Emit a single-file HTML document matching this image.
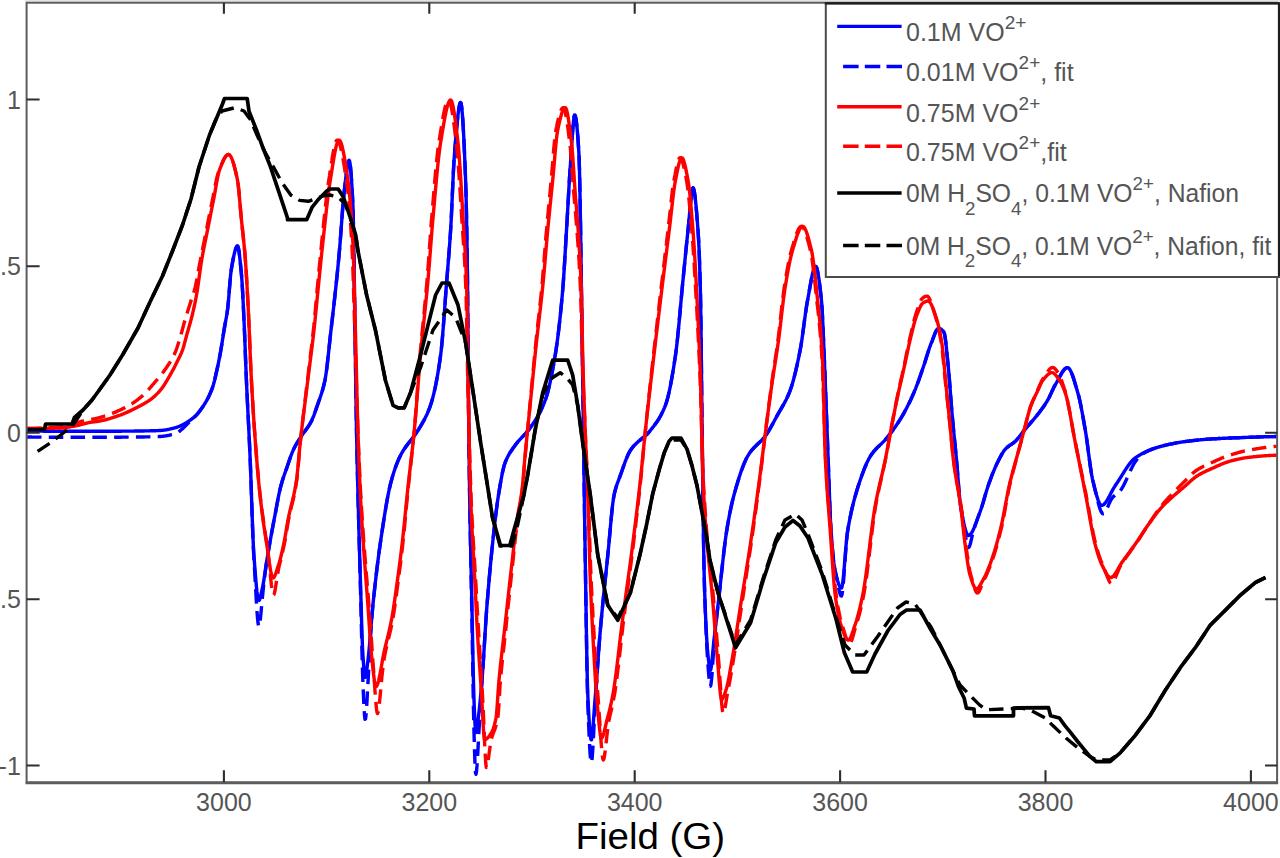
<!DOCTYPE html>
<html><head><meta charset="utf-8"><style>
html,body{margin:0;padding:0;background:#fff;width:1280px;height:858px;overflow:hidden}
svg{display:block}
</style></head><body>
<svg width="1280" height="858" viewBox="0 0 1280 858">
<rect x="0" y="0" width="1280" height="858" fill="#fff"/>
<defs><clipPath id="c"><rect x="27" y="3" width="1250" height="779"/></clipPath></defs>
<g clip-path="url(#c)" fill="none" stroke-width="3.4" stroke-linejoin="round">
<polyline stroke="#0000ff" points="27.0,431.0 27.5,431.0 28.0,431.0 28.5,431.0 29.0,431.0 29.5,431.0 30.0,431.0 30.5,431.0 31.0,431.0 31.5,431.0 32.0,431.1 32.5,431.1 33.0,431.1 33.5,431.1 34.0,431.1 34.5,431.1 35.0,431.1 35.5,431.1 36.0,431.1 36.5,431.1 37.0,431.1 37.5,431.1 38.0,431.1 38.5,431.1 39.0,431.1 39.5,431.1 40.0,431.1 40.5,431.1 41.0,431.1 41.5,431.1 42.0,431.1 42.5,431.1 43.0,431.1 43.5,431.2 44.0,431.2 44.5,431.2 45.0,431.2 45.5,431.2 46.0,431.2 46.5,431.2 47.0,431.2 47.5,431.2 48.0,431.2 48.5,431.2 49.0,431.2 49.5,431.2 50.0,431.2 50.5,431.2 51.0,431.2 51.5,431.2 52.0,431.2 52.5,431.2 53.0,431.2 53.5,431.2 54.0,431.2 54.5,431.2 55.0,431.2 55.5,431.2 56.0,431.2 56.5,431.2 57.0,431.2 57.5,431.2 58.0,431.2 58.5,431.2 59.0,431.2 59.5,431.3 60.0,431.3 60.5,431.3 61.0,431.3 61.5,431.3 62.0,431.3 62.5,431.3 63.0,431.3 63.5,431.3 64.0,431.3 64.5,431.3 65.0,431.3 65.5,431.3 66.0,431.3 66.5,431.3 67.0,431.3 67.5,431.3 68.0,431.3 68.5,431.3 69.0,431.3 69.5,431.3 70.0,431.3 70.5,431.3 71.0,431.3 71.5,431.3 72.0,431.3 72.5,431.3 73.0,431.3 73.5,431.3 74.0,431.3 74.5,431.3 75.0,431.3 75.5,431.3 76.0,431.3 76.5,431.3 77.0,431.3 77.5,431.3 78.0,431.3 78.5,431.3 79.0,431.3 79.5,431.3 80.0,431.3 80.5,431.3 81.0,431.3 81.5,431.3 82.0,431.3 82.5,431.3 83.0,431.3 83.5,431.3 84.0,431.3 84.5,431.3 85.0,431.3 85.5,431.3 86.0,431.3 86.5,431.3 87.0,431.3 87.5,431.3 88.0,431.3 88.5,431.3 89.0,431.3 89.5,431.3 90.0,431.3 90.5,431.3 91.0,431.3 91.5,431.3 92.0,431.3 92.5,431.3 93.0,431.3 93.5,431.3 94.0,431.3 94.5,431.3 95.0,431.3 95.5,431.3 96.0,431.3 96.5,431.3 97.0,431.3 97.5,431.3 98.0,431.3 98.5,431.3 99.0,431.3 99.5,431.3 100.0,431.3 100.5,431.3 101.0,431.3 101.5,431.3 102.0,431.3 102.5,431.3 103.0,431.3 103.5,431.3 104.0,431.2 104.5,431.2 105.0,431.2 105.5,431.2 106.0,431.2 106.5,431.2 107.0,431.2 107.5,431.2 108.0,431.2 108.5,431.2 109.0,431.2 109.5,431.2 110.0,431.2 110.5,431.2 111.0,431.2 111.5,431.2 112.0,431.2 112.5,431.2 113.0,431.2 113.5,431.2 114.0,431.2 114.5,431.2 115.0,431.2 115.5,431.2 116.0,431.2 116.5,431.2 117.0,431.2 117.5,431.2 118.0,431.2 118.5,431.2 119.0,431.2 119.5,431.2 120.0,431.2 120.5,431.2 121.0,431.2 121.5,431.2 122.0,431.1 122.5,431.1 123.0,431.1 123.5,431.1 124.0,431.1 124.5,431.1 125.0,431.1 125.5,431.1 126.0,431.1 126.5,431.1 127.0,431.1 127.5,431.1 128.0,431.1 128.5,431.1 129.0,431.1 129.5,431.1 130.0,431.1 130.5,431.1 131.0,431.1 131.5,431.1 132.0,431.1 132.5,431.1 133.0,431.1 133.5,431.1 134.0,431.1 134.5,431.0 135.0,431.0 135.5,431.0 136.0,431.0 136.5,431.0 137.0,431.0 137.5,431.0 138.0,431.0 138.5,431.0 139.0,431.0 139.5,431.0 140.0,431.0 140.5,431.0 141.0,431.0 141.5,431.0 142.0,431.0 142.5,431.0 143.0,431.0 143.5,431.0 144.0,431.0 144.5,430.9 145.0,430.9 145.5,430.9 146.0,430.9 146.5,430.9 147.0,430.9 147.5,430.9 148.0,430.9 148.5,430.9 149.0,430.9 149.5,430.9 150.0,430.8 150.5,430.8 151.0,430.8 151.5,430.8 152.0,430.8 152.5,430.8 153.0,430.8 153.5,430.7 154.0,430.7 154.5,430.7 155.0,430.7 155.5,430.7 156.0,430.7 156.5,430.6 157.0,430.6 157.5,430.6 158.0,430.6 158.5,430.6 159.0,430.5 159.5,430.5 160.0,430.5 160.5,430.5 161.0,430.4 161.5,430.4 162.0,430.4 162.5,430.3 163.0,430.3 163.5,430.2 164.0,430.1 164.5,430.1 165.0,430.0 165.5,429.9 166.0,429.8 166.5,429.7 167.0,429.7 167.5,429.6 168.0,429.5 168.5,429.4 169.0,429.3 169.5,429.2 170.0,429.0 170.5,428.9 171.0,428.8 171.5,428.7 172.0,428.6 172.5,428.4 173.0,428.3 173.5,428.2 174.0,428.1 174.5,427.9 175.0,427.8 175.5,427.7 176.0,427.5 176.5,427.4 177.0,427.2 177.5,427.0 178.0,426.8 178.5,426.7 179.0,426.5 179.5,426.3 180.0,426.0 180.5,425.8 181.0,425.6 181.5,425.4 182.0,425.1 182.5,424.9 183.0,424.6 183.5,424.4 184.0,424.1 184.5,423.8 185.0,423.5 185.5,423.2 186.0,422.9 186.5,422.6 187.0,422.3 187.5,422.0 188.0,421.7 188.5,421.3 189.0,421.0 189.5,420.6 190.0,420.3 190.5,419.9 191.0,419.6 191.5,419.2 192.0,418.8 192.5,418.5 193.0,418.1 193.5,417.7 194.0,417.3 194.5,416.9 195.0,416.4 195.5,416.0 196.0,415.5 196.5,414.9 197.0,414.4 197.5,413.8 198.0,413.2 198.5,412.6 199.0,412.0 199.5,411.3 200.0,410.7 200.5,410.0 201.0,409.3 201.5,408.6 202.0,407.9 202.5,407.1 203.0,406.4 203.5,405.6 204.0,404.9 204.5,404.1 205.0,403.3 205.5,402.5 206.0,401.6 206.5,400.8 207.0,399.9 207.5,398.9 208.0,398.0 208.5,397.0 209.0,395.9 209.5,394.9 210.0,393.8 210.5,392.6 211.0,391.4 211.5,390.2 212.0,388.9 212.5,387.5 213.0,386.0 213.5,384.4 214.0,382.5 214.5,380.6 215.0,378.5 215.5,376.4 216.0,374.1 216.5,371.9 217.0,369.6 217.5,367.4 218.0,365.1 218.5,362.6 219.0,360.1 219.5,357.5 220.0,354.9 220.5,352.2 221.0,349.3 221.5,346.3 222.0,343.2 222.5,340.0 223.0,336.8 223.5,333.6 224.0,330.4 224.5,327.4 225.0,324.6 225.5,321.9 226.0,319.3 226.5,316.5 227.0,313.5 227.5,310.0 228.0,305.6 228.5,300.3 229.0,294.2 229.5,287.9 230.0,281.8 230.5,276.2 231.0,271.6 231.5,268.2 232.0,265.4 232.5,262.6 233.0,259.9 233.5,257.4 234.0,255.0 234.5,252.8 235.0,250.9 235.5,249.2 236.0,247.9 236.5,246.9 237.0,246.2 237.5,246.0 238.0,246.7 238.5,248.5 239.0,251.4 239.5,255.2 240.0,259.6 240.5,264.5 241.0,269.7 241.5,275.0 242.0,281.4 242.5,289.7 243.0,299.2 243.5,309.5 244.0,320.0 244.5,331.4 245.0,344.1 245.5,357.4 246.0,370.4 246.5,382.3 247.0,393.2 247.5,403.5 248.0,413.5 248.5,423.4 249.0,433.5 249.5,443.9 250.0,455.0 250.5,467.5 251.0,481.4 251.5,496.2 252.0,511.0 252.5,525.1 253.0,537.9 253.5,548.5 254.0,556.4 254.5,563.2 255.0,569.8 255.5,576.1 256.0,582.0 256.5,587.3 257.0,591.9 257.5,595.7 258.0,598.4 258.5,600.1 259.0,600.5 259.5,599.9 260.0,598.5 260.5,596.7 261.0,594.5 261.5,592.2 262.0,590.0 262.5,587.7 263.0,585.1 263.5,582.2 264.0,579.2 264.5,575.9 265.0,572.6 265.5,569.2 266.0,565.8 266.5,562.5 267.0,559.3 267.5,556.2 268.0,553.3 268.5,550.4 269.0,547.5 269.5,544.7 270.0,541.9 270.5,539.1 271.0,536.4 271.5,533.6 272.0,530.9 272.5,528.2 273.0,525.6 273.5,522.9 274.0,520.2 274.5,517.6 275.0,515.0 275.5,512.4 276.0,509.7 276.5,507.0 277.0,504.3 277.5,501.6 278.0,499.0 278.5,496.4 279.0,494.0 279.5,491.6 280.0,489.4 280.5,487.4 281.0,485.5 281.5,483.7 282.0,482.0 282.5,480.3 283.0,478.8 283.5,477.2 284.0,475.8 284.5,474.3 285.0,472.9 285.5,471.5 286.0,470.1 286.5,468.6 287.0,467.2 287.5,465.8 288.0,464.3 288.5,462.8 289.0,461.3 289.5,459.9 290.0,458.4 290.5,457.0 291.0,455.6 291.5,454.3 292.0,453.0 292.5,451.7 293.0,450.6 293.5,449.4 294.0,448.4 294.5,447.4 295.0,446.4 295.5,445.5 296.0,444.7 296.5,443.8 297.0,443.0 297.5,442.2 298.0,441.4 298.5,440.6 299.0,439.8 299.5,439.1 300.0,438.3 300.5,437.5 301.0,436.8 301.5,436.0 302.0,435.2 302.5,434.5 303.0,433.8 303.5,433.1 304.0,432.4 304.5,431.7 305.0,431.0 305.5,430.3 306.0,429.7 306.5,429.0 307.0,428.3 307.5,427.6 308.0,426.9 308.5,426.1 309.0,425.3 309.5,424.5 310.0,423.7 310.5,422.8 311.0,421.9 311.5,420.9 312.0,419.9 312.5,418.7 313.0,417.5 313.5,416.3 314.0,415.0 314.5,413.6 315.0,412.2 315.5,410.8 316.0,409.4 316.5,407.9 317.0,406.5 317.5,405.0 318.0,403.6 318.5,402.1 319.0,400.7 319.5,399.4 320.0,398.0 320.5,396.5 321.0,395.0 321.5,393.5 322.0,391.9 322.5,390.2 323.0,388.4 323.5,386.5 324.0,384.5 324.5,382.3 325.0,380.0 325.5,377.3 326.0,374.1 326.5,370.5 327.0,366.6 327.5,362.3 328.0,357.8 328.5,353.2 329.0,348.5 329.5,343.7 330.0,339.0 330.5,334.4 331.0,330.0 331.5,325.7 332.0,321.4 332.5,317.1 333.0,312.7 333.5,308.4 334.0,304.0 334.5,299.5 335.0,295.0 335.5,290.4 336.0,285.7 336.5,281.0 337.0,276.1 337.5,271.2 338.0,266.1 338.5,260.9 339.0,255.5 339.5,250.0 340.0,244.1 340.5,237.7 341.0,230.9 341.5,224.0 342.0,217.2 342.5,210.5 343.0,204.3 343.5,198.6 344.0,193.7 344.5,189.3 345.0,184.8 345.5,180.3 346.0,176.0 346.5,171.9 347.0,168.2 347.5,165.1 348.0,162.6 348.5,161.0 349.0,160.2 349.5,160.8 350.0,163.1 350.5,167.1 351.0,172.6 351.5,179.5 352.0,187.6 352.5,196.9 353.0,207.4 353.5,228.5 354.0,259.9 354.5,295.7 355.0,330.0 355.5,364.1 356.0,399.4 356.5,430.0 357.0,454.2 357.5,475.3 358.0,495.0 358.5,514.2 359.0,532.4 359.5,550.0 360.0,566.9 360.5,583.3 361.0,600.5 361.5,618.0 362.0,634.2 362.5,647.5 363.0,656.5 363.5,663.6 364.0,670.0 364.5,674.8 365.0,677.4 365.5,677.3 366.0,675.4 366.5,672.3 367.0,668.4 367.5,664.1 368.0,660.0 368.5,655.7 369.0,650.7 369.5,645.1 370.0,639.1 370.5,633.0 371.0,626.7 371.5,620.6 372.0,614.6 372.5,609.1 373.0,604.0 373.5,599.3 374.0,594.6 374.5,590.0 375.0,585.5 375.5,581.1 376.0,576.7 376.5,572.5 377.0,568.3 377.5,564.3 378.0,560.3 378.5,556.5 379.0,552.7 379.5,549.0 380.0,545.5 380.5,542.0 381.0,538.6 381.5,535.2 382.0,531.8 382.5,528.5 383.0,525.2 383.5,521.9 384.0,518.7 384.5,515.6 385.0,512.5 385.5,509.4 386.0,506.5 386.5,503.6 387.0,500.8 387.5,498.0 388.0,495.4 388.5,492.9 389.0,490.5 389.5,488.2 390.0,486.0 390.5,483.9 391.0,482.0 391.5,480.2 392.0,478.4 392.5,476.6 393.0,475.0 393.5,473.3 394.0,471.7 394.5,470.2 395.0,468.7 395.5,467.3 396.0,465.9 396.5,464.6 397.0,463.3 397.5,462.0 398.0,460.8 398.5,459.6 399.0,458.5 399.5,457.4 400.0,456.4 400.5,455.4 401.0,454.4 401.5,453.5 402.0,452.6 402.5,451.8 403.0,450.9 403.5,450.1 404.0,449.4 404.5,448.6 405.0,447.9 405.5,447.2 406.0,446.5 406.5,445.8 407.0,445.2 407.5,444.5 408.0,443.9 408.5,443.2 409.0,442.6 409.5,442.0 410.0,441.4 410.5,440.8 411.0,440.2 411.5,439.5 412.0,438.9 412.5,438.3 413.0,437.7 413.5,437.0 414.0,436.4 414.5,435.7 415.0,435.0 415.5,434.3 416.0,433.6 416.5,432.8 417.0,432.0 417.5,431.2 418.0,430.4 418.5,429.6 419.0,428.7 419.5,427.9 420.0,427.1 420.5,426.3 421.0,425.4 421.5,424.6 422.0,423.7 422.5,422.9 423.0,422.0 423.5,421.1 424.0,420.2 424.5,419.3 425.0,418.3 425.5,417.3 426.0,416.3 426.5,415.3 427.0,414.2 427.5,413.1 428.0,411.9 428.5,410.7 429.0,409.4 429.5,408.1 430.0,406.7 430.5,405.3 431.0,403.8 431.5,402.2 432.0,400.5 432.5,398.8 433.0,396.9 433.5,394.9 434.0,392.9 434.5,390.7 435.0,388.4 435.5,386.0 436.0,383.5 436.5,380.9 437.0,378.2 437.5,375.4 438.0,372.5 438.5,369.4 439.0,366.2 439.5,362.9 440.0,359.5 440.5,355.9 441.0,352.1 441.5,347.5 442.0,342.4 442.5,336.8 443.0,330.7 443.5,324.4 444.0,317.7 444.5,310.9 445.0,304.1 445.5,297.2 446.0,290.4 446.5,283.8 447.0,277.5 447.5,271.4 448.0,265.3 448.5,259.2 449.0,252.9 449.5,246.3 450.0,239.4 450.5,232.0 451.0,223.5 451.5,213.5 452.0,202.5 452.5,191.2 453.0,180.0 453.5,169.7 454.0,160.9 454.5,154.0 455.0,147.8 455.5,141.7 456.0,135.7 456.5,129.9 457.0,124.5 457.5,119.4 458.0,114.8 458.5,110.8 459.0,107.5 459.5,105.0 460.0,103.3 460.5,102.6 461.0,103.2 461.5,105.8 462.0,110.1 462.5,116.0 463.0,123.4 463.5,132.2 464.0,142.1 464.5,153.1 465.0,165.0 465.5,177.6 466.0,193.0 466.5,215.6 467.0,244.8 467.5,280.0 468.0,336.8 468.5,400.0 469.0,448.4 469.5,486.6 470.0,516.2 470.5,541.5 471.0,564.5 471.5,586.6 472.0,609.8 472.5,635.2 473.0,660.7 473.5,683.3 474.0,700.0 474.5,712.8 475.0,724.1 475.5,731.3 476.0,732.5 476.5,731.0 477.0,728.3 477.5,724.7 478.0,720.6 478.5,716.2 479.0,712.0 479.5,707.7 480.0,702.9 480.5,697.6 481.0,692.0 481.5,686.1 482.0,680.0 482.5,673.5 483.0,666.4 483.5,658.7 484.0,650.8 484.5,642.7 485.0,634.6 485.5,626.6 486.0,618.9 486.5,611.7 487.0,605.0 487.5,598.8 488.0,592.7 488.5,586.8 489.0,581.0 489.5,575.3 490.0,569.8 490.5,564.5 491.0,559.3 491.5,554.2 492.0,549.2 492.5,544.3 493.0,539.6 493.5,535.0 494.0,530.5 494.5,526.0 495.0,521.6 495.5,517.3 496.0,513.1 496.5,509.1 497.0,505.3 497.5,501.6 498.0,498.2 498.5,495.0 499.0,491.9 499.5,488.9 500.0,485.9 500.5,483.0 501.0,480.2 501.5,477.5 502.0,474.9 502.5,472.4 503.0,470.2 503.5,468.1 504.0,466.1 504.5,464.5 505.0,463.0 505.5,461.7 506.0,460.5 506.5,459.3 507.0,458.2 507.5,457.2 508.0,456.2 508.5,455.3 509.0,454.4 509.5,453.5 510.0,452.7 510.5,451.9 511.0,451.2 511.5,450.4 512.0,449.7 512.5,449.0 513.0,448.3 513.5,447.6 514.0,446.9 514.5,446.2 515.0,445.5 515.5,444.8 516.0,444.2 516.5,443.5 517.0,442.9 517.5,442.3 518.0,441.7 518.5,441.1 519.0,440.5 519.5,440.0 520.0,439.4 520.5,438.9 521.0,438.3 521.5,437.8 522.0,437.3 522.5,436.8 523.0,436.2 523.5,435.7 524.0,435.2 524.5,434.7 525.0,434.1 525.5,433.6 526.0,433.0 526.5,432.5 527.0,431.9 527.5,431.3 528.0,430.7 528.5,430.1 529.0,429.4 529.5,428.7 530.0,428.0 530.5,427.3 531.0,426.6 531.5,425.9 532.0,425.2 532.5,424.5 533.0,423.7 533.5,423.0 534.0,422.3 534.5,421.5 535.0,420.8 535.5,420.0 536.0,419.2 536.5,418.4 537.0,417.6 537.5,416.7 538.0,415.9 538.5,415.0 539.0,414.1 539.5,413.1 540.0,412.2 540.5,411.2 541.0,410.2 541.5,409.1 542.0,408.1 542.5,406.9 543.0,405.8 543.5,404.6 544.0,403.4 544.5,402.1 545.0,400.8 545.5,399.5 546.0,398.0 546.5,396.5 547.0,394.8 547.5,393.0 548.0,391.2 548.5,389.2 549.0,387.2 549.5,385.1 550.0,382.9 550.5,380.5 551.0,378.2 551.5,375.7 552.0,373.2 552.5,370.5 553.0,367.8 553.5,365.1 554.0,362.3 554.5,359.4 555.0,356.4 555.5,353.4 556.0,350.2 556.5,346.8 557.0,343.3 557.5,339.5 558.0,335.7 558.5,331.6 559.0,327.3 559.5,322.9 560.0,318.3 560.5,313.5 561.0,308.5 561.5,303.3 562.0,297.9 562.5,292.3 563.0,286.4 563.5,279.6 564.0,272.1 564.5,264.1 565.0,255.7 565.5,247.2 566.0,238.7 566.5,230.4 567.0,222.0 567.5,213.2 568.0,204.2 568.5,195.3 569.0,186.5 569.5,178.2 570.0,170.6 570.5,163.4 571.0,155.8 571.5,147.9 572.0,140.2 572.5,132.9 573.0,126.4 573.5,121.1 574.0,117.2 574.5,115.3 575.0,115.3 575.5,116.7 576.0,119.1 576.5,122.7 577.0,127.3 577.5,133.0 578.0,139.5 578.5,146.9 579.0,155.2 579.5,170.7 580.0,194.9 580.5,222.9 581.0,258.4 581.5,295.0 582.0,329.9 582.5,364.9 583.0,400.0 583.5,436.0 584.0,472.8 584.5,508.8 585.0,542.6 585.5,574.1 586.0,606.6 586.5,638.1 587.0,665.7 587.5,686.7 588.0,699.2 588.5,709.3 589.0,718.3 589.5,726.2 590.0,732.5 590.5,737.0 591.0,739.6 591.5,739.8 592.0,737.5 592.5,733.2 593.0,727.4 593.5,720.6 594.0,713.5 594.5,706.4 595.0,700.0 595.5,693.9 596.0,687.5 596.5,680.8 597.0,674.0 597.5,667.1 598.0,660.1 598.5,653.3 599.0,646.6 599.5,640.1 600.0,633.9 600.5,628.1 601.0,622.5 601.5,617.1 602.0,611.8 602.5,606.7 603.0,601.6 603.5,596.6 604.0,591.7 604.5,586.9 605.0,582.1 605.5,577.3 606.0,572.5 606.5,567.7 607.0,563.0 607.5,558.1 608.0,553.2 608.5,548.1 609.0,542.7 609.5,537.1 610.0,531.6 610.5,526.0 611.0,520.6 611.5,515.4 612.0,510.5 612.5,505.9 613.0,501.9 613.5,498.3 614.0,495.5 614.5,493.2 615.0,491.1 615.5,489.2 616.0,487.4 616.5,485.8 617.0,484.3 617.5,482.9 618.0,481.6 618.5,480.3 619.0,479.0 619.5,477.7 620.0,476.3 620.5,474.9 621.0,473.5 621.5,472.1 622.0,470.7 622.5,469.2 623.0,467.8 623.5,466.4 624.0,465.0 624.5,463.6 625.0,462.2 625.5,460.9 626.0,459.6 626.5,458.3 627.0,457.1 627.5,456.0 628.0,454.8 628.5,453.8 629.0,452.8 629.5,451.9 630.0,451.0 630.5,450.3 631.0,449.5 631.5,448.8 632.0,448.2 632.5,447.5 633.0,446.9 633.5,446.3 634.0,445.7 634.5,445.2 635.0,444.7 635.5,444.2 636.0,443.7 636.5,443.2 637.0,442.7 637.5,442.3 638.0,441.8 638.5,441.4 639.0,441.0 639.5,440.6 640.0,440.2 640.5,439.7 641.0,439.3 641.5,438.9 642.0,438.5 642.5,438.1 643.0,437.7 643.5,437.3 644.0,436.9 644.5,436.5 645.0,436.0 645.5,435.6 646.0,435.1 646.5,434.7 647.0,434.2 647.5,433.7 648.0,433.2 648.5,432.6 649.0,432.1 649.5,431.5 650.0,430.9 650.5,430.3 651.0,429.6 651.5,429.0 652.0,428.4 652.5,427.7 653.0,427.1 653.5,426.5 654.0,425.8 654.5,425.2 655.0,424.5 655.5,423.8 656.0,423.1 656.5,422.4 657.0,421.7 657.5,420.9 658.0,420.2 658.5,419.4 659.0,418.6 659.5,417.7 660.0,416.9 660.5,416.0 661.0,415.0 661.5,414.1 662.0,413.1 662.5,412.1 663.0,411.0 663.5,409.9 664.0,408.7 664.5,407.6 665.0,406.3 665.5,405.0 666.0,403.6 666.5,402.1 667.0,400.4 667.5,398.6 668.0,396.7 668.5,394.6 669.0,392.5 669.5,390.2 670.0,387.8 670.5,385.3 671.0,382.6 671.5,379.9 672.0,377.1 672.5,374.2 673.0,371.2 673.5,368.2 674.0,365.0 674.5,361.8 675.0,358.5 675.5,355.2 676.0,351.6 676.5,347.6 677.0,343.3 677.5,338.6 678.0,333.7 678.5,328.6 679.0,323.3 679.5,317.9 680.0,312.4 680.5,306.8 681.0,301.3 681.5,295.8 682.0,290.4 682.5,285.1 683.0,280.0 683.5,275.0 684.0,269.9 684.5,264.8 685.0,259.8 685.5,254.7 686.0,249.7 686.5,244.7 687.0,239.8 687.5,235.1 688.0,230.4 688.5,225.5 689.0,220.1 689.5,214.5 690.0,208.8 690.5,203.4 691.0,198.4 691.5,194.1 692.0,190.8 692.5,188.6 693.0,187.8 693.5,188.4 694.0,190.1 694.5,192.7 695.0,196.3 695.5,200.6 696.0,205.6 696.5,211.2 697.0,217.3 697.5,223.7 698.0,230.4 698.5,238.2 699.0,248.1 699.5,260.7 700.0,276.2 700.5,295.0 701.0,328.1 701.5,375.2 702.0,420.0 702.5,460.0 703.0,500.8 703.5,538.2 704.0,567.9 704.5,586.6 705.0,601.4 705.5,614.4 706.0,625.7 706.5,635.4 707.0,643.5 707.5,650.2 708.0,655.4 708.5,659.9 709.0,664.1 709.5,667.4 710.0,669.6 710.5,670.2 711.0,668.7 711.5,665.5 712.0,661.0 712.5,655.7 713.0,650.1 713.5,644.7 714.0,640.0 714.5,635.7 715.0,631.4 715.5,627.1 716.0,622.7 716.5,618.3 717.0,614.0 717.5,609.6 718.0,605.3 718.5,600.9 719.0,596.5 719.5,591.9 720.0,587.3 720.5,582.6 721.0,578.0 721.5,573.3 722.0,568.7 722.5,564.1 723.0,559.6 723.5,555.2 724.0,550.9 724.5,546.7 725.0,542.7 725.5,538.9 726.0,535.3 726.5,532.0 727.0,528.9 727.5,525.9 728.0,523.0 728.5,520.2 729.0,517.5 729.5,514.8 730.0,512.3 730.5,509.8 731.0,507.5 731.5,505.2 732.0,503.0 732.5,500.9 733.0,498.8 733.5,496.9 734.0,495.0 734.5,493.2 735.0,491.4 735.5,489.6 736.0,487.8 736.5,486.1 737.0,484.4 737.5,482.7 738.0,481.1 738.5,479.4 739.0,477.8 739.5,476.3 740.0,474.7 740.5,473.2 741.0,471.8 741.5,470.3 742.0,469.0 742.5,467.6 743.0,466.3 743.5,465.0 744.0,463.8 744.5,462.6 745.0,461.5 745.5,460.4 746.0,459.3 746.5,458.3 747.0,457.3 747.5,456.4 748.0,455.6 748.5,454.8 749.0,454.0 749.5,453.2 750.0,452.5 750.5,451.8 751.0,451.2 751.5,450.5 752.0,449.9 752.5,449.4 753.0,448.8 753.5,448.2 754.0,447.7 754.5,447.2 755.0,446.7 755.5,446.2 756.0,445.7 756.5,445.2 757.0,444.7 757.5,444.3 758.0,443.8 758.5,443.3 759.0,442.9 759.5,442.4 760.0,441.9 760.5,441.4 761.0,440.9 761.5,440.4 762.0,439.9 762.5,439.3 763.0,438.8 763.5,438.2 764.0,437.6 764.5,437.0 765.0,436.3 765.5,435.7 766.0,435.0 766.5,434.3 767.0,433.5 767.5,432.7 768.0,432.0 768.5,431.2 769.0,430.3 769.5,429.5 770.0,428.7 770.5,427.8 771.0,426.9 771.5,426.0 772.0,425.1 772.5,424.2 773.0,423.3 773.5,422.4 774.0,421.5 774.5,420.5 775.0,419.6 775.5,418.7 776.0,417.8 776.5,416.8 777.0,415.9 777.5,415.0 778.0,414.1 778.5,413.2 779.0,412.3 779.5,411.5 780.0,410.6 780.5,409.8 781.0,408.9 781.5,408.1 782.0,407.2 782.5,406.3 783.0,405.5 783.5,404.6 784.0,403.7 784.5,402.8 785.0,401.8 785.5,400.9 786.0,399.9 786.5,398.9 787.0,397.8 787.5,396.8 788.0,395.7 788.5,394.5 789.0,393.3 789.5,392.1 790.0,390.8 790.5,389.4 791.0,388.0 791.5,386.5 792.0,384.9 792.5,383.2 793.0,381.5 793.5,379.7 794.0,377.8 794.5,375.9 795.0,373.9 795.5,371.8 796.0,369.7 796.5,367.5 797.0,365.3 797.5,363.0 798.0,360.7 798.5,358.3 799.0,355.9 799.5,353.4 800.0,350.9 800.5,348.3 801.0,345.4 801.5,342.2 802.0,338.9 802.5,335.3 803.0,331.7 803.5,328.0 804.0,324.3 804.5,320.6 805.0,316.9 805.5,313.3 806.0,309.9 806.5,306.6 807.0,303.5 807.5,300.7 808.0,298.1 808.5,295.3 809.0,292.5 809.5,289.6 810.0,286.8 810.5,284.0 811.0,281.2 811.5,278.6 812.0,276.1 812.5,273.9 813.0,271.8 813.5,270.1 814.0,268.6 814.5,267.5 815.0,266.7 815.5,266.4 816.0,266.6 816.5,267.4 817.0,268.9 817.5,270.9 818.0,273.3 818.5,276.3 819.0,279.6 819.5,283.3 820.0,287.4 820.5,291.7 821.0,296.2 821.5,301.0 822.0,307.7 822.5,316.7 823.0,327.4 823.5,339.1 824.0,351.2 824.5,363.0 825.0,375.1 825.5,388.2 826.0,401.6 826.5,415.0 827.0,428.3 827.5,441.8 828.0,455.0 828.5,468.5 829.0,482.7 829.5,496.7 830.0,509.8 830.5,521.2 831.0,530.0 831.5,537.1 832.0,543.6 832.5,549.6 833.0,555.0 833.5,559.8 834.0,563.9 834.5,567.3 835.0,570.0 835.5,572.3 836.0,574.4 836.5,576.5 837.0,578.5 837.5,580.4 838.0,582.0 838.5,583.6 839.0,584.9 839.5,586.0 840.0,586.9 840.5,587.5 841.0,587.9 841.5,588.0 842.0,586.8 842.5,584.3 843.0,580.5 843.5,575.8 844.0,570.3 844.5,564.4 845.0,558.2 845.5,552.0 846.0,546.0 846.5,540.5 847.0,535.6 847.5,531.7 848.0,528.7 848.5,525.9 849.0,523.2 849.5,520.5 850.0,518.0 850.5,515.6 851.0,513.2 851.5,510.9 852.0,508.7 852.5,506.6 853.0,504.5 853.5,502.5 854.0,500.6 854.5,498.7 855.0,496.9 855.5,495.1 856.0,493.4 856.5,491.7 857.0,490.0 857.5,488.4 858.0,486.8 858.5,485.3 859.0,483.8 859.5,482.3 860.0,480.8 860.5,479.3 861.0,477.9 861.5,476.4 862.0,475.0 862.5,473.7 863.0,472.3 863.5,471.0 864.0,469.7 864.5,468.4 865.0,467.2 865.5,466.0 866.0,464.8 866.5,463.6 867.0,462.5 867.5,461.5 868.0,460.5 868.5,459.5 869.0,458.5 869.5,457.6 870.0,456.8 870.5,456.0 871.0,455.2 871.5,454.5 872.0,453.8 872.5,453.1 873.0,452.5 873.5,451.8 874.0,451.2 874.5,450.6 875.0,450.1 875.5,449.5 876.0,449.0 876.5,448.5 877.0,447.9 877.5,447.4 878.0,446.9 878.5,446.5 879.0,446.0 879.5,445.5 880.0,445.0 880.5,444.6 881.0,444.1 881.5,443.6 882.0,443.1 882.5,442.6 883.0,442.1 883.5,441.6 884.0,441.1 884.5,440.6 885.0,440.1 885.5,439.5 886.0,439.0 886.5,438.4 887.0,437.8 887.5,437.1 888.0,436.5 888.5,435.9 889.0,435.3 889.5,434.6 890.0,434.0 890.5,433.3 891.0,432.7 891.5,432.0 892.0,431.3 892.5,430.7 893.0,430.0 893.5,429.3 894.0,428.6 894.5,427.9 895.0,427.2 895.5,426.5 896.0,425.8 896.5,425.0 897.0,424.3 897.5,423.5 898.0,422.8 898.5,422.0 899.0,421.2 899.5,420.5 900.0,419.7 900.5,418.9 901.0,418.1 901.5,417.2 902.0,416.4 902.5,415.6 903.0,414.7 903.5,413.8 904.0,412.9 904.5,412.0 905.0,411.1 905.5,410.2 906.0,409.2 906.5,408.3 907.0,407.3 907.5,406.3 908.0,405.3 908.5,404.3 909.0,403.3 909.5,402.3 910.0,401.2 910.5,400.2 911.0,399.1 911.5,398.0 912.0,396.9 912.5,395.8 913.0,394.7 913.5,393.5 914.0,392.4 914.5,391.2 915.0,390.0 915.5,388.8 916.0,387.5 916.5,386.2 917.0,384.9 917.5,383.6 918.0,382.2 918.5,380.9 919.0,379.5 919.5,378.0 920.0,376.6 920.5,375.2 921.0,373.8 921.5,372.3 922.0,370.9 922.5,369.4 923.0,368.0 923.5,366.5 924.0,365.0 924.5,363.5 925.0,361.9 925.5,360.3 926.0,358.7 926.5,357.1 927.0,355.5 927.5,353.9 928.0,352.3 928.5,350.8 929.0,349.2 929.5,347.8 930.0,346.4 930.5,345.0 931.0,343.7 931.5,342.5 932.0,341.3 932.5,340.0 933.0,338.6 933.5,337.3 934.0,336.0 934.5,334.7 935.0,333.4 935.5,332.3 936.0,331.3 936.5,330.3 937.0,329.6 937.5,328.9 938.0,328.5 938.5,328.3 939.0,328.3 939.5,328.4 940.0,328.6 940.5,328.8 941.0,329.1 941.5,329.5 942.0,330.0 942.5,330.5 943.0,331.1 943.5,331.8 944.0,332.5 944.5,333.9 945.0,336.5 945.5,340.0 946.0,344.2 946.5,349.0 947.0,354.0 947.5,359.1 948.0,364.0 948.5,369.1 949.0,374.8 949.5,380.9 950.0,387.3 950.5,393.9 951.0,400.5 951.5,406.8 952.0,412.9 952.5,418.6 953.0,424.0 953.5,429.3 954.0,434.4 954.5,439.4 955.0,444.5 955.5,449.5 956.0,454.7 956.5,460.0 957.0,465.7 957.5,472.0 958.0,478.4 958.5,484.9 959.0,491.0 959.5,496.6 960.0,501.4 960.5,505.0 961.0,508.0 961.5,510.9 962.0,513.8 962.5,516.5 963.0,519.2 963.5,521.7 964.0,524.1 964.5,526.3 965.0,528.3 965.5,530.1 966.0,531.7 966.5,533.0 967.0,534.1 967.5,534.8 968.0,535.3 968.5,535.5 969.0,535.4 969.5,535.2 970.0,534.8 970.5,534.3 971.0,533.7 971.5,533.0 972.0,532.2 972.5,531.2 973.0,530.2 973.5,529.1 974.0,528.0 974.5,526.8 975.0,525.5 975.5,524.2 976.0,522.9 976.5,521.5 977.0,520.1 977.5,518.7 978.0,517.3 978.5,516.0 979.0,514.6 979.5,513.3 980.0,512.0 980.5,510.7 981.0,509.3 981.5,507.8 982.0,506.2 982.5,504.6 983.0,502.9 983.5,501.2 984.0,499.5 984.5,497.8 985.0,496.0 985.5,494.3 986.0,492.6 986.5,490.9 987.0,489.2 987.5,487.7 988.0,486.2 988.5,484.7 989.0,483.3 989.5,481.9 990.0,480.6 990.5,479.2 991.0,477.9 991.5,476.5 992.0,475.2 992.5,474.0 993.0,472.7 993.5,471.5 994.0,470.3 994.5,469.1 995.0,467.9 995.5,466.8 996.0,465.7 996.5,464.6 997.0,463.6 997.5,462.6 998.0,461.5 998.5,460.5 999.0,459.5 999.5,458.5 1000.0,457.5 1000.5,456.6 1001.0,455.7 1001.5,454.8 1002.0,453.9 1002.5,453.1 1003.0,452.3 1003.5,451.5 1004.0,450.8 1004.5,450.1 1005.0,449.5 1005.5,449.0 1006.0,448.5 1006.5,448.0 1007.0,447.5 1007.5,447.1 1008.0,446.7 1008.5,446.3 1009.0,445.9 1009.5,445.6 1010.0,445.2 1010.5,444.9 1011.0,444.6 1011.5,444.2 1012.0,443.9 1012.5,443.5 1013.0,443.2 1013.5,442.8 1014.0,442.4 1014.5,442.0 1015.0,441.6 1015.5,441.1 1016.0,440.6 1016.5,440.1 1017.0,439.5 1017.5,438.9 1018.0,438.3 1018.5,437.7 1019.0,437.1 1019.5,436.4 1020.0,435.8 1020.5,435.1 1021.0,434.4 1021.5,433.7 1022.0,433.1 1022.5,432.4 1023.0,431.8 1023.5,431.1 1024.0,430.5 1024.5,429.9 1025.0,429.3 1025.5,428.7 1026.0,428.2 1026.5,427.6 1027.0,427.0 1027.5,426.4 1028.0,425.9 1028.5,425.3 1029.0,424.7 1029.5,424.2 1030.0,423.6 1030.5,423.0 1031.0,422.5 1031.5,421.9 1032.0,421.3 1032.5,420.8 1033.0,420.2 1033.5,419.6 1034.0,419.0 1034.5,418.4 1035.0,417.8 1035.5,417.2 1036.0,416.6 1036.5,416.0 1037.0,415.3 1037.5,414.7 1038.0,414.0 1038.5,413.4 1039.0,412.8 1039.5,412.1 1040.0,411.5 1040.5,410.8 1041.0,410.1 1041.5,409.5 1042.0,408.8 1042.5,408.1 1043.0,407.4 1043.5,406.7 1044.0,406.0 1044.5,405.2 1045.0,404.5 1045.5,403.7 1046.0,402.9 1046.5,402.1 1047.0,401.3 1047.5,400.5 1048.0,399.6 1048.5,398.7 1049.0,397.7 1049.5,396.7 1050.0,395.6 1050.5,394.5 1051.0,393.5 1051.5,392.4 1052.0,391.3 1052.5,390.2 1053.0,389.2 1053.5,388.1 1054.0,387.1 1054.5,386.2 1055.0,385.2 1055.5,384.4 1056.0,383.5 1056.5,382.7 1057.0,381.8 1057.5,380.8 1058.0,379.9 1058.5,379.0 1059.0,378.0 1059.5,377.1 1060.0,376.2 1060.5,375.3 1061.0,374.4 1061.5,373.5 1062.0,372.7 1062.5,371.9 1063.0,371.2 1063.5,370.5 1064.0,369.9 1064.5,369.3 1065.0,368.8 1065.5,368.4 1066.0,368.1 1066.5,367.8 1067.0,367.7 1067.5,367.6 1068.0,367.7 1068.5,368.0 1069.0,368.4 1069.5,369.0 1070.0,369.8 1070.5,370.7 1071.0,371.7 1071.5,372.8 1072.0,374.1 1072.5,375.4 1073.0,376.9 1073.5,378.4 1074.0,379.9 1074.5,381.5 1075.0,383.2 1075.5,384.9 1076.0,386.6 1076.5,388.3 1077.0,390.0 1077.5,391.7 1078.0,393.4 1078.5,395.2 1079.0,397.2 1079.5,399.3 1080.0,401.5 1080.5,403.9 1081.0,406.4 1081.5,409.0 1082.0,411.6 1082.5,414.3 1083.0,417.1 1083.5,419.9 1084.0,422.7 1084.5,425.6 1085.0,428.5 1085.5,431.4 1086.0,434.5 1086.5,437.8 1087.0,441.4 1087.5,445.1 1088.0,448.9 1088.5,452.7 1089.0,456.5 1089.5,460.3 1090.0,463.9 1090.5,467.5 1091.0,470.8 1091.5,473.9 1092.0,476.7 1092.5,479.1 1093.0,481.2 1093.5,483.2 1094.0,485.3 1094.5,487.3 1095.0,489.3 1095.5,491.2 1096.0,493.1 1096.5,495.0 1097.0,496.7 1097.5,498.3 1098.0,499.8 1098.5,501.1 1099.0,502.3 1099.5,503.3 1100.0,504.2 1100.5,504.8 1101.0,505.2 1101.5,505.4 1102.0,505.4 1102.5,505.2 1103.0,505.0 1103.5,504.7 1104.0,504.3 1104.5,503.8 1105.0,503.2 1105.5,502.6 1106.0,502.0 1106.5,501.2 1107.0,500.4 1107.5,499.6 1108.0,498.7 1108.5,497.8 1109.0,496.9 1109.5,496.0 1110.0,495.0 1110.5,494.1 1111.0,493.1 1111.5,492.1 1112.0,491.2 1112.5,490.2 1113.0,489.3 1113.5,488.4 1114.0,487.6 1114.5,486.8 1115.0,486.0 1115.5,485.3 1116.0,484.5 1116.5,483.8 1117.0,483.1 1117.5,482.3 1118.0,481.5 1118.5,480.8 1119.0,480.0 1119.5,479.2 1120.0,478.4 1120.5,477.6 1121.0,476.8 1121.5,476.0 1122.0,475.2 1122.5,474.4 1123.0,473.6 1123.5,472.8 1124.0,472.0 1124.5,471.2 1125.0,470.4 1125.5,469.6 1126.0,468.9 1126.5,468.1 1127.0,467.4 1127.5,466.6 1128.0,465.9 1128.5,465.2 1129.0,464.5 1129.5,463.9 1130.0,463.2 1130.5,462.6 1131.0,462.0 1131.5,461.4 1132.0,460.9 1132.5,460.3 1133.0,459.8 1133.5,459.3 1134.0,458.9 1134.5,458.5 1135.0,458.1 1135.5,457.7 1136.0,457.4 1136.5,457.1 1137.0,456.7 1137.5,456.4 1138.0,456.1 1138.5,455.8 1139.0,455.5 1139.5,455.2 1140.0,454.9 1140.5,454.6 1141.0,454.3 1141.5,454.0 1142.0,453.7 1142.5,453.5 1143.0,453.2 1143.5,452.9 1144.0,452.7 1144.5,452.4 1145.0,452.2 1145.5,452.0 1146.0,451.7 1146.5,451.5 1147.0,451.3 1147.5,451.0 1148.0,450.8 1148.5,450.6 1149.0,450.4 1149.5,450.2 1150.0,450.0 1150.5,449.8 1151.0,449.6 1151.5,449.4 1152.0,449.2 1152.5,449.0 1153.0,448.9 1153.5,448.7 1154.0,448.5 1154.5,448.3 1155.0,448.2 1155.5,448.0 1156.0,447.8 1156.5,447.7 1157.0,447.5 1157.5,447.4 1158.0,447.2 1158.5,447.1 1159.0,446.9 1159.5,446.8 1160.0,446.6 1160.5,446.5 1161.0,446.4 1161.5,446.2 1162.0,446.1 1162.5,446.0 1163.0,445.8 1163.5,445.7 1164.0,445.6 1164.5,445.4 1165.0,445.3 1165.5,445.2 1166.0,445.1 1166.5,445.0 1167.0,444.8 1167.5,444.7 1168.0,444.6 1168.5,444.5 1169.0,444.4 1169.5,444.3 1170.0,444.2 1170.5,444.1 1171.0,444.0 1171.5,443.9 1172.0,443.8 1172.5,443.6 1173.0,443.6 1173.5,443.5 1174.0,443.4 1174.5,443.3 1175.0,443.2 1175.5,443.1 1176.0,443.0 1176.5,442.9 1177.0,442.8 1177.5,442.7 1178.0,442.6 1178.5,442.5 1179.0,442.5 1179.5,442.4 1180.0,442.3 1180.5,442.2 1181.0,442.1 1181.5,442.1 1182.0,442.0 1182.5,441.9 1183.0,441.8 1183.5,441.8 1184.0,441.7 1184.5,441.6 1185.0,441.6 1185.5,441.5 1186.0,441.4 1186.5,441.4 1187.0,441.3 1187.5,441.2 1188.0,441.2 1188.5,441.1 1189.0,441.1 1189.5,441.0 1190.0,440.9 1190.5,440.9 1191.0,440.8 1191.5,440.7 1192.0,440.7 1192.5,440.6 1193.0,440.6 1193.5,440.5 1194.0,440.5 1194.5,440.4 1195.0,440.4 1195.5,440.3 1196.0,440.2 1196.5,440.2 1197.0,440.1 1197.5,440.1 1198.0,440.0 1198.5,440.0 1199.0,439.9 1199.5,439.9 1200.0,439.8 1200.5,439.8 1201.0,439.8 1201.5,439.7 1202.0,439.7 1202.5,439.6 1203.0,439.6 1203.5,439.5 1204.0,439.5 1204.5,439.4 1205.0,439.4 1205.5,439.4 1206.0,439.3 1206.5,439.3 1207.0,439.3 1207.5,439.2 1208.0,439.2 1208.5,439.1 1209.0,439.1 1209.5,439.1 1210.0,439.0 1210.5,439.0 1211.0,439.0 1211.5,438.9 1212.0,438.9 1212.5,438.9 1213.0,438.9 1213.5,438.8 1214.0,438.8 1214.5,438.8 1215.0,438.7 1215.5,438.7 1216.0,438.7 1216.5,438.7 1217.0,438.6 1217.5,438.6 1218.0,438.6 1218.5,438.5 1219.0,438.5 1219.5,438.5 1220.0,438.5 1220.5,438.4 1221.0,438.4 1221.5,438.4 1222.0,438.4 1222.5,438.3 1223.0,438.3 1223.5,438.3 1224.0,438.3 1224.5,438.3 1225.0,438.2 1225.5,438.2 1226.0,438.2 1226.5,438.2 1227.0,438.1 1227.5,438.1 1228.0,438.1 1228.5,438.1 1229.0,438.1 1229.5,438.0 1230.0,438.0 1230.5,438.0 1231.0,438.0 1231.5,438.0 1232.0,437.9 1232.5,437.9 1233.0,437.9 1233.5,437.9 1234.0,437.9 1234.5,437.8 1235.0,437.8 1235.5,437.8 1236.0,437.8 1236.5,437.8 1237.0,437.7 1237.5,437.7 1238.0,437.7 1238.5,437.7 1239.0,437.7 1239.5,437.7 1240.0,437.6 1240.5,437.6 1241.0,437.6 1241.5,437.6 1242.0,437.6 1242.5,437.5 1243.0,437.5 1243.5,437.5 1244.0,437.5 1244.5,437.5 1245.0,437.5 1245.5,437.4 1246.0,437.4 1246.5,437.4 1247.0,437.4 1247.5,437.4 1248.0,437.3 1248.5,437.3 1249.0,437.3 1249.5,437.3 1250.0,437.3 1250.5,437.3 1251.0,437.2 1251.5,437.2 1252.0,437.2 1252.5,437.2 1253.0,437.2 1253.5,437.2 1254.0,437.1 1254.5,437.1 1255.0,437.1 1255.5,437.1 1256.0,437.1 1256.5,437.1 1257.0,437.0 1257.5,437.0 1258.0,437.0 1258.5,437.0 1259.0,437.0 1259.5,437.0 1260.0,436.9 1260.5,436.9 1261.0,436.9 1261.5,436.9 1262.0,436.9 1262.5,436.9 1263.0,436.9 1263.5,436.8 1264.0,436.8 1264.5,436.8 1265.0,436.8 1265.5,436.8 1266.0,436.8 1266.5,436.8 1267.0,436.7 1267.5,436.7 1268.0,436.7 1268.5,436.7 1269.0,436.7 1269.5,436.7 1270.0,436.7 1270.5,436.7 1271.0,436.6 1271.5,436.6 1272.0,436.6 1272.5,436.6 1273.0,436.6 1273.5,436.6 1274.0,436.6 1274.5,436.6 1275.0,436.5 1275.5,436.5 1276.0,436.5 1276.5,436.5 1277.0,436.5"/>
<polyline stroke="#0000ff" stroke-dasharray="14.5 7.3" points="27.0,437.0 27.5,437.0 28.0,437.0 28.5,437.0 29.0,437.0 29.5,437.0 30.0,437.0 30.5,437.0 31.0,437.0 31.5,437.0 32.0,437.1 32.5,437.1 33.0,437.1 33.5,437.1 34.0,437.1 34.5,437.1 35.0,437.1 35.5,437.1 36.0,437.1 36.5,437.1 37.0,437.1 37.5,437.1 38.0,437.1 38.5,437.1 39.0,437.1 39.5,437.1 40.0,437.1 40.5,437.1 41.0,437.1 41.5,437.1 42.0,437.1 42.5,437.1 43.0,437.1 43.5,437.2 44.0,437.2 44.5,437.2 45.0,437.2 45.5,437.2 46.0,437.2 46.5,437.2 47.0,437.2 47.5,437.2 48.0,437.2 48.5,437.2 49.0,437.2 49.5,437.2 50.0,437.2 50.5,437.2 51.0,437.2 51.5,437.2 52.0,437.2 52.5,437.2 53.0,437.2 53.5,437.2 54.0,437.2 54.5,437.2 55.0,437.2 55.5,437.2 56.0,437.2 56.5,437.2 57.0,437.2 57.5,437.2 58.0,437.2 58.5,437.2 59.0,437.2 59.5,437.3 60.0,437.3 60.5,437.3 61.0,437.3 61.5,437.3 62.0,437.3 62.5,437.3 63.0,437.3 63.5,437.3 64.0,437.3 64.5,437.3 65.0,437.3 65.5,437.3 66.0,437.3 66.5,437.3 67.0,437.3 67.5,437.3 68.0,437.3 68.5,437.3 69.0,437.3 69.5,437.3 70.0,437.3 70.5,437.3 71.0,437.3 71.5,437.3 72.0,437.3 72.5,437.3 73.0,437.3 73.5,437.3 74.0,437.3 74.5,437.3 75.0,437.3 75.5,437.3 76.0,437.3 76.5,437.3 77.0,437.3 77.5,437.3 78.0,437.3 78.5,437.3 79.0,437.3 79.5,437.3 80.0,437.3 80.5,437.3 81.0,437.3 81.5,437.3 82.0,437.3 82.5,437.3 83.0,437.3 83.5,437.3 84.0,437.3 84.5,437.3 85.0,437.3 85.5,437.3 86.0,437.3 86.5,437.3 87.0,437.3 87.5,437.3 88.0,437.3 88.5,437.3 89.0,437.3 89.5,437.3 90.0,437.3 90.5,437.3 91.0,437.3 91.5,437.3 92.0,437.3 92.5,437.3 93.0,437.3 93.5,437.3 94.0,437.3 94.5,437.3 95.0,437.3 95.5,437.3 96.0,437.3 96.5,437.3 97.0,437.3 97.5,437.3 98.0,437.3 98.5,437.3 99.0,437.3 99.5,437.3 100.0,437.3 100.5,437.3 101.0,437.3 101.5,437.3 102.0,437.3 102.5,437.3 103.0,437.3 103.5,437.3 104.0,437.2 104.5,437.2 105.0,437.2 105.5,437.2 106.0,437.2 106.5,437.2 107.0,437.2 107.5,437.2 108.0,437.2 108.5,437.2 109.0,437.2 109.5,437.2 110.0,437.2 110.5,437.2 111.0,437.2 111.5,437.2 112.0,437.2 112.5,437.2 113.0,437.2 113.5,437.2 114.0,437.2 114.5,437.2 115.0,437.2 115.5,437.2 116.0,437.2 116.5,437.2 117.0,437.2 117.5,437.2 118.0,437.2 118.5,437.2 119.0,437.2 119.5,437.2 120.0,437.2 120.5,437.2 121.0,437.2 121.5,437.2 122.0,437.1 122.5,437.1 123.0,437.1 123.5,437.1 124.0,437.1 124.5,437.1 125.0,437.1 125.5,437.1 126.0,437.1 126.5,437.1 127.0,437.1 127.5,437.1 128.0,437.1 128.5,437.1 129.0,437.1 129.5,437.1 130.0,437.1 130.5,437.1 131.0,437.1 131.5,437.1 132.0,437.1 132.5,437.1 133.0,437.1 133.5,437.1 134.0,437.1 134.5,437.0 135.0,437.0 135.5,437.0 136.0,437.0 136.5,437.0 137.0,437.0 137.5,437.0 138.0,437.0 138.5,437.0 139.0,437.0 139.5,437.0 140.0,437.0 140.5,437.0 141.0,437.0 141.5,437.0 142.0,437.0 142.5,437.0 143.0,437.0 143.5,437.0 144.0,437.0 144.5,436.9 145.0,436.9 145.5,436.9 146.0,436.9 146.5,436.9 147.0,436.9 147.5,436.9 148.0,436.9 148.5,436.9 149.0,436.9 149.5,436.9 150.0,436.8 150.5,436.8 151.0,436.8 151.5,436.8 152.0,436.8 152.5,436.8 153.0,436.8 153.5,436.7 154.0,436.7 154.5,436.7 155.0,436.7 155.5,436.7 156.0,436.7 156.5,436.6 157.0,436.6 157.5,436.6 158.0,436.6 158.5,436.6 159.0,436.5 159.5,436.5 160.0,436.5 160.5,436.5 161.0,436.4 161.5,436.4 162.0,436.4 162.5,436.3 163.0,436.3 163.5,436.2 164.0,436.1 164.5,436.1 165.0,436.0 165.5,435.9 166.0,435.8 166.5,435.7 167.0,435.7 167.5,435.6 168.0,435.5 168.5,435.4 169.0,435.3 169.5,435.2 170.0,435.0 170.5,434.9 171.0,434.8 171.5,434.7 172.0,434.6 172.5,434.4 173.0,434.3 173.5,434.2 174.0,434.1 174.5,433.9 175.0,433.8 175.5,433.7 176.0,433.5 176.5,433.4 177.0,433.2 177.5,432.8 178.0,432.4 178.5,432.1 179.0,431.7 179.5,431.3 180.0,430.8 180.5,430.4 181.0,430.0 181.5,429.6 182.0,429.1 182.5,428.7 183.0,428.2 183.5,427.8 184.0,427.3 184.5,426.8 185.0,426.3 185.5,425.8 186.0,425.3 186.5,424.8 187.0,424.3 187.5,423.8 188.0,423.3 188.5,422.7 189.0,422.2 189.5,421.6 190.0,421.1 190.5,420.5 191.0,420.0 191.5,419.4 192.0,418.8 192.5,418.5 193.0,418.1 193.5,417.7 194.0,417.3 194.5,416.9 195.0,416.4 195.5,416.0 196.0,415.5 196.5,414.9 197.0,414.4 197.5,413.8 198.0,413.2 198.5,412.6 199.0,412.0 199.5,411.3 200.0,410.7 200.5,410.0 201.0,409.3 201.5,408.6 202.0,407.9 202.5,407.1 203.0,406.4 203.5,405.6 204.0,404.9 204.5,404.1 205.0,403.3 205.5,402.5 206.0,401.6 206.5,400.8 207.0,399.9 207.5,398.9 208.0,398.0 208.5,397.0 209.0,395.9 209.5,394.9 210.0,393.8 210.5,392.6 211.0,391.4 211.5,390.2 212.0,388.9 212.5,387.5 213.0,386.0 213.5,384.4 214.0,382.5 214.5,380.6 215.0,378.5 215.5,376.4 216.0,374.1 216.5,371.9 217.0,369.6 217.5,367.4 218.0,365.1 218.5,362.6 219.0,360.1 219.5,357.5 220.0,354.9 220.5,352.2 221.0,349.3 221.5,346.3 222.0,343.2 222.5,340.0 223.0,336.8 223.5,333.6 224.0,330.4 224.5,327.4 225.0,324.6 225.5,321.9 226.0,319.3 226.5,316.5 227.0,313.5 227.5,310.0 228.0,305.6 228.5,300.3 229.0,294.2 229.5,287.9 230.0,281.8 230.5,276.2 231.0,271.6 231.5,268.2 232.0,265.4 232.5,262.6 233.0,259.9 233.5,257.4 234.0,255.0 234.5,252.8 235.0,250.9 235.5,249.2 236.0,247.9 236.5,246.9 237.0,246.2 237.5,246.0 238.0,246.7 238.5,248.5 239.0,251.4 239.5,255.2 240.0,259.6 240.5,264.5 241.0,269.7 241.5,275.0 242.0,281.4 242.5,289.7 243.0,299.2 243.5,309.5 244.0,320.0 244.5,331.4 245.0,344.1 245.5,357.4 246.0,370.4 246.5,382.3 247.0,393.2 247.5,403.5 248.0,413.5 248.5,423.4 249.0,433.5 249.5,443.9 250.0,455.0 250.5,467.5 251.0,481.6 251.5,496.5 252.0,511.5 252.5,526.0 253.0,539.4 253.5,550.9 254.0,560.0 254.5,568.5 255.0,577.3 255.5,586.3 256.0,595.1 256.5,603.6 257.0,611.3 257.5,617.8 258.0,622.8 258.5,625.7 259.0,626.5 259.5,625.1 260.0,622.1 260.5,617.8 261.0,612.7 261.5,607.2 262.0,601.9 262.5,596.7 263.0,591.7 263.5,586.9 264.0,582.3 264.5,577.9 265.0,573.9 265.5,570.0 266.0,566.3 266.5,562.7 267.0,559.4 267.5,556.2 268.0,553.3 268.5,550.4 269.0,547.5 269.5,544.7 270.0,541.9 270.5,539.1 271.0,536.4 271.5,533.6 272.0,530.9 272.5,528.2 273.0,525.6 273.5,522.9 274.0,520.2 274.5,517.6 275.0,515.0 275.5,512.4 276.0,509.7 276.5,507.0 277.0,504.3 277.5,501.6 278.0,499.0 278.5,496.4 279.0,494.0 279.5,491.6 280.0,489.4 280.5,487.4 281.0,485.5 281.5,483.7 282.0,482.0 282.5,480.3 283.0,478.8 283.5,477.2 284.0,475.8 284.5,474.3 285.0,472.9 285.5,471.5 286.0,470.1 286.5,468.6 287.0,467.2 287.5,465.8 288.0,464.3 288.5,462.8 289.0,461.3 289.5,459.9 290.0,458.4 290.5,457.0 291.0,455.6 291.5,454.3 292.0,453.0 292.5,451.7 293.0,450.6 293.5,449.4 294.0,448.4 294.5,447.4 295.0,446.4 295.5,445.5 296.0,444.7 296.5,443.8 297.0,443.0 297.5,442.2 298.0,441.4 298.5,440.6 299.0,439.8 299.5,439.1 300.0,438.3 300.5,437.5 301.0,436.8 301.5,436.0 302.0,435.2 302.5,434.5 303.0,433.8 303.5,433.1 304.0,432.4 304.5,431.7 305.0,431.0 305.5,430.3 306.0,429.7 306.5,429.0 307.0,428.3 307.5,427.6 308.0,426.9 308.5,426.1 309.0,425.3 309.5,424.5 310.0,423.7 310.5,422.8 311.0,421.9 311.5,420.9 312.0,419.9 312.5,418.7 313.0,417.5 313.5,416.3 314.0,415.0 314.5,413.6 315.0,412.2 315.5,410.8 316.0,409.4 316.5,407.9 317.0,406.5 317.5,405.0 318.0,403.6 318.5,402.1 319.0,400.7 319.5,399.4 320.0,398.0 320.5,396.5 321.0,395.0 321.5,393.5 322.0,391.9 322.5,390.2 323.0,388.4 323.5,386.5 324.0,384.5 324.5,382.3 325.0,380.0 325.5,377.3 326.0,374.1 326.5,370.5 327.0,366.6 327.5,362.3 328.0,357.8 328.5,353.2 329.0,348.5 329.5,343.7 330.0,339.0 330.5,334.4 331.0,330.0 331.5,325.7 332.0,321.4 332.5,317.1 333.0,312.7 333.5,308.4 334.0,304.0 334.5,299.5 335.0,295.0 335.5,290.4 336.0,285.7 336.5,281.0 337.0,276.1 337.5,271.2 338.0,266.1 338.5,260.9 339.0,255.5 339.5,250.0 340.0,244.1 340.5,237.7 341.0,230.9 341.5,224.0 342.0,217.2 342.5,210.5 343.0,204.3 343.5,198.6 344.0,193.7 344.5,189.3 345.0,184.8 345.5,180.3 346.0,176.0 346.5,171.9 347.0,168.2 347.5,165.1 348.0,162.6 348.5,161.0 349.0,160.2 349.5,160.8 350.0,163.1 350.5,167.1 351.0,172.6 351.5,179.5 352.0,187.6 352.5,196.9 353.0,207.4 353.5,228.5 354.0,259.9 354.5,295.7 355.0,330.0 355.5,364.1 356.0,399.5 356.5,430.1 357.0,454.3 357.5,475.6 358.0,495.6 358.5,515.2 359.0,534.3 359.5,552.9 360.0,571.5 360.5,590.2 361.0,610.5 361.5,631.7 362.0,652.4 362.5,670.6 363.0,684.8 363.5,696.8 364.0,707.3 364.5,715.1 365.0,719.2 365.5,719.0 366.0,715.3 366.5,708.9 367.0,700.6 367.5,691.4 368.0,682.1 368.5,672.9 369.0,663.6 369.5,654.4 370.0,645.6 370.5,637.2 371.0,629.4 371.5,622.2 372.0,615.6 372.5,609.6 373.0,604.3 373.5,599.4 374.0,594.7 374.5,590.0 375.0,585.5 375.5,581.1 376.0,576.7 376.5,572.5 377.0,568.3 377.5,564.3 378.0,560.3 378.5,556.5 379.0,552.7 379.5,549.0 380.0,545.5 380.5,542.0 381.0,538.6 381.5,535.2 382.0,531.8 382.5,528.5 383.0,525.2 383.5,521.9 384.0,518.7 384.5,515.6 385.0,512.5 385.5,509.4 386.0,506.5 386.5,503.6 387.0,500.8 387.5,498.0 388.0,495.4 388.5,492.9 389.0,490.5 389.5,488.2 390.0,486.0 390.5,483.9 391.0,482.0 391.5,480.2 392.0,478.4 392.5,476.6 393.0,475.0 393.5,473.3 394.0,471.7 394.5,470.2 395.0,468.7 395.5,467.3 396.0,465.9 396.5,464.6 397.0,463.3 397.5,462.0 398.0,460.8 398.5,459.6 399.0,458.5 399.5,457.4 400.0,456.4 400.5,455.4 401.0,454.4 401.5,453.5 402.0,452.6 402.5,451.8 403.0,450.9 403.5,450.1 404.0,449.4 404.5,448.6 405.0,447.9 405.5,447.2 406.0,446.5 406.5,445.8 407.0,445.2 407.5,444.5 408.0,443.9 408.5,443.2 409.0,442.6 409.5,442.0 410.0,441.4 410.5,440.8 411.0,440.2 411.5,439.5 412.0,438.9 412.5,438.3 413.0,437.7 413.5,437.0 414.0,436.4 414.5,435.7 415.0,435.0 415.5,434.3 416.0,433.6 416.5,432.8 417.0,432.0 417.5,431.2 418.0,430.4 418.5,429.6 419.0,428.7 419.5,427.9 420.0,427.1 420.5,426.3 421.0,425.4 421.5,424.6 422.0,423.7 422.5,422.9 423.0,422.0 423.5,421.1 424.0,420.2 424.5,419.3 425.0,418.3 425.5,417.3 426.0,416.3 426.5,415.3 427.0,414.2 427.5,413.1 428.0,411.9 428.5,410.7 429.0,409.4 429.5,408.1 430.0,406.7 430.5,405.3 431.0,403.8 431.5,402.2 432.0,400.5 432.5,398.8 433.0,396.9 433.5,394.9 434.0,392.9 434.5,390.7 435.0,388.4 435.5,386.0 436.0,383.5 436.5,380.9 437.0,378.2 437.5,375.4 438.0,372.5 438.5,369.4 439.0,366.2 439.5,362.9 440.0,359.5 440.5,355.9 441.0,352.1 441.5,347.5 442.0,342.4 442.5,336.8 443.0,330.7 443.5,324.4 444.0,317.7 444.5,310.9 445.0,304.1 445.5,297.2 446.0,290.4 446.5,283.8 447.0,277.5 447.5,271.4 448.0,265.3 448.5,259.2 449.0,252.9 449.5,246.3 450.0,239.4 450.5,232.0 451.0,223.5 451.5,213.5 452.0,202.5 452.5,191.2 453.0,180.0 453.5,169.7 454.0,160.9 454.5,154.0 455.0,147.8 455.5,141.7 456.0,135.7 456.5,129.9 457.0,124.5 457.5,119.4 458.0,114.8 458.5,110.8 459.0,107.5 459.5,105.0 460.0,103.3 460.5,102.6 461.0,103.2 461.5,105.8 462.0,110.1 462.5,116.0 463.0,123.4 463.5,132.2 464.0,142.1 464.5,153.1 465.0,165.0 465.5,177.6 466.0,193.1 466.5,215.6 467.0,244.8 467.5,280.2 468.0,337.1 468.5,400.5 469.0,449.4 469.5,488.2 470.0,518.8 470.5,545.8 471.0,570.9 471.5,595.9 472.0,622.7 472.5,652.5 473.0,682.8 473.5,710.6 474.0,732.2 474.5,749.4 475.0,763.9 475.5,772.9 476.0,774.3 476.5,771.4 477.0,765.7 477.5,757.9 478.0,748.9 478.5,739.4 479.0,730.2 479.5,721.4 480.0,712.8 480.5,704.5 481.0,696.6 481.5,689.0 482.0,681.8 482.5,674.6 483.0,667.0 483.5,659.1 484.0,651.0 484.5,642.8 485.0,634.6 485.5,626.6 486.0,618.9 486.5,611.7 487.0,605.0 487.5,598.8 488.0,592.7 488.5,586.8 489.0,581.0 489.5,575.3 490.0,569.8 490.5,564.5 491.0,559.3 491.5,554.2 492.0,549.2 492.5,544.3 493.0,539.6 493.5,535.0 494.0,530.5 494.5,526.0 495.0,521.6 495.5,517.3 496.0,513.1 496.5,509.1 497.0,505.3 497.5,501.6 498.0,498.2 498.5,495.0 499.0,491.9 499.5,488.9 500.0,485.9 500.5,483.0 501.0,480.2 501.5,477.5 502.0,474.9 502.5,472.4 503.0,470.2 503.5,468.1 504.0,466.1 504.5,464.5 505.0,463.0 505.5,461.7 506.0,460.5 506.5,459.3 507.0,458.2 507.5,457.2 508.0,456.2 508.5,455.3 509.0,454.4 509.5,453.5 510.0,452.7 510.5,451.9 511.0,451.2 511.5,450.4 512.0,449.7 512.5,449.0 513.0,448.3 513.5,447.6 514.0,446.9 514.5,446.2 515.0,445.5 515.5,444.8 516.0,444.2 516.5,443.5 517.0,442.9 517.5,442.3 518.0,441.7 518.5,441.1 519.0,440.5 519.5,440.0 520.0,439.4 520.5,438.9 521.0,438.3 521.5,437.8 522.0,437.3 522.5,436.8 523.0,436.2 523.5,435.7 524.0,435.2 524.5,434.7 525.0,434.1 525.5,433.6 526.0,433.0 526.5,432.5 527.0,431.9 527.5,431.3 528.0,430.7 528.5,430.1 529.0,429.4 529.5,428.7 530.0,428.0 530.5,427.3 531.0,426.6 531.5,425.9 532.0,425.2 532.5,424.5 533.0,423.7 533.5,423.0 534.0,422.3 534.5,421.5 535.0,420.8 535.5,420.0 536.0,419.2 536.5,418.4 537.0,417.6 537.5,416.7 538.0,415.9 538.5,415.0 539.0,414.1 539.5,413.1 540.0,412.2 540.5,411.2 541.0,410.2 541.5,409.1 542.0,408.1 542.5,406.9 543.0,405.8 543.5,404.6 544.0,403.4 544.5,402.1 545.0,400.8 545.5,399.5 546.0,398.0 546.5,396.5 547.0,394.8 547.5,393.0 548.0,391.2 548.5,389.2 549.0,387.2 549.5,385.1 550.0,382.9 550.5,380.5 551.0,378.2 551.5,375.7 552.0,373.2 552.5,370.5 553.0,367.8 553.5,365.1 554.0,362.3 554.5,359.4 555.0,356.4 555.5,353.4 556.0,350.2 556.5,346.8 557.0,343.3 557.5,339.5 558.0,335.7 558.5,331.6 559.0,327.3 559.5,322.9 560.0,318.3 560.5,313.5 561.0,308.5 561.5,303.3 562.0,297.9 562.5,292.3 563.0,286.4 563.5,279.6 564.0,272.1 564.5,264.1 565.0,255.7 565.5,247.2 566.0,238.7 566.5,230.4 567.0,222.0 567.5,213.2 568.0,204.2 568.5,195.3 569.0,186.5 569.5,178.2 570.0,170.6 570.5,163.4 571.0,155.8 571.5,147.9 572.0,140.2 572.5,132.9 573.0,126.4 573.5,121.1 574.0,117.2 574.5,115.3 575.0,115.3 575.5,116.7 576.0,119.1 576.5,122.7 577.0,127.3 577.5,133.0 578.0,139.5 578.5,146.9 579.0,155.2 579.5,170.7 580.0,194.9 580.5,222.9 581.0,258.4 581.5,295.0 582.0,329.9 582.5,364.9 583.0,400.1 583.5,436.2 584.0,473.1 584.5,509.3 585.0,543.5 585.5,575.6 586.0,608.9 586.5,641.6 587.0,670.8 587.5,693.8 588.0,708.7 588.5,721.4 589.0,733.3 589.5,743.8 590.0,752.5 590.5,758.9 591.0,762.4 591.5,762.7 592.0,759.6 592.5,753.7 593.0,745.6 593.5,736.1 594.0,726.1 594.5,716.4 595.0,707.5 595.5,699.4 596.0,691.3 596.5,683.4 597.0,675.6 597.5,668.1 598.0,660.7 598.5,653.6 599.0,646.7 599.5,640.2 600.0,634.0 600.5,628.1 601.0,622.6 601.5,617.1 602.0,611.8 602.5,606.7 603.0,601.6 603.5,596.6 604.0,591.7 604.5,586.9 605.0,582.1 605.5,577.3 606.0,572.5 606.5,567.7 607.0,563.0 607.5,558.1 608.0,553.2 608.5,548.1 609.0,542.7 609.5,537.1 610.0,531.6 610.5,526.0 611.0,520.6 611.5,515.4 612.0,510.5 612.5,505.9 613.0,501.9 613.5,498.3 614.0,495.5 614.5,493.2 615.0,491.1 615.5,489.2 616.0,487.4 616.5,485.8 617.0,484.3 617.5,482.9 618.0,481.6 618.5,480.3 619.0,479.0 619.5,477.7 620.0,476.3 620.5,474.9 621.0,473.5 621.5,472.1 622.0,470.7 622.5,469.2 623.0,467.8 623.5,466.4 624.0,465.0 624.5,463.6 625.0,462.2 625.5,460.9 626.0,459.6 626.5,458.3 627.0,457.1 627.5,456.0 628.0,454.8 628.5,453.8 629.0,452.8 629.5,451.9 630.0,451.0 630.5,450.3 631.0,449.5 631.5,448.8 632.0,448.2 632.5,447.5 633.0,446.9 633.5,446.3 634.0,445.7 634.5,445.2 635.0,444.7 635.5,444.2 636.0,443.7 636.5,443.2 637.0,442.7 637.5,442.3 638.0,441.8 638.5,441.4 639.0,441.0 639.5,440.6 640.0,440.2 640.5,439.7 641.0,439.3 641.5,438.9 642.0,438.5 642.5,438.1 643.0,437.7 643.5,437.3 644.0,436.9 644.5,436.5 645.0,436.0 645.5,435.6 646.0,435.1 646.5,434.7 647.0,434.2 647.5,433.7 648.0,433.2 648.5,432.6 649.0,432.1 649.5,431.5 650.0,430.9 650.5,430.3 651.0,429.6 651.5,429.0 652.0,428.4 652.5,427.7 653.0,427.1 653.5,426.5 654.0,425.8 654.5,425.2 655.0,424.5 655.5,423.8 656.0,423.1 656.5,422.4 657.0,421.7 657.5,420.9 658.0,420.2 658.5,419.4 659.0,418.6 659.5,417.7 660.0,416.9 660.5,416.0 661.0,415.0 661.5,414.1 662.0,413.1 662.5,412.1 663.0,411.0 663.5,409.9 664.0,408.7 664.5,407.6 665.0,406.3 665.5,405.0 666.0,403.6 666.5,402.1 667.0,400.4 667.5,398.6 668.0,396.7 668.5,394.6 669.0,392.5 669.5,390.2 670.0,387.8 670.5,385.3 671.0,382.6 671.5,379.9 672.0,377.1 672.5,374.2 673.0,371.2 673.5,368.2 674.0,365.0 674.5,361.8 675.0,358.5 675.5,355.2 676.0,351.6 676.5,347.6 677.0,343.3 677.5,338.6 678.0,333.7 678.5,328.6 679.0,323.3 679.5,317.9 680.0,312.4 680.5,306.8 681.0,301.3 681.5,295.8 682.0,290.4 682.5,285.1 683.0,280.0 683.5,275.0 684.0,269.9 684.5,264.8 685.0,259.8 685.5,254.7 686.0,249.7 686.5,244.7 687.0,239.8 687.5,235.1 688.0,230.4 688.5,225.5 689.0,220.1 689.5,214.5 690.0,208.8 690.5,203.4 691.0,198.4 691.5,194.1 692.0,190.8 692.5,188.6 693.0,187.8 693.5,188.4 694.0,190.1 694.5,192.7 695.0,196.3 695.5,200.6 696.0,205.6 696.5,211.2 697.0,217.3 697.5,223.7 698.0,230.4 698.5,238.2 699.0,248.1 699.5,260.7 700.0,276.2 700.5,295.0 701.0,328.1 701.5,375.2 702.0,420.1 702.5,460.1 703.0,501.0 703.5,538.5 704.0,568.4 704.5,587.6 705.0,602.9 705.5,616.7 706.0,629.0 706.5,640.0 707.0,649.7 707.5,658.2 708.0,665.4 708.5,671.8 709.0,677.7 709.5,682.4 710.0,685.4 710.5,686.1 711.0,684.2 711.5,679.9 712.0,674.0 712.5,666.9 713.0,659.4 713.5,652.0 714.0,645.6 714.5,639.8 715.0,634.2 715.5,629.0 716.0,623.9 716.5,619.1 717.0,614.4 717.5,609.9 718.0,605.4 718.5,601.0 719.0,596.5 719.5,591.9 720.0,587.3 720.5,582.6 721.0,578.0 721.5,573.3 722.0,568.7 722.5,564.1 723.0,559.6 723.5,555.2 724.0,550.9 724.5,546.7 725.0,542.7 725.5,538.9 726.0,535.3 726.5,532.0 727.0,528.9 727.5,525.9 728.0,523.0 728.5,520.2 729.0,517.5 729.5,514.8 730.0,512.3 730.5,509.8 731.0,507.5 731.5,505.2 732.0,503.0 732.5,500.9 733.0,498.8 733.5,496.9 734.0,495.0 734.5,493.2 735.0,491.4 735.5,489.6 736.0,487.8 736.5,486.1 737.0,484.4 737.5,482.7 738.0,481.1 738.5,479.4 739.0,477.8 739.5,476.3 740.0,474.7 740.5,473.2 741.0,471.8 741.5,470.3 742.0,469.0 742.5,467.6 743.0,466.3 743.5,465.0 744.0,463.8 744.5,462.6 745.0,461.5 745.5,460.4 746.0,459.3 746.5,458.3 747.0,457.3 747.5,456.4 748.0,455.6 748.5,454.8 749.0,454.0 749.5,453.2 750.0,452.5 750.5,451.8 751.0,451.2 751.5,450.5 752.0,449.9 752.5,449.4 753.0,448.8 753.5,448.2 754.0,447.7 754.5,447.2 755.0,446.7 755.5,446.2 756.0,445.7 756.5,445.2 757.0,444.7 757.5,444.3 758.0,443.8 758.5,443.3 759.0,442.9 759.5,442.4 760.0,441.9 760.5,441.4 761.0,440.9 761.5,440.4 762.0,439.9 762.5,439.3 763.0,438.8 763.5,438.2 764.0,437.6 764.5,437.0 765.0,436.3 765.5,435.7 766.0,435.0 766.5,434.3 767.0,433.5 767.5,432.7 768.0,432.0 768.5,431.2 769.0,430.3 769.5,429.5 770.0,428.7 770.5,427.8 771.0,426.9 771.5,426.0 772.0,425.1 772.5,424.2 773.0,423.3 773.5,422.4 774.0,421.5 774.5,420.5 775.0,419.6 775.5,418.7 776.0,417.8 776.5,416.8 777.0,415.9 777.5,415.0 778.0,414.1 778.5,413.2 779.0,412.3 779.5,411.5 780.0,410.6 780.5,409.8 781.0,408.9 781.5,408.1 782.0,407.2 782.5,406.3 783.0,405.5 783.5,404.6 784.0,403.7 784.5,402.8 785.0,401.8 785.5,400.9 786.0,399.9 786.5,398.9 787.0,397.8 787.5,396.8 788.0,395.7 788.5,394.5 789.0,393.3 789.5,392.1 790.0,390.8 790.5,389.4 791.0,388.0 791.5,386.5 792.0,384.9 792.5,383.2 793.0,381.5 793.5,379.7 794.0,377.8 794.5,375.9 795.0,373.9 795.5,371.8 796.0,369.7 796.5,367.5 797.0,365.3 797.5,363.0 798.0,360.7 798.5,358.3 799.0,355.9 799.5,353.4 800.0,350.9 800.5,348.3 801.0,345.4 801.5,342.2 802.0,338.9 802.5,335.3 803.0,331.7 803.5,328.0 804.0,324.3 804.5,320.6 805.0,316.9 805.5,313.3 806.0,309.9 806.5,306.6 807.0,303.5 807.5,300.7 808.0,298.1 808.5,295.3 809.0,292.5 809.5,289.6 810.0,286.8 810.5,284.0 811.0,281.2 811.5,278.6 812.0,276.1 812.5,273.9 813.0,271.8 813.5,270.1 814.0,268.6 814.5,267.5 815.0,266.7 815.5,266.4 816.0,266.6 816.5,267.4 817.0,268.9 817.5,270.9 818.0,273.3 818.5,276.3 819.0,279.6 819.5,283.3 820.0,287.4 820.5,291.7 821.0,296.2 821.5,301.0 822.0,307.7 822.5,316.7 823.0,327.4 823.5,339.1 824.0,351.2 824.5,363.0 825.0,375.1 825.5,388.2 826.0,401.6 826.5,415.0 827.0,428.3 827.5,441.8 828.0,455.0 828.5,468.5 829.0,482.7 829.5,496.7 830.0,509.8 830.5,521.2 831.0,530.0 831.5,537.1 832.0,543.6 832.5,549.6 833.0,555.0 833.5,559.8 834.0,564.0 834.5,567.5 835.0,570.3 835.5,572.7 836.0,575.2 836.5,577.7 837.0,580.2 837.5,582.7 838.0,585.2 838.5,587.6 839.0,589.9 839.5,592.0 840.0,593.7 840.5,595.0 841.0,595.8 841.5,596.0 842.0,594.6 842.5,591.5 843.0,587.0 843.5,581.4 844.0,574.9 844.5,568.1 845.0,561.0 845.5,554.0 846.0,547.4 846.5,541.4 847.0,536.2 847.5,532.0 848.0,528.9 848.5,526.0 849.0,523.2 849.5,520.6 850.0,518.0 850.5,515.6 851.0,513.2 851.5,510.9 852.0,508.7 852.5,506.6 853.0,504.5 853.5,502.5 854.0,500.6 854.5,498.7 855.0,496.9 855.5,495.1 856.0,493.4 856.5,491.7 857.0,490.0 857.5,488.4 858.0,486.8 858.5,485.3 859.0,483.8 859.5,482.3 860.0,480.8 860.5,479.3 861.0,477.9 861.5,476.4 862.0,475.0 862.5,473.7 863.0,472.3 863.5,471.0 864.0,469.7 864.5,468.4 865.0,467.2 865.5,466.0 866.0,464.8 866.5,463.6 867.0,462.5 867.5,461.5 868.0,460.5 868.5,459.5 869.0,458.5 869.5,457.6 870.0,456.8 870.5,456.0 871.0,455.2 871.5,454.5 872.0,453.8 872.5,453.1 873.0,452.5 873.5,451.8 874.0,451.2 874.5,450.6 875.0,450.1 875.5,449.5 876.0,449.0 876.5,448.5 877.0,447.9 877.5,447.4 878.0,446.9 878.5,446.5 879.0,446.0 879.5,445.5 880.0,445.0 880.5,444.6 881.0,444.1 881.5,443.6 882.0,443.1 882.5,442.6 883.0,442.1 883.5,441.6 884.0,441.1 884.5,440.6 885.0,440.1 885.5,439.5 886.0,439.0 886.5,438.4 887.0,437.8 887.5,437.1 888.0,436.5 888.5,435.9 889.0,435.3 889.5,434.6 890.0,434.0 890.5,433.3 891.0,432.7 891.5,432.0 892.0,431.3 892.5,430.7 893.0,430.0 893.5,429.3 894.0,428.6 894.5,427.9 895.0,427.2 895.5,426.5 896.0,425.8 896.5,425.0 897.0,424.3 897.5,423.5 898.0,422.8 898.5,422.0 899.0,421.2 899.5,420.5 900.0,419.7 900.5,418.9 901.0,418.1 901.5,417.2 902.0,416.4 902.5,415.6 903.0,414.7 903.5,413.8 904.0,412.9 904.5,412.0 905.0,411.1 905.5,410.2 906.0,409.2 906.5,408.3 907.0,407.3 907.5,406.3 908.0,405.3 908.5,404.3 909.0,403.3 909.5,402.3 910.0,401.2 910.5,400.2 911.0,399.1 911.5,398.0 912.0,396.9 912.5,395.8 913.0,394.7 913.5,393.5 914.0,392.4 914.5,391.2 915.0,390.0 915.5,388.8 916.0,387.5 916.5,386.2 917.0,384.9 917.5,383.6 918.0,382.2 918.5,380.9 919.0,379.5 919.5,378.0 920.0,376.6 920.5,375.2 921.0,373.8 921.5,372.3 922.0,370.9 922.5,369.4 923.0,368.0 923.5,366.5 924.0,365.0 924.5,363.5 925.0,361.9 925.5,360.3 926.0,358.7 926.5,357.1 927.0,355.5 927.5,353.9 928.0,352.3 928.5,350.8 929.0,349.2 929.5,347.8 930.0,346.4 930.5,345.0 931.0,343.7 931.5,342.5 932.0,341.3 932.5,340.0 933.0,338.6 933.5,337.3 934.0,336.0 934.5,334.7 935.0,333.4 935.5,332.3 936.0,331.3 936.5,330.3 937.0,329.6 937.5,328.9 938.0,328.5 938.5,328.3 939.0,328.3 939.5,328.4 940.0,328.6 940.5,328.8 941.0,329.1 941.5,329.5 942.0,330.0 942.5,330.5 943.0,331.1 943.5,331.8 944.0,332.5 944.5,333.9 945.0,336.5 945.5,340.0 946.0,344.2 946.5,349.0 947.0,354.0 947.5,359.1 948.0,364.0 948.5,369.1 949.0,374.8 949.5,380.9 950.0,387.3 950.5,393.9 951.0,400.5 951.5,406.8 952.0,412.9 952.5,418.6 953.0,424.0 953.5,429.3 954.0,434.4 954.5,439.4 955.0,444.5 955.5,449.5 956.0,454.7 956.5,460.0 957.0,465.7 957.5,472.0 958.0,478.5 958.5,484.9 959.0,491.0 959.5,496.6 960.0,501.4 960.5,505.1 961.0,508.1 961.5,511.1 962.0,514.2 962.5,517.2 963.0,520.2 963.5,523.3 964.0,526.4 964.5,529.5 965.0,532.7 965.5,535.8 966.0,538.9 966.5,541.7 967.0,544.0 967.5,545.9 968.0,547.1 968.5,547.5 969.0,547.2 969.5,546.3 970.0,544.8 970.5,543.0 971.0,540.9 971.5,538.8 972.0,536.6 972.5,534.5 973.0,532.5 973.5,530.7 974.0,529.0 974.5,527.4 975.0,525.9 975.5,524.4 976.0,523.0 976.5,521.6 977.0,520.1 977.5,518.7 978.0,517.3 978.5,516.0 979.0,514.6 979.5,513.3 980.0,512.0 980.5,510.7 981.0,509.3 981.5,507.8 982.0,506.2 982.5,504.6 983.0,502.9 983.5,501.2 984.0,499.5 984.5,497.8 985.0,496.0 985.5,494.3 986.0,492.6 986.5,490.9 987.0,489.2 987.5,487.7 988.0,486.2 988.5,484.7 989.0,483.3 989.5,481.9 990.0,480.6 990.5,479.2 991.0,477.9 991.5,476.5 992.0,475.2 992.5,474.0 993.0,472.7 993.5,471.5 994.0,470.3 994.5,469.1 995.0,467.9 995.5,466.8 996.0,465.7 996.5,464.6 997.0,463.6 997.5,462.6 998.0,461.5 998.5,460.5 999.0,459.5 999.5,458.5 1000.0,457.5 1000.5,456.6 1001.0,455.7 1001.5,454.8 1002.0,453.9 1002.5,453.1 1003.0,452.3 1003.5,451.5 1004.0,450.8 1004.5,450.1 1005.0,449.5 1005.5,449.0 1006.0,448.5 1006.5,448.0 1007.0,447.5 1007.5,447.1 1008.0,446.7 1008.5,446.3 1009.0,445.9 1009.5,445.6 1010.0,445.2 1010.5,444.9 1011.0,444.6 1011.5,444.2 1012.0,443.9 1012.5,443.5 1013.0,443.2 1013.5,442.8 1014.0,442.4 1014.5,442.0 1015.0,441.6 1015.5,441.1 1016.0,440.6 1016.5,440.1 1017.0,439.5 1017.5,438.9 1018.0,438.3 1018.5,437.7 1019.0,437.1 1019.5,436.4 1020.0,435.8 1020.5,435.1 1021.0,434.4 1021.5,433.7 1022.0,433.1 1022.5,432.4 1023.0,431.8 1023.5,431.1 1024.0,430.5 1024.5,429.9 1025.0,429.3 1025.5,428.7 1026.0,428.2 1026.5,427.6 1027.0,427.0 1027.5,426.4 1028.0,425.9 1028.5,425.3 1029.0,424.7 1029.5,424.2 1030.0,423.6 1030.5,423.0 1031.0,422.5 1031.5,421.9 1032.0,421.3 1032.5,420.8 1033.0,420.2 1033.5,419.6 1034.0,419.0 1034.5,418.4 1035.0,417.8 1035.5,417.2 1036.0,416.6 1036.5,416.0 1037.0,415.3 1037.5,414.7 1038.0,414.0 1038.5,413.4 1039.0,412.8 1039.5,412.1 1040.0,411.5 1040.5,410.8 1041.0,410.1 1041.5,409.5 1042.0,408.8 1042.5,408.1 1043.0,407.4 1043.5,406.7 1044.0,406.0 1044.5,405.2 1045.0,404.5 1045.5,403.7 1046.0,402.9 1046.5,402.1 1047.0,401.3 1047.5,400.5 1048.0,399.6 1048.5,398.7 1049.0,397.7 1049.5,396.7 1050.0,395.6 1050.5,394.5 1051.0,393.5 1051.5,392.4 1052.0,391.3 1052.5,390.2 1053.0,389.2 1053.5,388.1 1054.0,387.1 1054.5,386.2 1055.0,385.2 1055.5,384.4 1056.0,383.5 1056.5,382.7 1057.0,381.8 1057.5,380.8 1058.0,379.9 1058.5,379.0 1059.0,378.0 1059.5,377.1 1060.0,376.2 1060.5,375.3 1061.0,374.4 1061.5,373.5 1062.0,372.7 1062.5,371.9 1063.0,371.2 1063.5,370.5 1064.0,369.9 1064.5,369.3 1065.0,368.8 1065.5,368.4 1066.0,368.1 1066.5,367.8 1067.0,367.7 1067.5,367.6 1068.0,367.7 1068.5,368.0 1069.0,368.4 1069.5,369.0 1070.0,369.8 1070.5,370.7 1071.0,371.7 1071.5,372.8 1072.0,374.1 1072.5,375.4 1073.0,376.9 1073.5,378.4 1074.0,379.9 1074.5,381.5 1075.0,383.2 1075.5,384.9 1076.0,386.6 1076.5,388.3 1077.0,390.0 1077.5,391.7 1078.0,393.4 1078.5,395.2 1079.0,397.2 1079.5,399.3 1080.0,401.5 1080.5,403.9 1081.0,406.4 1081.5,409.0 1082.0,411.6 1082.5,414.3 1083.0,417.1 1083.5,419.9 1084.0,422.7 1084.5,425.6 1085.0,428.5 1085.5,431.4 1086.0,434.5 1086.5,437.8 1087.0,441.4 1087.5,445.1 1088.0,448.9 1088.5,452.7 1089.0,456.5 1089.5,460.3 1090.0,464.0 1090.5,467.5 1091.0,470.8 1091.5,473.9 1092.0,476.7 1092.5,479.2 1093.0,481.3 1093.5,483.4 1094.0,485.5 1094.5,487.6 1095.0,489.7 1095.5,491.8 1096.0,493.9 1096.5,495.9 1097.0,498.0 1097.5,500.0 1098.0,501.9 1098.5,503.8 1099.0,505.6 1099.5,507.3 1100.0,508.9 1100.5,510.2 1101.0,511.4 1101.5,512.3 1102.0,513.0 1102.5,513.5 1103.0,513.8 1103.5,513.8 1104.0,513.7 1104.5,513.3 1105.0,512.7 1105.5,511.9 1106.0,511.0 1106.5,509.9 1107.0,508.7 1107.5,507.5 1108.0,506.3 1108.5,505.1 1109.0,503.9 1109.5,502.8 1110.0,501.7 1110.5,500.7 1111.0,499.8 1111.5,499.0 1112.0,498.3 1112.5,497.6 1113.0,497.0 1113.5,496.5 1114.0,496.1 1114.5,495.7 1115.0,495.3 1115.5,495.0 1116.0,494.7 1116.5,494.4 1117.0,494.0 1117.5,493.6 1118.0,493.2 1118.5,492.7 1119.0,492.2 1119.5,491.6 1120.0,491.0 1120.5,490.4 1121.0,489.7 1121.5,489.0 1122.0,488.2 1122.5,487.4 1123.0,486.5 1123.5,485.6 1124.0,484.6 1124.5,483.6 1125.0,482.6 1125.5,481.6 1126.0,480.5 1126.5,479.4 1127.0,478.3 1127.5,477.2 1128.0,476.1 1128.5,474.9 1129.0,473.8 1129.5,472.7 1130.0,471.6 1130.5,470.5 1131.0,469.4 1131.5,468.4 1132.0,467.4 1132.5,466.4 1133.0,465.4 1133.5,464.5 1134.0,463.7 1134.5,462.9 1135.0,462.1 1135.5,461.4 1136.0,460.7 1136.5,460.1 1137.0,459.4 1137.5,458.9 1138.0,458.3 1138.5,457.7 1139.0,457.2 1139.5,456.7 1140.0,456.2 1140.5,455.8 1141.0,455.4 1141.5,454.9 1142.0,454.5 1142.5,454.2 1143.0,453.8 1143.5,453.5 1144.0,453.1 1144.5,452.8 1145.0,452.5 1145.5,452.2 1146.0,452.0 1146.5,451.7 1147.0,451.4 1147.5,451.2 1148.0,450.9 1148.5,450.7 1149.0,450.5 1149.5,450.3 1150.0,450.0 1150.5,449.8 1151.0,449.6 1151.5,449.4 1152.0,449.2 1152.5,449.1 1153.0,448.9 1153.5,448.7 1154.0,448.5 1154.5,448.3 1155.0,448.2 1155.5,448.0 1156.0,447.8 1156.5,447.7 1157.0,447.5 1157.5,447.4 1158.0,447.2 1158.5,447.1 1159.0,446.9 1159.5,446.8 1160.0,446.6 1160.5,446.5 1161.0,446.4 1161.5,446.2 1162.0,446.1 1162.5,446.0 1163.0,445.8 1163.5,445.7 1164.0,445.6 1164.5,445.4 1165.0,445.3 1165.5,445.2 1166.0,445.1 1166.5,445.0 1167.0,444.8 1167.5,444.7 1168.0,444.6 1168.5,444.5 1169.0,444.4 1169.5,444.3 1170.0,444.2 1170.5,444.1 1171.0,444.0 1171.5,443.9 1172.0,443.8 1172.5,443.6 1173.0,443.6 1173.5,443.5 1174.0,443.4 1174.5,443.3 1175.0,443.2 1175.5,443.1 1176.0,443.0 1176.5,442.9 1177.0,442.8 1177.5,442.7 1178.0,442.6 1178.5,442.5 1179.0,442.5 1179.5,442.4 1180.0,442.3 1180.5,442.2 1181.0,442.1 1181.5,442.1 1182.0,442.0 1182.5,441.9 1183.0,441.8 1183.5,441.8 1184.0,441.7 1184.5,441.6 1185.0,441.6 1185.5,441.5 1186.0,441.4 1186.5,441.4 1187.0,441.3 1187.5,441.2 1188.0,441.2 1188.5,441.1 1189.0,441.1 1189.5,441.0 1190.0,440.9 1190.5,440.9 1191.0,440.8 1191.5,440.7 1192.0,440.7 1192.5,440.6 1193.0,440.6 1193.5,440.5 1194.0,440.5 1194.5,440.4 1195.0,440.4 1195.5,440.3 1196.0,440.2 1196.5,440.2 1197.0,440.1 1197.5,440.1 1198.0,440.0 1198.5,440.0 1199.0,439.9 1199.5,439.9 1200.0,439.8 1200.5,439.8 1201.0,439.8 1201.5,439.7 1202.0,439.7 1202.5,439.6 1203.0,439.6 1203.5,439.5 1204.0,439.5 1204.5,439.4 1205.0,439.4 1205.5,439.4 1206.0,439.3 1206.5,439.3 1207.0,439.3 1207.5,439.2 1208.0,439.2 1208.5,439.1 1209.0,439.1 1209.5,439.1 1210.0,439.0 1210.5,439.0 1211.0,439.0 1211.5,438.9 1212.0,438.9 1212.5,438.9 1213.0,438.9 1213.5,438.8 1214.0,438.8 1214.5,438.8 1215.0,438.7 1215.5,438.7 1216.0,438.7 1216.5,438.7 1217.0,438.6 1217.5,438.6 1218.0,438.6 1218.5,438.5 1219.0,438.5 1219.5,438.5 1220.0,438.5 1220.5,438.4 1221.0,438.4 1221.5,438.4 1222.0,438.4 1222.5,438.3 1223.0,438.3 1223.5,438.3 1224.0,438.3 1224.5,438.3 1225.0,438.2 1225.5,438.2 1226.0,438.2 1226.5,438.2 1227.0,438.1 1227.5,438.1 1228.0,438.1 1228.5,438.1 1229.0,438.1 1229.5,438.0 1230.0,438.0 1230.5,438.0 1231.0,438.0 1231.5,438.0 1232.0,437.9 1232.5,437.9 1233.0,437.9 1233.5,437.9 1234.0,437.9 1234.5,437.8 1235.0,437.8 1235.5,437.8 1236.0,437.8 1236.5,437.8 1237.0,437.7 1237.5,437.7 1238.0,437.7 1238.5,437.7 1239.0,437.7 1239.5,437.7 1240.0,437.6 1240.5,437.6 1241.0,437.6 1241.5,437.6 1242.0,437.6 1242.5,437.5 1243.0,437.5 1243.5,437.5 1244.0,437.5 1244.5,437.5 1245.0,437.5 1245.5,437.4 1246.0,437.4 1246.5,437.4 1247.0,437.4 1247.5,437.4 1248.0,437.3 1248.5,437.3 1249.0,437.3 1249.5,437.3 1250.0,437.3 1250.5,437.3 1251.0,437.2 1251.5,437.2 1252.0,437.2 1252.5,437.2 1253.0,437.2 1253.5,437.2 1254.0,437.1 1254.5,437.1 1255.0,437.1 1255.5,437.1 1256.0,437.1 1256.5,437.1 1257.0,437.0 1257.5,437.0 1258.0,437.0 1258.5,437.0 1259.0,437.0 1259.5,437.0 1260.0,436.9 1260.5,436.9 1261.0,436.9 1261.5,436.9 1262.0,436.9 1262.5,436.9 1263.0,436.9 1263.5,436.8 1264.0,436.8 1264.5,436.8 1265.0,436.8 1265.5,436.8 1266.0,436.8 1266.5,436.8 1267.0,436.7 1267.5,436.7 1268.0,436.7 1268.5,436.7 1269.0,436.7 1269.5,436.7 1270.0,436.7 1270.5,436.7 1271.0,436.6 1271.5,436.6 1272.0,436.6 1272.5,436.6 1273.0,436.6 1273.5,436.6 1274.0,436.6 1274.5,436.6 1275.0,436.5 1275.5,436.5 1276.0,436.5 1276.5,436.5 1277.0,436.5"/>
<polyline stroke="#ff0000" points="27.0,428.5 27.5,428.5 28.0,428.5 28.5,428.5 29.0,428.5 29.5,428.5 30.0,428.5 30.5,428.5 31.0,428.5 31.5,428.5 32.0,428.5 32.5,428.5 33.0,428.5 33.5,428.5 34.0,428.5 34.5,428.5 35.0,428.5 35.5,428.5 36.0,428.5 36.5,428.5 37.0,428.5 37.5,428.4 38.0,428.4 38.5,428.4 39.0,428.4 39.5,428.4 40.0,428.4 40.5,428.4 41.0,428.4 41.5,428.4 42.0,428.4 42.5,428.4 43.0,428.4 43.5,428.4 44.0,428.4 44.5,428.4 45.0,428.4 45.5,428.3 46.0,428.3 46.5,428.3 47.0,428.3 47.5,428.3 48.0,428.3 48.5,428.3 49.0,428.3 49.5,428.3 50.0,428.3 50.5,428.2 51.0,428.2 51.5,428.2 52.0,428.2 52.5,428.2 53.0,428.2 53.5,428.2 54.0,428.2 54.5,428.2 55.0,428.1 55.5,428.1 56.0,428.1 56.5,428.1 57.0,428.1 57.5,428.1 58.0,428.1 58.5,428.0 59.0,428.0 59.5,428.0 60.0,428.0 60.5,428.0 61.0,428.0 61.5,427.9 62.0,427.9 62.5,427.9 63.0,427.8 63.5,427.8 64.0,427.7 64.5,427.7 65.0,427.6 65.5,427.5 66.0,427.5 66.5,427.4 67.0,427.3 67.5,427.3 68.0,427.2 68.5,427.1 69.0,427.0 69.5,427.0 70.0,426.9 70.5,426.8 71.0,426.7 71.5,426.6 72.0,426.5 72.5,426.4 73.0,426.3 73.5,426.3 74.0,426.2 74.5,426.1 75.0,426.0 75.5,425.9 76.0,425.8 76.5,425.7 77.0,425.6 77.5,425.5 78.0,425.4 78.5,425.3 79.0,425.1 79.5,425.0 80.0,424.9 80.5,424.7 81.0,424.6 81.5,424.5 82.0,424.3 82.5,424.2 83.0,424.1 83.5,423.9 84.0,423.8 84.5,423.6 85.0,423.5 85.5,423.4 86.0,423.3 86.5,423.1 87.0,423.0 87.5,422.9 88.0,422.8 88.5,422.7 89.0,422.6 89.5,422.5 90.0,422.4 90.5,422.3 91.0,422.3 91.5,422.2 92.0,422.1 92.5,422.0 93.0,422.0 93.5,421.9 94.0,421.9 94.5,421.8 95.0,421.7 95.5,421.7 96.0,421.6 96.5,421.5 97.0,421.5 97.5,421.4 98.0,421.3 98.5,421.3 99.0,421.2 99.5,421.1 100.0,421.0 100.5,420.9 101.0,420.8 101.5,420.7 102.0,420.6 102.5,420.5 103.0,420.4 103.5,420.3 104.0,420.1 104.5,420.0 105.0,419.9 105.5,419.8 106.0,419.6 106.5,419.5 107.0,419.4 107.5,419.2 108.0,419.1 108.5,418.9 109.0,418.8 109.5,418.7 110.0,418.5 110.5,418.3 111.0,418.2 111.5,418.0 112.0,417.9 112.5,417.7 113.0,417.6 113.5,417.4 114.0,417.2 114.5,417.1 115.0,416.9 115.5,416.7 116.0,416.6 116.5,416.4 117.0,416.2 117.5,416.0 118.0,415.9 118.5,415.7 119.0,415.5 119.5,415.3 120.0,415.2 120.5,415.0 121.0,414.8 121.5,414.6 122.0,414.4 122.5,414.2 123.0,414.0 123.5,413.8 124.0,413.6 124.5,413.4 125.0,413.2 125.5,413.0 126.0,412.7 126.5,412.5 127.0,412.3 127.5,412.1 128.0,411.8 128.5,411.6 129.0,411.4 129.5,411.2 130.0,410.9 130.5,410.7 131.0,410.4 131.5,410.2 132.0,410.0 132.5,409.7 133.0,409.5 133.5,409.2 134.0,409.0 134.5,408.7 135.0,408.5 135.5,408.2 136.0,408.0 136.5,407.7 137.0,407.5 137.5,407.2 138.0,406.9 138.5,406.7 139.0,406.4 139.5,406.2 140.0,405.9 140.5,405.6 141.0,405.4 141.5,405.1 142.0,404.8 142.5,404.6 143.0,404.3 143.5,404.0 144.0,403.7 144.5,403.4 145.0,403.1 145.5,402.8 146.0,402.5 146.5,402.2 147.0,401.9 147.5,401.6 148.0,401.3 148.5,401.0 149.0,400.6 149.5,400.3 150.0,399.9 150.5,399.6 151.0,399.2 151.5,398.8 152.0,398.4 152.5,398.0 153.0,397.6 153.5,397.2 154.0,396.8 154.5,396.3 155.0,395.9 155.5,395.4 156.0,394.9 156.5,394.4 157.0,393.9 157.5,393.4 158.0,392.9 158.5,392.3 159.0,391.7 159.5,391.2 160.0,390.6 160.5,390.0 161.0,389.4 161.5,388.8 162.0,388.1 162.5,387.4 163.0,386.7 163.5,386.0 164.0,385.2 164.5,384.5 165.0,383.7 165.5,382.8 166.0,382.0 166.5,381.2 167.0,380.4 167.5,379.5 168.0,378.6 168.5,377.8 169.0,376.9 169.5,376.1 170.0,375.2 170.5,374.3 171.0,373.5 171.5,372.6 172.0,371.6 172.5,370.7 173.0,369.8 173.5,368.9 174.0,367.9 174.5,366.9 175.0,366.0 175.5,365.0 176.0,364.0 176.5,363.0 177.0,362.0 177.5,361.0 178.0,360.0 178.5,359.0 179.0,358.0 179.5,357.0 180.0,356.0 180.5,354.9 181.0,353.8 181.5,352.6 182.0,351.3 182.5,350.0 183.0,348.6 183.5,347.0 184.0,345.2 184.5,343.4 185.0,341.5 185.5,339.6 186.0,337.7 186.5,335.8 187.0,334.0 187.5,332.2 188.0,330.5 188.5,328.7 189.0,327.0 189.5,325.3 190.0,323.5 190.5,321.7 191.0,319.9 191.5,318.0 192.0,316.0 192.5,314.0 193.0,311.9 193.5,309.7 194.0,307.5 194.5,305.2 195.0,302.8 195.5,300.3 196.0,297.7 196.5,295.0 197.0,292.1 197.5,288.9 198.0,285.5 198.5,282.0 199.0,278.4 199.5,274.8 200.0,271.2 200.5,267.7 201.0,264.3 201.5,261.2 202.0,258.3 202.5,255.5 203.0,252.7 203.5,250.1 204.0,247.5 204.5,245.0 205.0,242.5 205.5,240.1 206.0,237.6 206.5,235.2 207.0,232.7 207.5,230.2 208.0,227.7 208.5,225.1 209.0,222.6 209.5,220.1 210.0,217.6 210.5,215.0 211.0,212.5 211.5,210.0 212.0,207.5 212.5,205.0 213.0,202.5 213.5,200.0 214.0,197.4 214.5,194.7 215.0,191.9 215.5,189.1 216.0,186.2 216.5,183.4 217.0,180.6 217.5,178.0 218.0,175.6 218.5,173.4 219.0,171.5 219.5,170.0 220.0,168.7 220.5,167.4 221.0,166.1 221.5,164.8 222.0,163.6 222.5,162.5 223.0,161.3 223.5,160.3 224.0,159.3 224.5,158.4 225.0,157.5 225.5,156.8 226.0,156.1 226.5,155.5 227.0,155.1 227.5,154.8 228.0,154.6 228.5,154.5 229.0,154.6 229.5,154.9 230.0,155.4 230.5,156.1 231.0,156.9 231.5,158.0 232.0,159.1 232.5,160.5 233.0,161.9 233.5,163.5 234.0,165.3 234.5,167.1 235.0,169.1 235.5,171.1 236.0,173.2 236.5,175.4 237.0,177.7 237.5,180.1 238.0,183.3 238.5,187.5 239.0,192.4 239.5,197.9 240.0,203.7 240.5,209.5 241.0,215.1 241.5,220.3 242.0,225.1 242.5,229.8 243.0,234.4 243.5,239.2 244.0,244.1 244.5,249.4 245.0,255.2 245.5,261.6 246.0,268.8 246.5,276.9 247.0,285.5 247.5,294.7 248.0,304.2 248.5,314.0 249.0,325.0 249.5,336.9 250.0,349.1 250.5,361.0 251.0,372.1 251.5,381.8 252.0,390.7 252.5,399.3 253.0,407.4 253.5,415.3 254.0,422.8 254.5,430.0 255.0,437.0 255.5,443.8 256.0,450.3 256.5,456.7 257.0,462.8 257.5,468.8 258.0,474.6 258.5,480.1 259.0,485.4 259.5,490.3 260.0,495.0 260.5,499.4 261.0,503.7 261.5,507.8 262.0,511.7 262.5,515.5 263.0,519.3 263.5,522.9 264.0,526.4 264.5,529.8 265.0,533.1 265.5,536.4 266.0,539.6 266.5,542.7 267.0,546.0 267.5,549.4 268.0,553.0 268.5,556.7 269.0,560.3 269.5,563.7 270.0,567.0 270.5,570.0 271.0,572.7 271.5,574.9 272.0,576.6 272.5,577.6 273.0,578.0 273.5,577.8 274.0,577.3 274.5,576.5 275.0,575.5 275.5,574.2 276.0,572.8 276.5,571.3 277.0,569.7 277.5,568.1 278.0,566.5 278.5,565.0 279.0,563.4 279.5,561.8 280.0,560.0 280.5,558.1 281.0,556.1 281.5,554.0 282.0,551.9 282.5,549.7 283.0,547.4 283.5,545.1 284.0,542.7 284.5,540.2 285.0,537.4 285.5,534.6 286.0,531.6 286.5,528.6 287.0,525.6 287.5,522.7 288.0,520.0 288.5,517.5 289.0,515.1 289.5,512.9 290.0,510.7 290.5,508.7 291.0,506.6 291.5,504.6 292.0,502.6 292.5,500.6 293.0,498.5 293.5,496.3 294.0,494.0 294.5,491.6 295.0,489.0 295.5,486.2 296.0,483.2 296.5,480.0 297.0,476.2 297.5,471.6 298.0,466.4 298.5,460.9 299.0,455.3 299.5,449.9 300.0,444.8 300.5,440.2 301.0,435.7 301.5,431.4 302.0,427.1 302.5,422.9 303.0,418.7 303.5,414.7 304.0,410.6 304.5,406.6 305.0,402.6 305.5,398.6 306.0,394.7 306.5,390.7 307.0,386.7 307.5,382.6 308.0,378.6 308.5,374.6 309.0,370.6 309.5,366.7 310.0,362.8 310.5,358.9 311.0,354.9 311.5,351.0 312.0,347.0 312.5,342.9 313.0,338.7 313.5,334.4 314.0,330.0 314.5,325.4 315.0,320.6 315.5,315.7 316.0,310.7 316.5,305.6 317.0,300.4 317.5,295.2 318.0,290.1 318.5,285.0 319.0,280.0 319.5,275.0 320.0,270.0 320.5,265.1 321.0,260.1 321.5,255.2 322.0,250.4 322.5,245.7 323.0,241.1 323.5,236.5 324.0,231.9 324.5,227.2 325.0,222.6 325.5,218.0 326.0,213.5 326.5,209.1 327.0,204.7 327.5,200.5 328.0,196.4 328.5,192.5 329.0,188.8 329.5,185.3 330.0,182.0 330.5,179.0 331.0,175.9 331.5,172.8 332.0,169.6 332.5,166.5 333.0,163.3 333.5,160.3 334.0,157.3 334.5,154.5 335.0,151.8 335.5,149.3 336.0,147.1 336.5,145.1 337.0,143.4 337.5,142.0 338.0,141.0 338.5,140.3 339.0,140.1 339.5,140.3 340.0,140.8 340.5,141.7 341.0,142.8 341.5,144.3 342.0,146.0 342.5,148.0 343.0,150.3 343.5,152.7 344.0,155.3 344.5,158.1 345.0,161.1 345.5,164.1 346.0,167.3 346.5,170.6 347.0,174.0 347.5,177.4 348.0,180.9 348.5,184.7 349.0,188.9 349.5,193.7 350.0,199.0 350.5,205.0 351.0,211.5 351.5,218.7 352.0,226.7 352.5,235.4 353.0,245.0 353.5,258.2 354.0,275.2 354.5,294.5 355.0,314.5 355.5,333.8 356.0,354.1 356.5,375.6 357.0,396.9 357.5,416.6 358.0,433.5 358.5,448.5 359.0,462.4 359.5,475.2 360.0,486.7 360.5,497.0 361.0,506.4 361.5,515.2 362.0,523.6 362.5,531.6 363.0,539.2 363.5,546.4 364.0,553.5 364.5,560.3 365.0,566.9 365.5,573.5 366.0,580.0 366.5,586.5 367.0,593.1 367.5,599.8 368.0,606.7 368.5,613.9 369.0,621.3 369.5,628.7 370.0,636.0 370.5,642.9 371.0,649.3 371.5,655.1 372.0,660.0 372.5,664.5 373.0,669.1 373.5,673.6 374.0,677.7 374.5,681.2 375.0,684.0 375.5,685.8 376.0,686.5 376.5,686.3 377.0,685.5 377.5,684.4 378.0,682.9 378.5,681.1 379.0,679.0 379.5,676.7 380.0,674.1 380.5,671.5 381.0,668.7 381.5,665.8 382.0,663.0 382.5,660.1 383.0,657.4 383.5,654.7 384.0,652.3 384.5,650.0 385.0,647.9 385.5,645.8 386.0,643.8 386.5,641.8 387.0,639.8 387.5,637.8 388.0,635.8 388.5,633.7 389.0,631.6 389.5,629.5 390.0,627.2 390.5,624.9 391.0,622.5 391.5,619.9 392.0,617.2 392.5,614.3 393.0,611.3 393.5,608.1 394.0,604.8 394.5,601.4 395.0,597.9 395.5,594.3 396.0,590.7 396.5,587.1 397.0,583.4 397.5,579.8 398.0,576.2 398.5,572.5 399.0,568.8 399.5,565.1 400.0,561.2 400.5,557.3 401.0,553.3 401.5,549.2 402.0,545.0 402.5,540.6 403.0,536.1 403.5,531.3 404.0,526.5 404.5,521.6 405.0,516.6 405.5,511.5 406.0,506.5 406.5,501.5 407.0,496.6 407.5,491.7 408.0,487.0 408.5,482.4 409.0,478.0 409.5,473.6 410.0,469.3 410.5,465.0 411.0,460.8 411.5,456.5 412.0,452.1 412.5,447.7 413.0,443.1 413.5,438.4 414.0,433.5 414.5,428.3 415.0,422.8 415.5,417.0 416.0,411.0 416.5,404.8 417.0,398.5 417.5,392.0 418.0,385.6 418.5,379.2 419.0,372.9 419.5,366.8 420.0,360.9 420.5,355.2 421.0,349.8 421.5,344.6 422.0,339.5 422.5,334.5 423.0,329.7 423.5,324.9 424.0,320.1 424.5,315.4 425.0,310.6 425.5,305.8 426.0,300.9 426.5,295.9 427.0,290.8 427.5,285.5 428.0,280.0 428.5,274.2 429.0,268.1 429.5,261.8 430.0,255.4 430.5,248.8 431.0,242.3 431.5,235.9 432.0,229.6 432.5,223.5 433.0,217.8 433.5,212.2 434.0,206.6 434.5,200.9 435.0,195.2 435.5,189.6 436.0,184.1 436.5,178.7 437.0,173.4 437.5,168.3 438.0,163.4 438.5,158.7 439.0,154.4 439.5,150.3 440.0,146.6 440.5,143.3 441.0,140.3 441.5,137.2 442.0,134.1 442.5,131.1 443.0,128.1 443.5,125.1 444.0,122.3 444.5,119.5 445.0,116.8 445.5,114.3 446.0,111.9 446.5,109.6 447.0,107.6 447.5,105.7 448.0,104.1 448.5,102.7 449.0,101.6 449.5,100.8 450.0,100.2 450.5,100.0 451.0,100.2 451.5,100.9 452.0,102.2 452.5,103.9 453.0,106.0 453.5,108.6 454.0,111.5 454.5,114.7 455.0,118.2 455.5,122.0 456.0,125.9 456.5,130.0 457.0,134.2 457.5,138.4 458.0,142.7 458.5,147.5 459.0,153.3 459.5,159.8 460.0,167.1 460.5,174.9 461.0,183.1 461.5,191.7 462.0,200.4 462.5,209.1 463.0,217.8 463.5,225.9 464.0,233.4 464.5,240.8 465.0,248.9 465.5,258.1 466.0,269.0 466.5,282.3 467.0,299.1 467.5,334.2 468.0,374.0 468.5,402.7 469.0,429.2 469.5,453.4 470.0,474.5 470.5,492.0 471.0,506.0 471.5,518.1 472.0,528.9 472.5,538.5 473.0,547.5 473.5,556.2 474.0,565.0 474.5,574.1 475.0,584.1 475.5,594.4 476.0,604.8 476.5,615.0 477.0,624.6 477.5,633.4 478.0,641.7 478.5,649.6 479.0,657.1 479.5,664.4 480.0,671.6 480.5,678.8 481.0,686.1 481.5,693.5 482.0,702.3 482.5,712.1 483.0,721.8 483.5,730.3 484.0,736.6 484.5,739.5 485.0,739.6 485.5,739.4 486.0,739.2 486.5,738.9 487.0,738.5 487.5,738.0 488.0,737.5 488.5,736.9 489.0,736.3 489.5,735.6 490.0,735.0 490.5,734.3 491.0,733.5 491.5,732.7 492.0,731.7 492.5,730.5 493.0,729.3 493.5,727.8 494.0,726.3 494.5,724.5 495.0,722.5 495.5,720.4 496.0,718.0 496.5,714.2 497.0,708.3 497.5,701.2 498.0,693.5 498.5,686.2 499.0,680.0 499.5,674.8 500.0,669.8 500.5,665.0 501.0,660.4 501.5,656.0 502.0,651.7 502.5,647.4 503.0,643.1 503.5,638.8 504.0,634.5 504.5,630.0 505.0,625.5 505.5,620.9 506.0,616.4 506.5,611.9 507.0,607.3 507.5,602.8 508.0,598.2 508.5,593.7 509.0,589.2 509.5,584.7 510.0,580.3 510.5,575.8 511.0,571.4 511.5,567.0 512.0,562.6 512.5,558.1 513.0,553.6 513.5,549.0 514.0,544.5 514.5,540.1 515.0,535.8 515.5,531.6 516.0,527.5 516.5,523.6 517.0,520.0 517.5,516.7 518.0,513.7 518.5,510.9 519.0,508.2 519.5,505.6 520.0,502.9 520.5,500.1 521.0,497.1 521.5,493.8 522.0,490.0 522.5,485.5 523.0,480.2 523.5,474.3 524.0,468.2 524.5,462.2 525.0,456.5 525.5,451.2 526.0,446.0 526.5,440.9 527.0,435.9 527.5,430.9 528.0,426.0 528.5,421.1 529.0,416.2 529.5,411.3 530.0,406.3 530.5,401.3 531.0,396.3 531.5,391.2 532.0,386.1 532.5,381.1 533.0,376.0 533.5,371.0 534.0,366.0 534.5,361.0 535.0,356.1 535.5,351.3 536.0,346.5 536.5,341.8 537.0,337.2 537.5,332.8 538.0,328.4 538.5,324.2 539.0,320.0 539.5,315.8 540.0,311.5 540.5,307.2 541.0,302.9 541.5,298.4 542.0,293.8 542.5,289.0 543.0,283.9 543.5,278.6 544.0,273.1 544.5,267.3 545.0,261.5 545.5,255.6 546.0,249.7 546.5,243.8 547.0,238.1 547.5,232.5 548.0,227.2 548.5,222.0 549.0,216.9 549.5,211.9 550.0,206.9 550.5,202.0 551.0,197.0 551.5,192.1 552.0,187.2 552.5,182.2 553.0,177.1 553.5,171.6 554.0,165.9 554.5,160.0 555.0,154.2 555.5,148.5 556.0,143.3 556.5,138.5 557.0,134.4 557.5,131.1 558.0,128.7 558.5,126.3 559.0,124.1 559.5,121.9 560.0,119.8 560.5,117.8 561.0,115.9 561.5,114.2 562.0,112.6 562.5,111.3 563.0,110.1 563.5,109.1 564.0,108.4 564.5,107.9 565.0,107.6 565.5,107.7 566.0,108.4 566.5,109.7 567.0,111.5 567.5,113.9 568.0,116.6 568.5,119.7 569.0,123.1 569.5,126.7 570.0,130.5 570.5,134.5 571.0,138.6 571.5,142.7 572.0,147.5 572.5,153.4 573.0,160.2 573.5,167.6 574.0,175.2 574.5,182.8 575.0,190.1 575.5,196.7 576.0,203.0 576.5,209.1 577.0,215.2 577.5,221.4 578.0,228.0 578.5,235.1 579.0,242.9 579.5,251.1 580.0,259.7 580.5,269.5 581.0,281.0 581.5,295.0 582.0,318.2 582.5,346.2 583.0,366.3 583.5,383.0 584.0,397.8 584.5,411.6 585.0,425.0 585.5,438.3 586.0,450.5 586.5,462.2 587.0,474.0 587.5,486.7 588.0,501.0 588.5,518.1 589.0,536.6 589.5,555.0 590.0,571.7 590.5,585.3 591.0,597.3 591.5,608.3 592.0,618.6 592.5,628.3 593.0,637.6 593.5,646.6 594.0,655.4 594.5,664.2 595.0,672.9 595.5,681.2 596.0,688.6 596.5,695.0 597.0,700.9 597.5,706.8 598.0,712.8 598.5,718.4 599.0,723.7 599.5,728.4 600.0,732.3 600.5,735.4 601.0,737.3 601.5,738.0 602.0,737.7 602.5,737.0 603.0,735.8 603.5,734.3 604.0,732.5 604.5,730.5 605.0,728.4 605.5,726.2 606.0,724.1 606.5,722.0 607.0,720.0 607.5,718.1 608.0,716.3 608.5,714.3 609.0,712.4 609.5,710.4 610.0,708.3 610.5,706.2 611.0,703.9 611.5,701.6 612.0,699.2 612.5,696.6 613.0,693.9 613.5,691.0 614.0,687.9 614.5,684.6 615.0,681.1 615.5,677.4 616.0,673.6 616.5,669.7 617.0,665.7 617.5,661.6 618.0,657.5 618.5,653.2 619.0,649.0 619.5,644.8 620.0,640.5 620.5,636.3 621.0,632.1 621.5,628.0 622.0,624.0 622.5,620.1 623.0,616.3 623.5,612.5 624.0,608.8 624.5,605.1 625.0,601.4 625.5,597.8 626.0,594.1 626.5,590.5 627.0,586.8 627.5,583.2 628.0,579.6 628.5,575.9 629.0,572.2 629.5,568.6 630.0,564.9 630.5,561.1 631.0,557.4 631.5,553.6 632.0,549.7 632.5,545.8 633.0,541.9 633.5,538.0 634.0,534.0 634.5,530.0 635.0,526.0 635.5,521.9 636.0,517.9 636.5,513.7 637.0,509.6 637.5,505.4 638.0,501.2 638.5,496.9 639.0,492.5 639.5,488.1 640.0,483.6 640.5,479.1 641.0,474.4 641.5,469.5 642.0,464.5 642.5,459.4 643.0,454.3 643.5,449.2 644.0,444.1 644.5,439.1 645.0,434.2 645.5,429.5 646.0,424.8 646.5,420.2 647.0,415.6 647.5,411.1 648.0,406.6 648.5,402.1 649.0,397.7 649.5,393.3 650.0,388.9 650.5,384.6 651.0,380.3 651.5,376.0 652.0,371.7 652.5,367.4 653.0,363.1 653.5,358.9 654.0,354.6 654.5,350.4 655.0,346.1 655.5,341.8 656.0,337.6 656.5,333.4 657.0,329.2 657.5,325.0 658.0,320.9 658.5,316.7 659.0,312.6 659.5,308.5 660.0,304.3 660.5,300.2 661.0,296.2 661.5,292.1 662.0,288.0 662.5,283.9 663.0,279.9 663.5,275.9 664.0,271.8 664.5,267.8 665.0,263.8 665.5,259.9 666.0,255.9 666.5,251.9 667.0,247.9 667.5,243.9 668.0,240.0 668.5,236.0 669.0,232.0 669.5,228.0 670.0,223.8 670.5,219.4 671.0,214.9 671.5,210.5 672.0,206.0 672.5,201.6 673.0,197.4 673.5,193.3 674.0,189.5 674.5,186.1 675.0,182.9 675.5,180.2 676.0,177.7 676.5,175.1 677.0,172.6 677.5,170.1 678.0,167.7 678.5,165.5 679.0,163.5 679.5,161.7 680.0,160.2 680.5,159.0 681.0,158.1 681.5,157.7 682.0,157.8 682.5,158.2 683.0,159.0 683.5,160.2 684.0,161.6 684.5,163.4 685.0,165.3 685.5,167.5 686.0,169.8 686.5,172.3 687.0,174.9 687.5,177.5 688.0,180.2 688.5,183.2 689.0,186.8 689.5,191.0 690.0,195.6 690.5,200.7 691.0,206.1 691.5,211.9 692.0,217.9 692.5,224.1 693.0,230.4 693.5,237.2 694.0,244.6 694.5,252.7 695.0,261.2 695.5,270.2 696.0,279.6 696.5,289.2 697.0,298.9 697.5,308.8 698.0,319.0 698.5,329.6 699.0,340.9 699.5,352.9 700.0,366.0 700.5,380.2 701.0,398.4 701.5,420.9 702.0,444.4 702.5,465.2 703.0,480.0 703.5,490.2 704.0,499.5 704.5,508.1 705.0,516.1 705.5,523.4 706.0,530.2 706.5,536.5 707.0,542.4 707.5,547.9 708.0,553.2 708.5,558.2 709.0,563.1 709.5,567.9 710.0,572.6 710.5,577.4 711.0,582.3 711.5,587.3 712.0,592.6 712.5,598.1 713.0,604.1 713.5,610.3 714.0,616.7 714.5,623.2 715.0,629.7 715.5,636.1 716.0,642.4 716.5,648.5 717.0,654.4 717.5,660.0 718.0,665.8 718.5,672.1 719.0,678.5 719.5,684.7 720.0,690.3 720.5,694.8 721.0,698.0 721.5,699.5 722.0,699.4 722.5,698.9 723.0,698.1 723.5,697.1 724.0,695.9 724.5,694.5 725.0,693.0 725.5,691.5 726.0,690.0 726.5,688.4 727.0,686.5 727.5,684.4 728.0,682.1 728.5,679.6 729.0,677.0 729.5,674.2 730.0,671.4 730.5,668.5 731.0,665.7 731.5,662.8 732.0,660.0 732.5,657.2 733.0,654.3 733.5,651.3 734.0,648.2 734.5,645.1 735.0,641.9 735.5,638.7 736.0,635.4 736.5,632.1 737.0,628.8 737.5,625.5 738.0,622.2 738.5,618.9 739.0,615.6 739.5,612.4 740.0,609.1 740.5,605.9 741.0,602.8 741.5,599.7 742.0,596.6 742.5,593.5 743.0,590.4 743.5,587.3 744.0,584.3 744.5,581.2 745.0,578.1 745.5,575.1 746.0,572.0 746.5,568.9 747.0,565.8 747.5,562.7 748.0,559.5 748.5,556.4 749.0,553.2 749.5,549.9 750.0,546.7 750.5,543.4 751.0,540.0 751.5,536.6 752.0,533.2 752.5,529.8 753.0,526.4 753.5,522.9 754.0,519.4 754.5,515.8 755.0,512.3 755.5,508.7 756.0,505.1 756.5,501.4 757.0,497.8 757.5,494.1 758.0,490.4 758.5,486.7 759.0,483.0 759.5,479.2 760.0,475.4 760.5,471.6 761.0,467.7 761.5,463.7 762.0,459.7 762.5,455.7 763.0,451.7 763.5,447.7 764.0,443.7 764.5,439.7 765.0,435.8 765.5,431.9 766.0,428.1 766.5,424.3 767.0,420.5 767.5,416.7 768.0,412.9 768.5,409.1 769.0,405.4 769.5,401.6 770.0,397.9 770.5,394.3 771.0,390.6 771.5,387.0 772.0,383.5 772.5,380.0 773.0,376.6 773.5,373.3 774.0,370.0 774.5,366.9 775.0,363.7 775.5,360.6 776.0,357.4 776.5,354.2 777.0,350.9 777.5,347.6 778.0,344.1 778.5,340.5 779.0,336.7 779.5,332.7 780.0,328.5 780.5,324.3 781.0,320.0 781.5,315.6 782.0,311.3 782.5,307.1 783.0,303.0 783.5,299.0 784.0,295.2 784.5,291.6 785.0,288.3 785.5,285.2 786.0,282.2 786.5,279.2 787.0,276.3 787.5,273.5 788.0,270.7 788.5,268.0 789.0,265.4 789.5,262.9 790.0,260.5 790.5,258.3 791.0,256.1 791.5,254.1 792.0,252.2 792.5,250.4 793.0,248.8 793.5,247.1 794.0,245.4 794.5,243.8 795.0,242.1 795.5,240.5 796.0,238.9 796.5,237.3 797.0,235.8 797.5,234.4 798.0,233.0 798.5,231.8 799.0,230.6 799.5,229.6 800.0,228.6 800.5,227.9 801.0,227.2 801.5,226.7 802.0,226.4 802.5,226.3 803.0,226.4 803.5,226.7 804.0,227.1 804.5,227.8 805.0,228.7 805.5,229.7 806.0,230.8 806.5,232.2 807.0,233.6 807.5,235.2 808.0,236.8 808.5,238.6 809.0,240.5 809.5,242.4 810.0,244.4 810.5,246.4 811.0,248.4 811.5,250.5 812.0,252.9 812.5,255.8 813.0,259.1 813.5,262.7 814.0,266.6 814.5,270.8 815.0,275.2 815.5,279.8 816.0,284.5 816.5,289.4 817.0,294.3 817.5,299.2 818.0,304.1 818.5,308.8 819.0,313.6 819.5,318.5 820.0,323.7 820.5,329.3 821.0,335.6 821.5,342.5 822.0,350.3 822.5,359.1 823.0,370.4 823.5,388.5 824.0,410.4 824.5,432.2 825.0,450.0 825.5,461.7 826.0,471.5 826.5,480.3 827.0,488.2 827.5,495.4 828.0,502.1 828.5,508.5 829.0,514.8 829.5,521.1 830.0,527.7 830.5,534.6 831.0,541.9 831.5,549.3 832.0,556.6 832.5,563.9 833.0,570.9 833.5,577.4 834.0,583.5 834.5,588.9 835.0,593.4 835.5,597.2 836.0,600.7 836.5,604.0 837.0,607.1 837.5,610.0 838.0,612.7 838.5,615.2 839.0,617.5 839.5,619.7 840.0,621.6 840.5,623.4 841.0,625.0 841.5,626.5 842.0,628.0 842.5,629.5 843.0,631.0 843.5,632.4 844.0,633.8 844.5,635.0 845.0,636.2 845.5,637.2 846.0,638.1 846.5,638.9 847.0,639.5 847.5,639.9 848.0,640.1 848.5,640.1 849.0,639.8 849.5,639.2 850.0,638.5 850.5,637.5 851.0,636.4 851.5,635.2 852.0,633.9 852.5,632.4 853.0,631.0 853.5,629.4 854.0,627.9 854.5,626.4 855.0,625.0 855.5,623.6 856.0,622.0 856.5,620.5 857.0,618.8 857.5,617.1 858.0,615.3 858.5,613.4 859.0,611.4 859.5,609.4 860.0,607.4 860.5,605.2 861.0,603.0 861.5,600.7 862.0,598.4 862.5,596.0 863.0,593.5 863.5,590.8 864.0,587.9 864.5,584.7 865.0,581.5 865.5,578.0 866.0,574.4 866.5,570.7 867.0,566.9 867.5,563.1 868.0,559.1 868.5,555.1 869.0,551.1 869.5,547.1 870.0,543.0 870.5,539.0 871.0,535.1 871.5,531.2 872.0,527.3 872.5,523.6 873.0,520.0 873.5,516.5 874.0,513.2 874.5,510.0 875.0,507.0 875.5,504.2 876.0,501.5 876.5,499.0 877.0,496.5 877.5,494.1 878.0,491.8 878.5,489.5 879.0,487.3 879.5,485.1 880.0,483.0 880.5,480.8 881.0,478.7 881.5,476.6 882.0,474.5 882.5,472.3 883.0,470.2 883.5,467.9 884.0,465.7 884.5,463.4 885.0,461.0 885.5,458.5 886.0,456.0 886.5,453.4 887.0,450.8 887.5,448.2 888.0,445.5 888.5,442.8 889.0,440.1 889.5,437.4 890.0,434.8 890.5,432.1 891.0,429.5 891.5,426.9 892.0,424.3 892.5,421.8 893.0,419.2 893.5,416.7 894.0,414.1 894.5,411.6 895.0,409.0 895.5,406.5 896.0,404.1 896.5,401.6 897.0,399.2 897.5,396.8 898.0,394.5 898.5,392.2 899.0,389.9 899.5,387.7 900.0,385.5 900.5,383.3 901.0,381.1 901.5,379.0 902.0,376.8 902.5,374.6 903.0,372.4 903.5,370.2 904.0,368.0 904.5,365.7 905.0,363.4 905.5,361.1 906.0,358.7 906.5,356.3 907.0,354.0 907.5,351.6 908.0,349.3 908.5,347.0 909.0,344.7 909.5,342.5 910.0,340.4 910.5,338.3 911.0,336.2 911.5,334.2 912.0,332.1 912.5,330.0 913.0,328.0 913.5,326.0 914.0,324.1 914.5,322.3 915.0,320.5 915.5,318.9 916.0,317.4 916.5,316.0 917.0,314.7 917.5,313.4 918.0,312.1 918.5,310.8 919.0,309.6 919.5,308.4 920.0,307.4 920.5,306.3 921.0,305.4 921.5,304.6 922.0,303.9 922.5,303.4 923.0,303.0 923.5,302.7 924.0,302.4 924.5,302.1 925.0,301.9 925.5,301.6 926.0,301.4 926.5,301.3 927.0,301.1 927.5,301.0 928.0,301.0 928.5,301.0 929.0,301.3 929.5,301.7 930.0,302.3 930.5,303.1 931.0,304.0 931.5,305.0 932.0,306.2 932.5,307.4 933.0,308.7 933.5,310.1 934.0,311.5 934.5,312.9 935.0,314.3 935.5,315.7 936.0,317.1 936.5,318.7 937.0,320.3 937.5,322.1 938.0,324.0 938.5,326.0 939.0,328.2 939.5,330.5 940.0,332.9 940.5,335.5 941.0,338.3 941.5,341.2 942.0,344.3 942.5,348.2 943.0,352.7 943.5,357.7 944.0,363.1 944.5,368.7 945.0,374.3 945.5,379.8 946.0,385.0 946.5,390.0 947.0,394.9 947.5,399.9 948.0,404.9 948.5,409.8 949.0,414.8 949.5,419.8 950.0,424.9 950.5,430.0 951.0,435.4 951.5,441.0 952.0,446.4 952.5,451.7 953.0,456.5 953.5,460.8 954.0,464.7 954.5,468.3 955.0,471.6 955.5,474.8 956.0,477.8 956.5,480.8 957.0,483.6 957.5,486.5 958.0,489.3 958.5,492.3 959.0,495.3 959.5,498.4 960.0,501.8 960.5,505.3 961.0,509.1 961.5,513.3 962.0,517.6 962.5,522.1 963.0,526.6 963.5,531.1 964.0,535.4 964.5,539.6 965.0,543.5 965.5,547.2 966.0,550.9 966.5,554.5 967.0,558.2 967.5,561.7 968.0,565.0 968.5,568.0 969.0,570.8 969.5,573.1 970.0,575.0 970.5,576.6 971.0,578.2 971.5,579.8 972.0,581.3 972.5,582.7 973.0,584.1 973.5,585.3 974.0,586.3 974.5,587.2 975.0,588.0 975.5,588.5 976.0,588.9 976.5,589.0 977.0,588.9 977.5,588.6 978.0,588.2 978.5,587.7 979.0,587.0 979.5,586.3 980.0,585.5 980.5,584.6 981.0,583.7 981.5,582.7 982.0,581.8 982.5,580.9 983.0,580.0 983.5,579.1 984.0,578.2 984.5,577.2 985.0,576.2 985.5,575.2 986.0,574.1 986.5,573.0 987.0,571.9 987.5,570.7 988.0,569.5 988.5,568.2 989.0,567.0 989.5,565.7 990.0,564.4 990.5,563.0 991.0,561.7 991.5,560.3 992.0,558.9 992.5,557.4 993.0,555.9 993.5,554.4 994.0,552.8 994.5,551.2 995.0,549.6 995.5,547.9 996.0,546.1 996.5,544.4 997.0,542.6 997.5,540.7 998.0,538.9 998.5,537.0 999.0,535.0 999.5,533.1 1000.0,531.1 1000.5,529.1 1001.0,527.0 1001.5,524.9 1002.0,522.6 1002.5,520.2 1003.0,517.7 1003.5,515.2 1004.0,512.6 1004.5,509.9 1005.0,507.2 1005.5,504.5 1006.0,501.8 1006.5,499.2 1007.0,496.5 1007.5,494.0 1008.0,491.5 1008.5,489.1 1009.0,486.8 1009.5,484.6 1010.0,482.5 1010.5,480.4 1011.0,478.4 1011.5,476.5 1012.0,474.6 1012.5,472.7 1013.0,470.8 1013.5,469.0 1014.0,467.2 1014.5,465.4 1015.0,463.6 1015.5,461.8 1016.0,460.0 1016.5,458.2 1017.0,456.4 1017.5,454.6 1018.0,452.8 1018.5,450.9 1019.0,449.1 1019.5,447.2 1020.0,445.4 1020.5,443.6 1021.0,441.7 1021.5,439.9 1022.0,438.1 1022.5,436.3 1023.0,434.4 1023.5,432.6 1024.0,430.8 1024.5,428.9 1025.0,427.0 1025.5,425.1 1026.0,423.1 1026.5,421.1 1027.0,419.2 1027.5,417.2 1028.0,415.3 1028.5,413.5 1029.0,411.7 1029.5,410.0 1030.0,408.5 1030.5,407.0 1031.0,405.7 1031.5,404.3 1032.0,403.1 1032.5,401.9 1033.0,400.7 1033.5,399.6 1034.0,398.5 1034.5,397.4 1035.0,396.3 1035.5,395.3 1036.0,394.3 1036.5,393.2 1037.0,392.2 1037.5,391.1 1038.0,390.1 1038.5,389.0 1039.0,387.8 1039.5,386.7 1040.0,385.5 1040.5,384.4 1041.0,383.4 1041.5,382.4 1042.0,381.5 1042.5,380.7 1043.0,380.0 1043.5,379.4 1044.0,378.8 1044.5,378.2 1045.0,377.6 1045.5,377.0 1046.0,376.5 1046.5,375.9 1047.0,375.4 1047.5,374.9 1048.0,374.5 1048.5,374.1 1049.0,373.7 1049.5,373.4 1050.0,373.1 1050.5,372.9 1051.0,372.7 1051.5,372.6 1052.0,372.6 1052.5,372.7 1053.0,372.8 1053.5,373.1 1054.0,373.5 1054.5,373.9 1055.0,374.4 1055.5,374.9 1056.0,375.5 1056.5,376.1 1057.0,376.7 1057.5,377.4 1058.0,378.0 1058.5,378.6 1059.0,379.3 1059.5,380.1 1060.0,380.9 1060.5,381.8 1061.0,382.7 1061.5,383.7 1062.0,384.8 1062.5,385.8 1063.0,387.0 1063.5,388.2 1064.0,389.5 1064.5,390.8 1065.0,392.1 1065.5,393.6 1066.0,395.2 1066.5,397.0 1067.0,399.0 1067.5,401.2 1068.0,403.5 1068.5,405.9 1069.0,408.4 1069.5,411.0 1070.0,413.7 1070.5,416.4 1071.0,419.2 1071.5,422.0 1072.0,424.8 1072.5,427.7 1073.0,430.5 1073.5,433.3 1074.0,436.0 1074.5,438.7 1075.0,441.3 1075.5,443.8 1076.0,446.3 1076.5,448.8 1077.0,451.3 1077.5,453.8 1078.0,456.2 1078.5,458.7 1079.0,461.2 1079.5,463.7 1080.0,466.2 1080.5,468.7 1081.0,471.2 1081.5,473.7 1082.0,476.2 1082.5,478.7 1083.0,481.2 1083.5,483.8 1084.0,486.3 1084.5,488.8 1085.0,491.4 1085.5,493.9 1086.0,496.6 1086.5,499.2 1087.0,502.0 1087.5,504.8 1088.0,507.6 1088.5,510.5 1089.0,513.3 1089.5,516.2 1090.0,519.0 1090.5,521.8 1091.0,524.6 1091.5,527.3 1092.0,529.9 1092.5,532.5 1093.0,535.0 1093.5,537.4 1094.0,539.7 1094.5,541.8 1095.0,543.9 1095.5,545.7 1096.0,547.6 1096.5,549.4 1097.0,551.1 1097.5,552.8 1098.0,554.4 1098.5,556.0 1099.0,557.5 1099.5,558.9 1100.0,560.3 1100.5,561.6 1101.0,562.8 1101.5,564.0 1102.0,565.0 1102.5,566.0 1103.0,567.0 1103.5,568.1 1104.0,569.1 1104.5,570.1 1105.0,571.1 1105.5,572.0 1106.0,572.9 1106.5,573.8 1107.0,574.6 1107.5,575.3 1108.0,575.9 1108.5,576.5 1109.0,576.9 1109.5,577.3 1110.0,577.5 1110.5,577.6 1111.0,577.6 1111.5,577.4 1112.0,577.2 1112.5,576.8 1113.0,576.4 1113.5,575.9 1114.0,575.3 1114.5,574.7 1115.0,574.0 1115.5,573.3 1116.0,572.5 1116.5,571.7 1117.0,570.8 1117.5,569.9 1118.0,569.0 1118.5,568.1 1119.0,567.2 1119.5,566.4 1120.0,565.5 1120.5,564.6 1121.0,563.8 1121.5,563.0 1122.0,562.3 1122.5,561.6 1123.0,560.9 1123.5,560.2 1124.0,559.5 1124.5,558.8 1125.0,558.2 1125.5,557.5 1126.0,556.8 1126.5,556.1 1127.0,555.5 1127.5,554.8 1128.0,554.1 1128.5,553.4 1129.0,552.8 1129.5,552.1 1130.0,551.4 1130.5,550.7 1131.0,550.0 1131.5,549.3 1132.0,548.6 1132.5,548.0 1133.0,547.3 1133.5,546.6 1134.0,545.9 1134.5,545.2 1135.0,544.5 1135.5,543.8 1136.0,543.1 1136.5,542.3 1137.0,541.6 1137.5,540.9 1138.0,540.2 1138.5,539.4 1139.0,538.7 1139.5,538.0 1140.0,537.2 1140.5,536.4 1141.0,535.7 1141.5,534.9 1142.0,534.1 1142.5,533.4 1143.0,532.6 1143.5,531.8 1144.0,531.1 1144.5,530.3 1145.0,529.5 1145.5,528.8 1146.0,528.0 1146.5,527.3 1147.0,526.6 1147.5,525.8 1148.0,525.1 1148.5,524.4 1149.0,523.7 1149.5,523.0 1150.0,522.3 1150.5,521.6 1151.0,520.9 1151.5,520.2 1152.0,519.5 1152.5,518.8 1153.0,518.1 1153.5,517.4 1154.0,516.7 1154.5,516.0 1155.0,515.4 1155.5,514.7 1156.0,514.0 1156.5,513.4 1157.0,512.8 1157.5,512.1 1158.0,511.5 1158.5,510.9 1159.0,510.3 1159.5,509.7 1160.0,509.2 1160.5,508.6 1161.0,508.0 1161.5,507.5 1162.0,507.0 1162.5,506.4 1163.0,505.9 1163.5,505.4 1164.0,504.9 1164.5,504.4 1165.0,503.9 1165.5,503.4 1166.0,502.9 1166.5,502.4 1167.0,502.0 1167.5,501.5 1168.0,501.0 1168.5,500.5 1169.0,500.1 1169.5,499.6 1170.0,499.1 1170.5,498.7 1171.0,498.2 1171.5,497.7 1172.0,497.3 1172.5,496.8 1173.0,496.4 1173.5,495.9 1174.0,495.5 1174.5,495.1 1175.0,494.6 1175.5,494.2 1176.0,493.8 1176.5,493.3 1177.0,492.9 1177.5,492.5 1178.0,492.1 1178.5,491.7 1179.0,491.2 1179.5,490.8 1180.0,490.4 1180.5,490.0 1181.0,489.6 1181.5,489.1 1182.0,488.7 1182.5,488.3 1183.0,487.9 1183.5,487.4 1184.0,487.0 1184.5,486.6 1185.0,486.1 1185.5,485.7 1186.0,485.3 1186.5,484.8 1187.0,484.3 1187.5,483.9 1188.0,483.4 1188.5,483.0 1189.0,482.5 1189.5,482.1 1190.0,481.6 1190.5,481.1 1191.0,480.7 1191.5,480.3 1192.0,479.8 1192.5,479.4 1193.0,479.0 1193.5,478.6 1194.0,478.2 1194.5,477.8 1195.0,477.4 1195.5,477.0 1196.0,476.7 1196.5,476.3 1197.0,476.0 1197.5,475.7 1198.0,475.4 1198.5,475.1 1199.0,474.8 1199.5,474.5 1200.0,474.2 1200.5,473.9 1201.0,473.7 1201.5,473.4 1202.0,473.1 1202.5,472.9 1203.0,472.6 1203.5,472.4 1204.0,472.1 1204.5,471.9 1205.0,471.6 1205.5,471.4 1206.0,471.2 1206.5,470.9 1207.0,470.7 1207.5,470.5 1208.0,470.2 1208.5,470.0 1209.0,469.8 1209.5,469.6 1210.0,469.3 1210.5,469.1 1211.0,468.9 1211.5,468.7 1212.0,468.5 1212.5,468.2 1213.0,468.0 1213.5,467.8 1214.0,467.6 1214.5,467.3 1215.0,467.1 1215.5,466.9 1216.0,466.6 1216.5,466.4 1217.0,466.2 1217.5,466.0 1218.0,465.7 1218.5,465.5 1219.0,465.3 1219.5,465.1 1220.0,464.9 1220.5,464.6 1221.0,464.4 1221.5,464.2 1222.0,464.0 1222.5,463.8 1223.0,463.6 1223.5,463.4 1224.0,463.2 1224.5,463.0 1225.0,462.8 1225.5,462.6 1226.0,462.5 1226.5,462.3 1227.0,462.1 1227.5,461.9 1228.0,461.8 1228.5,461.6 1229.0,461.5 1229.5,461.3 1230.0,461.2 1230.5,461.0 1231.0,460.9 1231.5,460.8 1232.0,460.6 1232.5,460.5 1233.0,460.4 1233.5,460.3 1234.0,460.1 1234.5,460.0 1235.0,459.9 1235.5,459.8 1236.0,459.6 1236.5,459.5 1237.0,459.4 1237.5,459.3 1238.0,459.2 1238.5,459.1 1239.0,459.0 1239.5,458.9 1240.0,458.8 1240.5,458.7 1241.0,458.6 1241.5,458.5 1242.0,458.4 1242.5,458.3 1243.0,458.2 1243.5,458.1 1244.0,458.0 1244.5,457.9 1245.0,457.9 1245.5,457.8 1246.0,457.7 1246.5,457.6 1247.0,457.6 1247.5,457.5 1248.0,457.4 1248.5,457.4 1249.0,457.3 1249.5,457.3 1250.0,457.2 1250.5,457.2 1251.0,457.1 1251.5,457.1 1252.0,457.0 1252.5,456.9 1253.0,456.9 1253.5,456.8 1254.0,456.8 1254.5,456.7 1255.0,456.7 1255.5,456.6 1256.0,456.6 1256.5,456.5 1257.0,456.5 1257.5,456.4 1258.0,456.4 1258.5,456.3 1259.0,456.3 1259.5,456.2 1260.0,456.2 1260.5,456.1 1261.0,456.1 1261.5,456.1 1262.0,456.0 1262.5,456.0 1263.0,455.9 1263.5,455.9 1264.0,455.9 1264.5,455.8 1265.0,455.8 1265.5,455.7 1266.0,455.7 1266.5,455.7 1267.0,455.6 1267.5,455.6 1268.0,455.6 1268.5,455.5 1269.0,455.5 1269.5,455.5 1270.0,455.5 1270.5,455.4 1271.0,455.4 1271.5,455.4 1272.0,455.4 1272.5,455.4 1273.0,455.4 1273.5,455.3 1274.0,455.3 1274.5,455.3 1275.0,455.3 1275.5,455.3 1276.0,455.3 1276.5,455.3 1277.0,455.3"/>
<polyline stroke="#ff0000" stroke-dasharray="14.5 7.3" points="27.0,428.5 27.5,428.5 28.0,428.5 28.5,428.5 29.0,428.5 29.5,428.5 30.0,428.5 30.5,428.5 31.0,428.5 31.5,428.5 32.0,428.5 32.5,428.5 33.0,428.4 33.5,428.4 34.0,428.4 34.5,428.4 35.0,428.4 35.5,428.4 36.0,428.4 36.5,428.4 37.0,428.3 37.5,428.3 38.0,428.3 38.5,428.3 39.0,428.3 39.5,428.3 40.0,428.2 40.5,428.2 41.0,428.2 41.5,428.2 42.0,428.2 42.5,428.1 43.0,428.1 43.5,428.1 44.0,428.1 44.5,428.0 45.0,428.0 45.5,428.0 46.0,428.0 46.5,427.9 47.0,427.9 47.5,427.9 48.0,427.8 48.5,427.8 49.0,427.8 49.5,427.8 50.0,427.7 50.5,427.7 51.0,427.7 51.5,427.6 52.0,427.6 52.5,427.6 53.0,427.5 53.5,427.5 54.0,427.5 54.5,427.4 55.0,427.4 55.5,427.3 56.0,427.3 56.5,427.3 57.0,427.2 57.5,427.2 58.0,427.2 58.5,427.1 59.0,427.1 59.5,427.0 60.0,427.0 60.5,427.0 61.0,426.9 61.5,426.8 62.0,426.8 62.5,426.7 63.0,426.6 63.5,426.5 64.0,426.4 64.5,426.3 65.0,426.2 65.5,426.1 66.0,426.0 66.5,425.9 67.0,425.7 67.5,425.6 68.0,425.5 68.5,425.3 69.0,425.2 69.5,425.0 70.0,424.9 70.5,424.7 71.0,424.6 71.5,424.4 72.0,424.3 72.5,424.1 73.0,423.9 73.5,423.8 74.0,423.6 74.5,423.5 75.0,423.3 75.5,423.1 76.0,423.0 76.5,422.8 77.0,422.7 77.5,422.5 78.0,422.4 78.5,422.2 79.0,422.1 79.5,421.9 80.0,421.8 80.5,421.6 81.0,421.5 81.5,421.4 82.0,421.2 82.5,421.1 83.0,421.0 83.5,420.9 84.0,420.8 84.5,420.7 85.0,420.6 85.5,420.5 86.0,420.4 86.5,420.3 87.0,420.2 87.5,420.1 88.0,420.0 88.5,419.9 89.0,419.8 89.5,419.7 90.0,419.6 90.5,419.5 91.0,419.4 91.5,419.3 92.0,419.2 92.5,419.1 93.0,419.1 93.5,419.0 94.0,418.9 94.5,418.8 95.0,418.7 95.5,418.6 96.0,418.5 96.5,418.3 97.0,418.2 97.5,418.1 98.0,418.0 98.5,417.9 99.0,417.8 99.5,417.6 100.0,417.5 100.5,417.4 101.0,417.2 101.5,417.1 102.0,416.9 102.5,416.8 103.0,416.6 103.5,416.5 104.0,416.3 104.5,416.2 105.0,416.0 105.5,415.9 106.0,415.7 106.5,415.5 107.0,415.4 107.5,415.2 108.0,415.0 108.5,414.8 109.0,414.6 109.5,414.5 110.0,414.3 110.5,414.1 111.0,413.9 111.5,413.7 112.0,413.5 112.5,413.3 113.0,413.1 113.5,412.9 114.0,412.7 114.5,412.5 115.0,412.3 115.5,412.1 116.0,411.8 116.5,411.6 117.0,411.4 117.5,411.2 118.0,410.9 118.5,410.7 119.0,410.5 119.5,410.3 120.0,410.0 120.5,409.8 121.0,409.5 121.5,409.3 122.0,409.1 122.5,408.8 123.0,408.6 123.5,408.3 124.0,408.1 124.5,407.8 125.0,407.6 125.5,407.3 126.0,407.1 126.5,406.8 127.0,406.5 127.5,406.3 128.0,406.0 128.5,405.7 129.0,405.5 129.5,405.2 130.0,404.9 130.5,404.6 131.0,404.3 131.5,404.0 132.0,403.7 132.5,403.3 133.0,403.0 133.5,402.7 134.0,402.3 134.5,402.0 135.0,401.6 135.5,401.3 136.0,400.9 136.5,400.6 137.0,400.2 137.5,399.8 138.0,399.4 138.5,399.0 139.0,398.6 139.5,398.2 140.0,397.8 140.5,397.4 141.0,397.0 141.5,396.6 142.0,396.2 142.5,395.7 143.0,395.3 143.5,394.8 144.0,394.4 144.5,393.9 145.0,393.4 145.5,392.9 146.0,392.4 146.5,391.8 147.0,391.3 147.5,390.8 148.0,390.2 148.5,389.6 149.0,389.1 149.5,388.5 150.0,387.9 150.5,387.4 151.0,386.8 151.5,386.2 152.0,385.6 152.5,385.0 153.0,384.4 153.5,383.9 154.0,383.3 154.5,382.7 155.0,382.1 155.5,381.5 156.0,380.9 156.5,380.4 157.0,379.8 157.5,379.2 158.0,378.6 158.5,378.0 159.0,377.4 159.5,376.8 160.0,376.2 160.5,375.6 161.0,374.9 161.5,374.3 162.0,373.7 162.5,373.0 163.0,372.4 163.5,371.7 164.0,371.0 164.5,370.3 165.0,369.6 165.5,368.9 166.0,368.2 166.5,367.4 167.0,366.7 167.5,366.0 168.0,365.2 168.5,364.5 169.0,363.7 169.5,363.0 170.0,362.2 170.5,361.4 171.0,360.5 171.5,359.7 172.0,358.8 172.5,357.9 173.0,356.9 173.5,355.9 174.0,354.9 174.5,353.9 175.0,352.8 175.5,351.6 176.0,350.4 176.5,349.0 177.0,347.6 177.5,346.0 178.0,344.5 178.5,342.9 179.0,341.3 179.5,339.6 180.0,338.0 180.5,336.3 181.0,334.6 181.5,332.8 182.0,331.0 182.5,329.1 183.0,327.2 183.5,325.4 184.0,323.5 184.5,321.7 185.0,320.0 185.5,318.3 186.0,316.7 186.5,315.1 187.0,313.5 187.5,311.9 188.0,310.3 188.5,308.7 189.0,307.2 189.5,305.6 190.0,304.0 190.5,302.4 191.0,300.9 191.5,299.4 192.0,298.0 192.5,296.5 193.0,294.9 193.5,293.4 194.0,291.7 194.5,289.9 195.0,288.0 195.5,285.9 196.0,283.6 196.5,281.1 197.0,278.4 197.5,275.7 198.0,272.9 198.5,270.1 199.0,267.3 199.5,264.6 200.0,262.0 200.5,259.5 201.0,256.9 201.5,254.4 202.0,251.9 202.5,249.4 203.0,246.9 203.5,244.4 204.0,242.0 204.5,239.5 205.0,237.0 205.5,234.5 206.0,232.0 206.5,229.5 207.0,227.0 207.5,224.4 208.0,221.9 208.5,219.4 209.0,216.9 209.5,214.3 210.0,211.8 210.5,209.3 211.0,206.9 211.5,204.4 212.0,202.0 212.5,199.5 213.0,197.0 213.5,194.4 214.0,191.7 214.5,189.1 215.0,186.5 215.5,184.0 216.0,181.5 216.5,179.2 217.0,177.1 217.5,175.2 218.0,173.5 218.5,172.0 219.0,170.7 219.5,169.4 220.0,168.1 220.5,166.8 221.0,165.6 221.5,164.4 222.0,163.2 222.5,162.1 223.0,161.0 223.5,160.0 224.0,159.0 224.5,158.2 225.0,157.4 225.5,156.6 226.0,156.0 226.5,155.5 227.0,155.1 227.5,154.8 228.0,154.6 228.5,154.5 229.0,154.6 229.5,154.9 230.0,155.4 230.5,156.1 231.0,156.9 231.5,158.0 232.0,159.1 232.5,160.5 233.0,161.9 233.5,163.5 234.0,165.3 234.5,167.1 235.0,169.1 235.5,171.1 236.0,173.2 236.5,175.4 237.0,177.7 237.5,180.1 238.0,183.3 238.5,187.5 239.0,192.4 239.5,197.9 240.0,203.7 240.5,209.5 241.0,215.1 241.5,220.3 242.0,225.1 242.5,229.8 243.0,234.4 243.5,239.2 244.0,244.1 244.5,249.4 245.0,255.2 245.5,261.6 246.0,268.8 246.5,276.9 247.0,285.5 247.5,294.7 248.0,304.2 248.5,314.0 249.0,325.0 249.5,336.9 250.0,349.1 250.5,361.0 251.0,372.1 251.5,381.8 252.0,390.7 252.5,399.3 253.0,407.4 253.5,415.3 254.0,422.8 254.5,430.0 255.0,437.0 255.5,443.8 256.0,450.3 256.5,456.7 257.0,462.8 257.5,468.8 258.1,474.6 258.6,480.1 259.1,485.4 259.6,490.3 260.1,495.0 260.6,499.4 261.1,503.7 261.6,507.8 262.1,511.7 262.7,515.5 263.2,519.3 263.7,522.9 264.2,526.4 264.7,529.8 265.2,533.2 265.7,536.5 266.3,539.9 266.8,543.2 267.3,546.9 267.8,550.9 268.3,555.2 268.8,559.9 269.4,564.9 269.9,570.0 270.4,575.2 270.9,580.3 271.4,585.0 272.0,589.0 272.5,592.2 273.0,594.3 273.5,595.0 274.0,594.5 274.5,593.0 275.0,590.7 275.5,587.7 276.0,584.4 276.5,581.0 277.1,577.6 277.6,574.3 278.1,571.4 278.6,568.7 279.1,566.4 279.6,564.3 280.1,562.3 280.6,560.3 281.1,558.3 281.6,556.2 282.1,554.1 282.6,551.9 283.1,549.7 283.6,547.4 284.1,545.1 284.6,542.7 285.1,540.2 285.6,537.4 286.0,534.6 286.5,531.6 287.0,528.6 287.5,525.6 288.0,522.7 288.5,520.0 289.0,517.5 289.5,515.1 290.0,512.9 290.5,510.7 291.0,508.7 291.4,506.6 291.9,504.6 292.4,502.6 292.9,500.6 293.4,498.5 293.9,496.3 294.4,494.0 294.9,491.6 295.3,489.0 295.8,486.2 296.3,483.2 296.8,480.0 297.3,476.2 297.7,471.6 298.2,466.4 298.7,460.9 299.1,455.3 299.6,449.9 300.1,444.8 300.5,440.2 301.0,435.7 301.5,431.4 302.0,427.1 302.4,422.9 302.9,418.7 303.4,414.7 303.9,410.6 304.3,406.6 304.8,402.6 305.3,398.6 305.8,394.7 306.2,390.7 306.7,386.7 307.2,382.6 307.7,378.6 308.2,374.6 308.6,370.6 309.1,366.7 309.6,362.8 310.1,358.9 310.5,354.9 311.0,351.0 311.5,347.0 312.0,342.9 312.4,338.7 312.9,334.4 313.4,330.0 313.9,325.4 314.3,320.6 314.8,315.7 315.3,310.7 315.7,305.6 316.2,300.4 316.7,295.2 317.1,290.1 317.6,285.0 318.1,280.0 318.6,275.0 319.0,270.0 319.5,265.1 320.0,260.1 320.4,255.2 320.9,250.4 321.4,245.7 321.8,241.1 322.3,236.5 322.8,231.9 323.3,227.2 323.7,222.6 324.2,218.0 324.7,213.5 325.2,209.1 325.6,204.7 326.1,200.5 326.6,196.4 327.1,192.5 327.5,188.8 328.0,185.3 328.5,182.0 329.0,179.0 329.5,175.9 329.9,172.8 330.4,169.6 330.9,166.5 331.4,163.3 331.9,160.3 332.3,157.3 332.8,154.5 333.3,151.8 333.8,149.3 334.3,147.1 334.8,145.1 335.3,143.4 335.8,142.0 336.2,141.0 336.7,140.3 337.2,140.1 337.7,140.3 338.2,140.8 338.8,141.7 339.3,142.8 339.8,144.3 340.3,146.0 340.8,148.0 341.3,150.3 341.8,152.7 342.3,155.3 342.9,158.1 343.4,161.1 343.9,164.1 344.4,167.3 344.9,170.6 345.4,174.0 346.0,177.4 346.5,180.9 347.0,184.7 347.5,188.9 348.1,193.7 348.6,199.0 349.1,205.0 349.7,211.5 350.2,218.7 350.8,226.7 351.3,235.4 351.9,245.0 352.5,258.2 353.1,275.2 353.7,294.5 354.3,314.5 354.9,333.8 355.5,354.1 356.2,375.6 356.8,396.9 357.4,416.6 358.0,433.5 358.6,448.5 359.2,462.4 359.8,475.2 360.3,486.7 360.9,497.0 361.4,506.4 362.0,515.2 362.5,523.6 363.1,531.6 363.6,539.2 364.2,546.4 364.7,553.5 365.3,560.3 365.8,566.9 366.3,573.5 366.9,580.0 367.4,586.5 368.0,593.1 368.5,599.9 369.0,606.8 369.6,614.2 370.1,621.8 370.7,629.6 371.2,637.4 371.8,645.2 372.3,652.8 372.8,660.3 373.4,667.3 373.9,674.5 374.4,682.1 374.9,689.8 375.5,697.1 376.0,703.7 376.5,708.9 377.0,712.3 377.5,713.5 378.0,712.7 378.5,710.4 379.0,706.9 379.5,702.4 380.0,697.3 380.5,692.0 381.0,686.6 381.5,681.5 381.9,676.6 382.4,672.2 382.9,668.1 383.4,664.4 383.9,661.0 384.3,657.9 384.8,655.0 385.3,652.4 385.8,650.1 386.3,647.9 386.8,645.8 387.3,643.8 387.8,641.8 388.2,639.8 388.7,637.8 389.2,635.8 389.7,633.7 390.2,631.6 390.7,629.5 391.2,627.2 391.7,624.9 392.1,622.5 392.6,619.9 393.1,617.2 393.6,614.3 394.1,611.3 394.6,608.1 395.0,604.8 395.5,601.4 396.0,597.9 396.5,594.3 396.9,590.7 397.4,587.1 397.9,583.4 398.4,579.8 398.9,576.2 399.3,572.5 399.8,568.8 400.3,565.1 400.8,561.2 401.2,557.3 401.7,553.3 402.2,549.2 402.7,545.0 403.1,540.6 403.6,536.1 404.1,531.3 404.6,526.5 405.0,521.6 405.5,516.6 406.0,511.5 406.4,506.5 406.9,501.5 407.4,496.6 407.9,491.7 408.3,487.0 408.8,482.4 409.3,478.0 409.7,473.6 410.2,469.3 410.7,465.0 411.2,460.8 411.6,456.5 412.1,452.1 412.6,447.7 413.1,443.1 413.5,438.4 414.0,433.5 414.5,428.3 414.9,422.8 415.4,417.0 415.9,411.0 416.3,404.8 416.8,398.5 417.3,392.0 417.7,385.6 418.2,379.2 418.6,372.9 419.1,366.8 419.6,360.9 420.0,355.2 420.5,349.8 421.0,344.6 421.4,339.5 421.9,334.5 422.4,329.7 422.9,324.9 423.3,320.1 423.8,315.4 424.3,310.6 424.7,305.8 425.2,300.9 425.7,295.9 426.1,290.8 426.6,285.5 427.1,280.0 427.5,274.2 428.0,268.1 428.5,261.8 428.9,255.4 429.4,248.8 429.9,242.3 430.3,235.9 430.8,229.6 431.2,223.5 431.7,217.8 432.2,212.2 432.6,206.6 433.1,200.9 433.6,195.2 434.0,189.6 434.5,184.1 435.0,178.7 435.4,173.4 435.9,168.3 436.4,163.4 436.9,158.7 437.3,154.4 437.8,150.3 438.3,146.6 438.8,143.3 439.2,140.3 439.7,137.2 440.2,134.1 440.7,131.1 441.2,128.1 441.7,125.1 442.1,122.3 442.6,119.5 443.1,116.8 443.6,114.3 444.1,111.9 444.6,109.6 445.0,107.6 445.5,105.7 446.0,104.1 446.5,102.7 447.0,101.6 447.5,100.8 448.0,100.2 448.5,100.0 449.0,100.2 449.5,100.9 450.0,102.2 450.5,103.9 451.0,106.0 451.6,108.6 452.1,111.5 452.6,114.7 453.1,118.2 453.6,122.0 454.2,125.9 454.7,130.0 455.2,134.2 455.7,138.4 456.3,142.7 456.8,147.5 457.3,153.3 457.9,159.8 458.4,167.1 459.0,174.9 459.5,183.1 460.1,191.7 460.6,200.4 461.2,209.1 461.7,217.8 462.3,225.9 462.8,233.4 463.3,240.8 463.9,248.9 464.5,258.1 465.0,269.0 465.6,282.3 466.2,299.1 466.9,334.2 467.6,374.0 468.3,402.7 469.0,429.2 469.6,453.4 470.3,474.5 470.9,492.0 471.4,506.0 472.0,518.1 472.6,528.9 473.1,538.5 473.7,547.5 474.2,556.2 474.8,565.0 475.3,574.1 475.9,584.1 476.5,594.4 477.0,604.9 477.6,615.1 478.2,624.9 478.7,633.9 479.3,642.5 479.8,650.9 480.3,659.3 480.9,667.8 481.4,676.6 482.0,685.9 482.5,695.8 483.1,706.3 483.6,718.5 484.2,731.6 484.7,744.5 485.3,755.7 485.8,763.8 486.3,767.5 486.8,767.2 487.3,765.6 487.8,763.0 488.3,759.7 488.8,755.9 489.3,752.1 489.8,748.4 490.3,745.0 490.8,742.0 491.3,739.6 491.8,737.6 492.3,735.9 492.8,734.5 493.3,733.2 493.8,732.0 494.3,730.7 494.8,729.4 495.3,727.9 495.8,726.3 496.3,724.5 496.7,722.5 497.2,720.4 497.7,718.0 498.2,714.2 498.7,708.3 499.1,701.2 499.6,693.5 500.0,686.2 500.5,680.0 501.0,674.8 501.4,669.8 501.9,665.0 502.4,660.4 502.8,656.0 503.3,651.7 503.8,647.4 504.3,643.1 504.7,638.8 505.2,634.5 505.7,630.0 506.2,625.5 506.6,620.9 507.1,616.4 507.6,611.9 508.0,607.3 508.5,602.8 509.0,598.2 509.5,593.7 509.9,589.2 510.4,584.7 510.9,580.3 511.4,575.8 511.8,571.4 512.3,567.0 512.8,562.6 513.3,558.1 513.7,553.6 514.2,549.0 514.7,544.5 515.1,540.1 515.6,535.8 516.1,531.6 516.6,527.5 517.0,523.6 517.5,520.0 518.0,516.7 518.5,513.7 519.0,510.9 519.5,508.2 519.9,505.6 520.4,502.9 520.9,500.1 521.4,497.1 521.9,493.8 522.3,490.0 522.8,485.5 523.3,480.2 523.8,474.3 524.2,468.2 524.7,462.2 525.1,456.5 525.6,451.2 526.1,446.0 526.5,440.9 527.0,435.9 527.5,430.9 528.0,426.0 528.4,421.1 528.9,416.2 529.4,411.3 529.8,406.3 530.3,401.3 530.8,396.3 531.3,391.2 531.7,386.1 532.2,381.1 532.7,376.0 533.1,371.0 533.6,366.0 534.1,361.0 534.5,356.1 535.0,351.3 535.5,346.5 536.0,341.8 536.4,337.2 536.9,332.8 537.4,328.4 537.8,324.2 538.3,320.0 538.8,315.8 539.3,311.5 539.7,307.2 540.2,302.9 540.7,298.4 541.2,293.8 541.6,289.0 542.1,283.9 542.6,278.6 543.0,273.1 543.5,267.3 544.0,261.5 544.4,255.6 544.9,249.7 545.4,243.8 545.8,238.1 546.3,232.5 546.8,227.2 547.2,222.0 547.7,216.9 548.2,211.9 548.6,206.9 549.1,202.0 549.6,197.0 550.1,192.1 550.5,187.2 551.0,182.2 551.5,177.1 551.9,171.6 552.4,165.9 552.9,160.0 553.3,154.2 553.8,148.5 554.3,143.3 554.7,138.5 555.2,134.4 555.7,131.1 556.2,128.7 556.7,126.3 557.1,124.1 557.6,121.9 558.1,119.8 558.6,117.8 559.1,115.9 559.6,114.2 560.1,112.6 560.6,111.3 561.1,110.1 561.6,109.1 562.1,108.4 562.5,107.9 563.0,107.6 563.5,107.7 564.1,108.4 564.6,109.7 565.1,111.5 565.6,113.9 566.1,116.6 566.6,119.7 567.1,123.1 567.7,126.7 568.2,130.5 568.7,134.5 569.2,138.6 569.8,142.7 570.3,147.5 570.8,153.4 571.4,160.2 571.9,167.6 572.5,175.2 573.0,182.8 573.5,190.1 574.1,196.7 574.6,203.0 575.2,209.1 575.7,215.2 576.2,221.4 576.8,228.0 577.3,235.1 577.9,242.9 578.4,251.1 579.0,259.7 579.5,269.5 580.1,281.0 580.7,295.0 581.3,318.2 582.0,346.2 582.6,366.3 583.2,383.0 583.8,397.8 584.4,411.6 585.0,425.0 585.5,438.3 586.1,450.5 586.7,462.2 587.2,474.0 587.8,486.7 588.4,501.0 589.0,518.1 589.6,536.6 590.2,555.0 590.8,571.7 591.4,585.3 592.0,597.3 592.6,608.3 593.1,618.7 593.7,628.4 594.2,637.7 594.8,646.7 595.3,655.6 595.9,664.7 596.4,673.6 597.0,682.3 597.5,690.5 598.1,697.9 598.6,705.1 599.1,712.8 599.7,720.9 600.2,729.0 600.7,736.9 601.3,744.3 601.8,750.7 602.3,755.6 602.8,758.9 603.3,760.0 603.8,759.3 604.3,757.3 604.8,754.1 605.3,750.2 605.8,745.7 606.3,741.1 606.8,736.5 607.3,732.2 607.8,728.3 608.2,724.8 608.7,721.9 609.2,719.3 609.7,717.0 610.2,714.7 610.7,712.6 611.2,710.5 611.7,708.4 612.1,706.2 612.6,703.9 613.1,701.6 613.6,699.2 614.1,696.6 614.6,693.9 615.1,691.0 615.5,687.9 616.0,684.6 616.5,681.1 617.0,677.4 617.4,673.6 617.9,669.7 618.4,665.7 618.9,661.6 619.4,657.5 619.8,653.2 620.3,649.0 620.8,644.8 621.2,640.5 621.7,636.3 622.2,632.1 622.7,628.0 623.1,624.0 623.6,620.1 624.1,616.3 624.6,612.5 625.1,608.8 625.5,605.1 626.0,601.4 626.5,597.8 627.0,594.1 627.4,590.5 627.9,586.8 628.4,583.2 628.9,579.6 629.4,575.9 629.8,572.2 630.3,568.6 630.8,564.9 631.3,561.1 631.7,557.4 632.2,553.6 632.7,549.7 633.2,545.8 633.7,541.9 634.1,538.0 634.6,534.0 635.1,530.0 635.6,526.0 636.0,521.9 636.5,517.9 637.0,513.7 637.5,509.6 637.9,505.4 638.4,501.2 638.9,496.9 639.4,492.5 639.8,488.1 640.3,483.6 640.8,479.1 641.3,474.4 641.7,469.5 642.2,464.5 642.7,459.4 643.1,454.3 643.6,449.2 644.1,444.1 644.5,439.1 645.0,434.2 645.5,429.5 646.0,424.8 646.4,420.2 646.9,415.6 647.4,411.1 647.8,406.6 648.3,402.1 648.8,397.7 649.3,393.3 649.7,388.9 650.2,384.6 650.7,380.3 651.2,376.0 651.6,371.7 652.1,367.4 652.6,363.1 653.1,358.9 653.5,354.6 654.0,350.4 654.5,346.1 655.0,341.8 655.4,337.6 655.9,333.4 656.4,329.2 656.9,325.0 657.3,320.9 657.8,316.7 658.3,312.6 658.8,308.5 659.2,304.3 659.7,300.2 660.2,296.2 660.7,292.1 661.1,288.0 661.6,283.9 662.1,279.9 662.6,275.9 663.0,271.8 663.5,267.8 664.0,263.8 664.5,259.9 664.9,255.9 665.4,251.9 665.9,247.9 666.4,243.9 666.8,240.0 667.3,236.0 667.8,232.0 668.3,228.0 668.7,223.8 669.2,219.4 669.7,214.9 670.2,210.5 670.6,206.0 671.1,201.6 671.6,197.4 672.1,193.3 672.5,189.5 673.0,186.1 673.5,182.9 674.0,180.2 674.5,177.7 675.0,175.1 675.4,172.6 675.9,170.1 676.4,167.7 676.9,165.5 677.4,163.5 677.9,161.7 678.4,160.2 678.9,159.0 679.4,158.1 679.8,157.7 680.3,157.8 680.9,158.2 681.4,159.0 681.9,160.2 682.4,161.6 682.9,163.4 683.4,165.3 683.9,167.5 684.4,169.8 684.9,172.3 685.5,174.9 686.0,177.5 686.5,180.2 687.0,183.2 687.5,186.8 688.0,191.0 688.6,195.6 689.1,200.7 689.6,206.1 690.2,211.9 690.7,217.9 691.2,224.1 691.8,230.4 692.3,237.2 692.9,244.6 693.4,252.7 694.0,261.2 694.5,270.2 695.1,279.6 695.6,289.2 696.2,298.9 696.8,308.8 697.3,319.0 697.9,329.6 698.4,340.9 699.0,352.9 699.6,366.0 700.2,380.2 700.8,398.4 701.4,420.9 702.1,444.4 702.7,465.2 703.3,480.0 703.8,490.2 704.4,499.5 705.0,508.1 705.5,516.1 706.0,523.4 706.6,530.2 707.1,536.5 707.7,542.4 708.2,547.9 708.7,553.2 709.3,558.2 709.8,563.1 710.3,567.9 710.8,572.6 711.4,577.4 711.9,582.3 712.4,587.3 713.0,592.6 713.5,598.2 714.0,604.1 714.6,610.4 715.1,616.8 715.6,623.4 716.2,630.1 716.7,636.7 717.3,643.5 717.8,650.2 718.3,656.9 718.9,663.5 719.4,670.7 719.9,678.5 720.5,686.6 721.0,694.5 721.5,701.6 722.1,707.5 722.6,711.6 723.1,713.4 723.6,713.2 724.1,712.0 724.6,710.1 725.1,707.5 725.6,704.6 726.1,701.5 726.6,698.5 727.1,695.5 727.5,692.9 728.0,690.4 728.5,687.8 729.0,685.2 729.5,682.6 730.0,679.9 730.5,677.1 731.0,674.3 731.4,671.4 731.9,668.6 732.4,665.7 732.9,662.8 733.4,660.0 733.8,657.2 734.3,654.3 734.8,651.3 735.3,648.2 735.8,645.1 736.3,641.9 736.7,638.7 737.2,635.4 737.7,632.1 738.2,628.8 738.7,625.5 739.1,622.2 739.6,618.9 740.1,615.6 740.6,612.4 741.1,609.1 741.5,605.9 742.0,602.8 742.5,599.7 743.0,596.6 743.5,593.5 743.9,590.4 744.4,587.3 744.9,584.3 745.4,581.2 745.9,578.1 746.4,575.1 746.8,572.0 747.3,568.9 747.8,565.8 748.3,562.7 748.8,559.5 749.2,556.4 749.7,553.2 750.2,549.9 750.7,546.7 751.2,543.4 751.6,540.0 752.1,536.6 752.6,533.2 753.1,529.8 753.6,526.4 754.0,522.9 754.5,519.4 755.0,515.8 755.5,512.3 756.0,508.7 756.4,505.1 756.9,501.4 757.4,497.8 757.9,494.1 758.3,490.4 758.8,486.7 759.3,483.0 759.8,479.2 760.3,475.4 760.7,471.6 761.2,467.7 761.7,463.7 762.2,459.7 762.6,455.7 763.1,451.7 763.6,447.7 764.1,443.7 764.5,439.7 765.0,435.8 765.5,431.9 766.0,428.1 766.4,424.3 766.9,420.5 767.4,416.7 767.9,412.9 768.4,409.1 768.8,405.4 769.3,401.6 769.8,397.9 770.3,394.3 770.7,390.6 771.2,387.0 771.7,383.5 772.2,380.0 772.7,376.6 773.1,373.3 773.6,370.0 774.1,366.9 774.6,363.7 775.1,360.6 775.5,357.4 776.0,354.2 776.5,350.9 777.0,347.6 777.5,344.1 777.9,340.5 778.4,336.7 778.9,332.7 779.4,328.5 779.8,324.3 780.3,320.0 780.8,315.6 781.3,311.3 781.7,307.1 782.2,303.0 782.7,299.0 783.2,295.2 783.7,291.6 784.1,288.3 784.6,285.2 785.1,282.2 785.6,279.2 786.1,276.3 786.5,273.5 787.0,270.7 787.5,268.0 788.0,265.4 788.5,262.9 789.0,260.5 789.5,258.3 789.9,256.1 790.4,254.1 790.9,252.2 791.4,250.4 791.9,248.8 792.4,247.1 792.9,245.4 793.4,243.8 793.9,242.1 794.3,240.5 794.8,238.9 795.3,237.3 795.8,235.8 796.3,234.4 796.8,233.0 797.3,231.8 797.8,230.6 798.3,229.6 798.8,228.6 799.3,227.9 799.8,227.2 800.3,226.7 800.8,226.4 801.3,226.3 801.8,226.4 802.3,226.7 802.8,227.1 803.3,227.8 803.8,228.7 804.3,229.7 804.8,230.8 805.3,232.2 805.8,233.6 806.3,235.2 806.8,236.8 807.3,238.6 807.8,240.5 808.4,242.4 808.9,244.4 809.4,246.4 809.9,248.4 810.4,250.5 810.9,252.9 811.4,255.8 812.0,259.1 812.5,262.7 813.0,266.6 813.5,270.8 814.1,275.2 814.6,279.8 815.1,284.5 815.6,289.4 816.2,294.3 816.7,299.2 817.2,304.1 817.8,308.8 818.3,313.6 818.8,318.5 819.3,323.7 819.9,329.3 820.4,335.6 821.0,342.5 821.5,350.3 822.1,359.1 822.6,370.4 823.2,388.5 823.9,410.4 824.5,432.2 825.1,450.0 825.7,461.7 826.2,471.5 826.8,480.3 827.3,488.2 827.9,495.4 828.4,502.1 829.0,508.5 829.5,514.8 830.0,521.1 830.6,527.7 831.1,534.6 831.7,541.9 832.2,549.3 832.7,556.6 833.3,563.9 833.8,570.9 834.4,577.4 834.9,583.5 835.4,588.9 836.0,593.4 836.5,597.2 837.0,600.7 837.5,604.0 838.0,607.1 838.6,610.0 839.1,612.7 839.6,615.2 840.1,617.6 840.6,619.7 841.1,621.7 841.6,623.5 842.2,625.2 842.7,626.8 843.2,628.4 843.7,630.1 844.2,631.7 844.7,633.4 845.2,635.1 845.7,636.7 846.2,638.3 846.7,639.8 847.2,641.1 847.7,642.2 848.2,643.1 848.7,643.8 849.2,644.1 849.7,644.0 850.2,643.6 850.7,642.8 851.2,641.7 851.7,640.4 852.2,638.9 852.7,637.2 853.2,635.5 853.7,633.7 854.2,631.9 854.7,630.1 855.2,628.4 855.7,626.8 856.2,625.2 856.6,623.7 857.1,622.1 857.6,620.5 858.1,618.8 858.6,617.1 859.1,615.3 859.6,613.4 860.1,611.4 860.6,609.4 861.0,607.4 861.5,605.2 862.0,603.0 862.5,600.7 863.0,598.4 863.5,596.0 864.0,593.5 864.4,590.8 864.9,587.9 865.4,584.7 865.9,581.5 866.4,578.0 866.9,574.4 867.3,570.7 867.8,566.9 868.3,563.1 868.8,559.1 869.2,555.1 869.7,551.1 870.2,547.1 870.7,543.0 871.1,539.0 871.6,535.1 872.1,531.2 872.6,527.3 873.0,523.6 873.5,520.0 874.0,516.5 874.5,513.2 875.0,510.0 875.4,507.0 875.9,504.2 876.4,501.5 876.9,499.0 877.4,496.5 877.9,494.1 878.4,491.8 878.8,489.5 879.3,487.3 879.8,485.1 880.3,483.0 880.8,480.8 881.3,478.7 881.8,476.6 882.3,474.5 882.7,472.3 883.2,470.2 883.7,467.9 884.2,465.7 884.7,463.4 885.2,461.0 885.7,458.5 886.1,456.0 886.6,453.4 887.1,450.8 887.6,448.2 888.1,445.5 888.6,442.8 889.0,440.1 889.5,437.4 890.0,434.8 890.5,432.1 891.0,429.5 891.5,426.9 891.9,424.3 892.4,421.8 892.9,419.2 893.4,416.7 893.9,414.1 894.4,411.6 894.9,409.0 895.3,406.5 895.8,404.1 896.3,401.6 896.8,399.2 897.3,396.8 897.8,394.5 898.3,392.2 898.7,389.9 899.2,387.7 899.7,385.5 900.2,383.3 900.7,381.1 901.2,379.0 901.7,376.8 902.2,374.6 902.6,372.4 903.1,370.2 903.6,368.0 904.1,365.7 904.6,363.4 905.1,361.0 905.6,358.7 906.0,356.3 906.5,353.9 907.0,351.5 907.5,349.2 908.0,346.9 908.5,344.6 909.0,342.3 909.4,340.2 909.9,338.0 910.4,335.9 910.9,333.8 911.4,331.6 911.9,329.5 912.4,327.4 912.9,325.3 913.3,323.3 913.8,321.3 914.3,319.4 914.8,317.6 915.3,315.9 915.8,314.3 916.3,312.8 916.8,311.3 917.3,309.8 917.8,308.3 918.3,306.9 918.8,305.5 919.2,304.1 919.7,302.9 920.2,301.8 920.7,300.7 921.2,299.8 921.7,299.1 922.2,298.5 922.7,298.1 923.2,297.6 923.7,297.3 924.2,296.9 924.7,296.6 925.2,296.4 925.7,296.3 926.2,296.2 926.7,296.2 927.2,296.2 927.7,296.4 928.2,296.8 928.7,297.4 929.2,298.2 929.7,299.2 930.2,300.3 930.7,301.6 931.2,303.0 931.7,304.4 932.3,306.0 932.8,307.6 933.3,309.2 933.8,310.8 934.3,312.5 934.8,314.1 935.3,315.7 935.8,317.4 936.3,319.2 936.8,321.1 937.3,323.1 937.9,325.3 938.4,327.5 938.9,329.9 939.4,332.5 939.9,335.1 940.4,337.9 941.0,340.9 941.5,344.1 942.0,348.0 942.5,352.5 943.0,357.6 943.6,363.0 944.1,368.6 944.6,374.3 945.2,379.8 945.7,385.0 946.2,390.0 946.8,394.9 947.3,399.9 947.8,404.9 948.4,409.8 948.9,414.8 949.4,419.8 950.0,424.9 950.5,430.0 951.0,435.4 951.5,441.0 952.1,446.4 952.6,451.7 953.1,456.5 953.7,460.8 954.2,464.7 954.7,468.3 955.2,471.6 955.8,474.8 956.3,477.8 956.8,480.8 957.3,483.6 957.8,486.5 958.3,489.3 958.9,492.3 959.4,495.3 959.9,498.4 960.4,501.8 960.9,505.3 961.5,509.1 962.0,513.3 962.5,517.6 963.0,522.1 963.6,526.6 964.1,531.1 964.6,535.4 965.1,539.6 965.7,543.5 966.2,547.2 966.7,550.9 967.2,554.5 967.8,558.2 968.3,561.7 968.8,565.0 969.3,568.1 969.8,570.9 970.3,573.3 970.9,575.3 971.4,577.1 971.9,578.8 972.4,580.6 972.9,582.4 973.4,584.2 973.9,585.9 974.4,587.5 974.9,589.0 975.4,590.4 975.9,591.5 976.4,592.3 976.9,592.8 977.4,593.0 977.9,592.8 978.4,592.4 978.9,591.7 979.4,590.8 979.9,589.8 980.4,588.6 980.9,587.3 981.4,586.1 981.9,584.8 982.4,583.6 982.9,582.4 983.4,581.3 983.9,580.3 984.4,579.3 984.9,578.3 985.4,577.3 985.9,576.3 986.4,575.2 986.8,574.1 987.3,573.0 987.8,571.9 988.3,570.7 988.8,569.5 989.3,568.2 989.8,567.0 990.3,565.7 990.8,564.4 991.3,563.0 991.8,561.7 992.3,560.3 992.8,558.9 993.2,557.4 993.7,555.9 994.2,554.4 994.7,552.8 995.2,551.2 995.7,549.6 996.2,547.9 996.7,546.1 997.2,544.4 997.7,542.6 998.1,540.7 998.6,538.9 999.1,537.0 999.6,535.0 1000.1,533.1 1000.6,531.1 1001.1,529.1 1001.6,527.0 1002.1,524.9 1002.5,522.6 1003.0,520.2 1003.5,517.7 1004.0,515.2 1004.5,512.6 1005.0,509.9 1005.4,507.2 1005.9,504.5 1006.4,501.8 1006.9,499.2 1007.4,496.5 1007.9,494.0 1008.4,491.5 1008.8,489.1 1009.3,486.8 1009.8,484.6 1010.3,482.5 1010.8,480.4 1011.3,478.4 1011.8,476.5 1012.3,474.6 1012.7,472.7 1013.2,470.8 1013.7,469.0 1014.2,467.2 1014.7,465.4 1015.2,463.6 1015.7,461.8 1016.2,460.0 1016.7,458.2 1017.1,456.4 1017.6,454.6 1018.1,452.8 1018.6,450.9 1019.1,449.1 1019.6,447.2 1020.1,445.4 1020.6,443.6 1021.1,441.7 1021.5,439.9 1022.0,438.1 1022.5,436.3 1023.0,434.4 1023.5,432.6 1024.0,430.8 1024.5,428.9 1025.0,427.0 1025.5,425.1 1025.9,423.1 1026.4,421.1 1026.9,419.2 1027.4,417.2 1027.9,415.3 1028.4,413.5 1028.9,411.7 1029.4,410.0 1029.9,408.5 1030.3,407.0 1030.8,405.6 1031.3,404.3 1031.8,403.1 1032.3,401.9 1032.8,400.7 1033.3,399.6 1033.8,398.5 1034.3,397.4 1034.8,396.3 1035.3,395.3 1035.8,394.2 1036.3,393.2 1036.8,392.1 1037.3,391.0 1037.7,390.0 1038.2,388.8 1038.7,387.7 1039.2,386.5 1039.7,385.3 1040.2,384.1 1040.7,383.0 1041.2,381.9 1041.7,380.9 1042.2,380.0 1042.7,379.3 1043.2,378.5 1043.7,377.8 1044.2,377.0 1044.7,376.2 1045.2,375.5 1045.7,374.7 1046.2,374.0 1046.7,373.2 1047.2,372.5 1047.7,371.8 1048.1,371.1 1048.6,370.4 1049.1,369.8 1049.6,369.3 1050.1,368.8 1050.6,368.3 1051.1,368.0 1051.6,367.7 1052.1,367.5 1052.6,367.5 1053.1,367.5 1053.6,367.7 1054.1,368.0 1054.6,368.4 1055.2,368.9 1055.7,369.5 1056.2,370.1 1056.7,370.8 1057.2,371.5 1057.7,372.3 1058.2,373.1 1058.7,374.0 1059.2,375.0 1059.7,376.0 1060.2,377.1 1060.7,378.3 1061.2,379.6 1061.7,380.9 1062.2,382.3 1062.7,383.7 1063.2,385.2 1063.7,386.7 1064.2,388.3 1064.8,389.9 1065.3,391.6 1065.8,393.5 1066.3,395.5 1066.8,397.7 1067.3,400.0 1067.8,402.4 1068.3,405.0 1068.9,407.6 1069.4,410.3 1069.9,413.1 1070.4,416.0 1070.9,418.8 1071.4,421.7 1072.0,424.6 1072.5,427.5 1073.0,430.3 1073.5,433.1 1074.0,435.9 1074.5,438.6 1075.1,441.2 1075.6,443.7 1076.1,446.2 1076.6,448.7 1077.1,451.2 1077.6,453.7 1078.1,456.2 1078.7,458.7 1079.2,461.2 1079.7,463.7 1080.2,466.2 1080.7,468.7 1081.2,471.2 1081.7,473.7 1082.3,476.2 1082.8,478.7 1083.3,481.2 1083.8,483.8 1084.3,486.3 1084.8,488.8 1085.4,491.4 1085.9,493.9 1086.4,496.6 1086.9,499.2 1087.4,502.0 1087.9,504.8 1088.5,507.6 1089.0,510.5 1089.5,513.3 1090.0,516.2 1090.5,519.0 1091.0,521.8 1091.6,524.6 1092.1,527.3 1092.6,529.9 1093.1,532.5 1093.6,535.0 1094.1,537.4 1094.6,539.7 1095.2,541.8 1095.7,543.9 1096.2,545.7 1096.7,547.6 1097.2,549.4 1097.7,551.1 1098.2,552.8 1098.7,554.4 1099.2,556.0 1099.7,557.5 1100.3,559.0 1100.8,560.4 1101.3,561.7 1101.8,563.0 1102.3,564.2 1102.8,565.3 1103.3,566.4 1103.8,567.6 1104.3,568.9 1104.8,570.1 1105.3,571.4 1105.8,572.8 1106.3,574.1 1106.8,575.5 1107.3,576.8 1107.9,578.1 1108.4,579.4 1108.9,580.5 1109.4,581.5 1109.9,582.4 1110.4,583.0 1110.9,583.4 1111.4,583.6 1111.8,583.5 1112.3,583.2 1112.8,582.7 1113.3,582.0 1113.8,581.2 1114.3,580.2 1114.8,579.1 1115.3,578.0 1115.7,576.8 1116.2,575.6 1116.7,574.4 1117.2,573.1 1117.7,572.0 1118.2,570.8 1118.7,569.7 1119.1,568.6 1119.6,567.6 1120.1,566.6 1120.6,565.7 1121.1,564.7 1121.6,563.9 1122.1,563.1 1122.5,562.3 1123.0,561.6 1123.5,560.9 1124.0,560.2 1124.5,559.5 1125.0,558.9 1125.5,558.2 1126.0,557.5 1126.4,556.8 1126.9,556.1 1127.4,555.5 1127.9,554.8 1128.4,554.1 1128.9,553.4 1129.4,552.8 1129.9,552.1 1130.4,551.4 1130.8,550.7 1131.3,550.0 1131.8,549.3 1132.3,548.6 1132.8,548.0 1133.3,547.3 1133.8,546.6 1134.3,545.9 1134.8,545.2 1135.3,544.5 1135.7,543.8 1136.2,543.1 1136.7,542.3 1137.2,541.6 1137.7,540.9 1138.2,540.2 1138.7,539.4 1139.2,538.7 1139.7,538.0 1140.2,537.2 1140.6,536.4 1141.1,535.7 1141.6,534.9 1142.1,534.1 1142.6,533.4 1143.1,532.6 1143.6,531.8 1144.1,531.1 1144.6,530.3 1145.1,529.5 1145.6,528.8 1146.1,528.0 1146.5,527.3 1147.0,526.6 1147.5,525.8 1148.0,525.1 1148.5,524.4 1149.0,523.7 1149.5,523.0 1150.0,522.3 1150.5,521.5 1151.0,520.7 1151.5,519.9 1152.0,519.2 1152.5,518.4 1153.0,517.6 1153.5,516.9 1154.0,516.1 1154.5,515.4 1155.0,514.6 1155.5,513.9 1156.0,513.1 1156.5,512.4 1157.0,511.7 1157.5,511.0 1158.0,510.3 1158.5,509.6 1159.0,509.0 1159.5,508.3 1160.0,507.7 1160.5,507.0 1161.0,506.4 1161.5,505.8 1162.0,505.2 1162.5,504.6 1163.0,504.0 1163.5,503.4 1164.0,502.8 1164.5,502.2 1165.0,501.6 1165.5,501.1 1166.0,500.5 1166.5,500.0 1167.0,499.4 1167.5,498.9 1168.0,498.3 1168.5,497.8 1169.0,497.2 1169.5,496.7 1170.0,496.1 1170.5,495.6 1171.0,495.1 1171.5,494.5 1172.0,494.0 1172.5,493.5 1173.0,492.9 1173.5,492.4 1174.0,491.9 1174.5,491.4 1175.0,490.9 1175.5,490.4 1176.0,489.9 1176.5,489.4 1177.0,488.9 1177.5,488.4 1178.0,487.9 1178.5,487.4 1179.0,486.9 1179.5,486.4 1180.0,485.9 1180.5,485.4 1181.0,484.9 1181.5,484.4 1182.0,483.9 1182.5,483.4 1183.0,482.9 1183.5,482.4 1184.0,481.9 1184.5,481.4 1185.0,480.9 1185.5,480.4 1186.0,479.9 1186.5,479.3 1187.0,478.8 1187.5,478.3 1188.0,477.7 1188.5,477.2 1189.0,476.7 1189.5,476.1 1190.0,475.6 1190.5,475.1 1191.0,474.7 1191.5,474.3 1192.0,473.8 1192.5,473.4 1193.0,473.0 1193.5,472.6 1194.0,472.2 1194.5,471.8 1195.0,471.4 1195.5,471.0 1196.0,470.7 1196.5,470.3 1197.0,470.0 1197.5,469.7 1198.0,469.4 1198.5,469.1 1199.0,468.8 1199.5,468.5 1200.0,468.2 1200.5,467.9 1201.0,467.7 1201.5,467.4 1202.0,467.1 1202.5,466.9 1203.0,466.6 1203.5,466.4 1204.0,466.1 1204.5,465.9 1205.0,465.6 1205.5,465.4 1206.0,465.2 1206.5,464.9 1207.0,464.7 1207.5,464.5 1208.0,464.2 1208.5,464.0 1209.0,463.8 1209.5,463.6 1210.0,463.3 1210.5,463.1 1211.0,462.9 1211.5,462.7 1212.0,462.5 1212.5,462.2 1213.0,462.0 1213.5,461.8 1214.0,461.6 1214.5,461.3 1215.0,461.1 1215.5,460.9 1216.0,460.6 1216.5,460.4 1217.0,460.2 1217.5,460.0 1218.0,459.7 1218.5,459.5 1219.0,459.3 1219.5,459.1 1220.0,458.9 1220.5,458.6 1221.0,458.4 1221.5,458.2 1222.0,458.0 1222.5,457.8 1223.0,457.6 1223.5,457.4 1224.0,457.2 1224.5,457.0 1225.0,456.8 1225.5,456.6 1226.0,456.5 1226.5,456.3 1227.0,456.1 1227.5,455.9 1228.0,455.8 1228.5,455.6 1229.0,455.5 1229.5,455.3 1230.0,455.2 1230.5,455.0 1231.0,454.8 1231.5,454.7 1232.0,454.5 1232.5,454.3 1233.0,454.2 1233.5,454.0 1234.0,453.9 1234.5,453.7 1235.0,453.6 1235.5,453.4 1236.0,453.3 1236.5,453.1 1237.0,453.0 1237.5,452.8 1238.0,452.7 1238.5,452.5 1239.0,452.4 1239.5,452.3 1240.0,452.1 1240.5,452.0 1241.0,451.9 1241.5,451.7 1242.0,451.6 1242.5,451.5 1243.0,451.4 1243.5,451.2 1244.0,451.1 1244.5,451.0 1245.0,450.9 1245.5,450.8 1246.0,450.7 1246.5,450.6 1247.0,450.5 1247.5,450.4 1248.0,450.3 1248.5,450.2 1249.0,450.1 1249.5,450.0 1250.0,449.9 1250.5,449.8 1251.0,449.8 1251.5,449.7 1252.0,449.6 1252.5,449.5 1253.0,449.4 1253.5,449.3 1254.0,449.3 1254.5,449.2 1255.0,449.1 1255.5,449.0 1256.0,448.9 1256.5,448.8 1257.0,448.8 1257.5,448.7 1258.0,448.6 1258.5,448.5 1259.0,448.4 1259.5,448.4 1260.0,448.3 1260.5,448.2 1261.0,448.1 1261.5,448.0 1262.0,448.0 1262.5,447.9 1263.0,447.8 1263.5,447.8 1264.0,447.7 1264.5,447.6 1265.0,447.5 1265.5,447.5 1266.0,447.4 1266.5,447.3 1267.0,447.3 1267.5,447.2 1268.0,447.2 1268.5,447.1 1269.0,447.0 1269.5,447.0 1270.0,446.9 1270.5,446.9 1271.0,446.8 1271.5,446.8 1272.0,446.7 1272.5,446.7 1273.0,446.6 1273.5,446.6 1274.0,446.5 1274.5,446.5 1275.0,446.4 1275.5,446.4 1276.0,446.4 1276.5,446.3 1277.0,446.3"/>
<polyline stroke="#000" stroke-width="3.7" points="27.0,429.5 44.5,429.5 45.5,424.0 72.0,424.0 74.5,417.5 83.0,410.0 92.0,400.0 100.0,389.0 110.0,375.0 122.5,355.0 138.0,328.0 150.0,302.0 162.5,276.0 172.5,251.0 182.5,225.0 191.0,199.0 199.0,167.0 209.5,135.0 217.5,116.0 222.5,104.0 224.5,98.5 247.2,98.5 249.0,111.2 256.0,128.7 263.0,148.0 270.0,165.5 277.0,186.4 284.0,207.4 287.5,218.0 287.5,219.7 306.7,219.7 312.0,207.4 319.0,198.7 326.0,191.7 329.4,189.0 338.2,189.0 343.4,197.0 350.4,218.0 355.7,235.0 357.9,250.4 366.6,295.0 375.4,330.0 385.4,380.2 393.0,405.3 398.0,407.8 404.2,407.8 410.5,392.8 420.5,355.2 428.0,325.1 435.6,295.0 442.0,283.0 449.0,283.0 458.0,305.0 465.6,342.7 473.2,392.8 480.7,442.9 485.0,470.0 492.5,517.6 500.5,545.5 509.8,545.5 514.0,530.0 523.9,495.0 527.6,475.5 535.1,430.4 542.7,392.8 552.7,360.2 567.7,360.2 572.7,375.2 577.7,405.3 582.7,442.9 590.3,495.0 597.8,555.2 607.8,605.3 617.8,620.3 630.4,592.8 639.8,555.4 646.3,526.0 652.8,493.4 659.4,469.0 664.3,452.6 669.1,441.2 672.0,438.0 681.0,438.0 687.1,449.4 692.0,465.7 696.9,485.2 701.8,511.3 706.7,537.4 709.9,560.0 718.0,592.8 735.5,647.8 750.6,622.8 763.2,580.2 775.7,542.7 785.0,527.0 793.0,520.5 800.0,526.0 808.0,538.0 822.0,574.0 836.0,619.0 844.3,652.6 852.7,672.0 866.7,672.0 875.0,654.0 888.0,630.5 900.0,614.5 906.5,610.0 920.0,610.0 931.0,630.0 940.2,645.3 952.7,670.4 958.8,687.3 964.2,698.3 966.4,708.1 974.0,709.0 974.5,715.8 1013.5,715.8 1013.5,708.0 1048.5,707.6 1050.6,715.8 1059.4,718.0 1064.9,725.6 1070.3,732.2 1078.0,742.0 1090.1,756.6 1096.4,761.7 1110.1,761.7 1120.2,752.9 1135.4,735.2 1150.2,715.3 1165.3,690.3 1180.3,667.7 1195.3,647.7 1210.3,625.1 1225.4,610.1 1240.4,595.1 1255.4,582.5 1265.5,577.5"/>
<polyline stroke="#000" stroke-dasharray="14.5 7.3" points="37.6,451.4 53.0,441.0 62.0,434.0 73.0,425.0 83.0,410.0 92.0,400.0 100.0,389.0 110.0,375.0 122.5,355.0 138.0,328.0 150.0,302.0 162.5,276.0 172.5,251.0 182.5,225.0 191.0,199.0 199.0,167.0 209.5,135.0 216.0,119.0 222.0,111.0 235.0,107.7 244.0,111.0 250.7,120.0 257.0,135.0 264.7,151.5 273.5,167.2 282.2,183.0 291.0,195.2 299.7,200.4 308.4,201.3 315.4,198.7 322.4,196.0 330.0,195.0 338.0,197.0 345.2,204.0 350.4,218.0 355.7,235.0 357.9,250.4 366.6,295.0 375.4,330.0 385.4,380.2 393.0,405.3 398.0,407.8 404.2,407.8 410.5,392.8 420.5,367.7 433.0,330.0 446.8,310.0 455.6,317.6 465.6,342.7 473.2,392.8 480.7,442.9 485.0,470.0 492.5,517.6 500.0,546.0 512.0,546.0 517.6,525.1 523.9,495.0 527.6,475.5 535.1,430.4 542.7,395.0 552.0,378.0 560.2,372.7 567.0,378.0 572.7,385.0 577.7,405.3 582.7,442.9 590.3,495.0 597.8,555.2 607.8,605.3 617.8,618.0 630.4,592.8 639.8,555.4 646.3,526.0 652.8,493.4 659.4,469.0 664.3,452.6 669.1,441.2 672.0,440.0 681.0,440.0 687.1,449.4 692.0,465.7 696.9,485.2 701.8,511.3 706.7,537.4 709.9,560.0 718.0,592.8 735.5,645.0 750.6,620.0 763.2,578.0 775.7,540.0 785.0,520.0 795.4,514.0 802.0,520.0 808.0,534.0 822.0,571.0 836.0,617.0 845.0,645.0 855.0,655.0 864.0,655.0 878.0,636.0 897.5,608.0 906.0,602.0 915.0,604.0 931.0,627.0 940.2,645.3 952.7,670.4 960.0,685.0 966.4,691.7 979.5,704.9 986.0,709.8 1021.0,708.1 1028.8,709.2 1045.2,718.0 1052.8,725.6 1066.0,738.0 1078.0,748.0 1090.1,756.6 1096.4,760.0 1110.1,760.0 1120.2,752.9 1135.4,735.2 1150.2,715.3 1165.3,690.3 1180.3,667.7 1195.3,647.7 1210.3,625.1 1225.4,610.1 1240.4,595.1 1255.4,582.5 1265.5,577.5"/>
</g>
<rect x="25" y="0" width="1255" height="1.6" fill="#e4e4e4"/>
<rect x="26.6" y="2.7" width="1250.5" height="779.6" fill="none" stroke="#5c5c5c" stroke-width="2"/>
<path d="M25.6 783H1278.1" stroke="#5c5c5c" stroke-width="2.6"/>
<path d="M223.9 782.3V770.3M223.9 2.7V13.7M429.3 782.3V770.3M429.3 2.7V13.7M634.7 782.3V770.3M634.7 2.7V13.7M840.1 782.3V770.3M840.1 2.7V13.7M1045.5 782.3V770.3M1045.5 2.7V13.7M1250.9 782.3V770.3M1250.9 2.7V13.7M26.6 99.5H39.6M1277.1 99.5H1265.1M26.6 266.2H39.6M1277.1 266.2H1265.1M26.6 432.7H39.6M1277.1 432.7H1265.1M26.6 599.3H39.6M1277.1 599.3H1265.1M26.6 765.5H39.6M1277.1 765.5H1265.1" stroke="#2e2e2e" stroke-width="2.1" fill="none"/>
<g font-family="Liberation Sans, sans-serif" font-size="25" fill="#555">
<text x="223.9" y="810.5" text-anchor="middle">3000</text>
<text x="429.3" y="810.5" text-anchor="middle">3200</text>
<text x="634.7" y="810.5" text-anchor="middle">3400</text>
<text x="840.1" y="810.5" text-anchor="middle">3600</text>
<text x="1045.5" y="810.5" text-anchor="middle">3800</text>
<text x="1250.9" y="810.5" text-anchor="middle">4000</text>
<text x="20.8" y="108.5" text-anchor="end">1</text>
<text x="20.8" y="275.2" text-anchor="end">.5</text>
<text x="20.8" y="441.7" text-anchor="end">0</text>
<text x="20.8" y="608.3" text-anchor="end">-.5</text>
<text x="20.8" y="774.5" text-anchor="end">-1</text>
</g>
<text x="650.3" y="849.2" font-family="Liberation Sans, sans-serif" font-size="36" text-anchor="middle" textLength="149.7" lengthAdjust="spacingAndGlyphs" fill="#000">Field (G)</text>
<rect x="825.8" y="3.3" width="453.2" height="273.7" fill="#fff" stroke="#4a4a4a" stroke-width="2"/>
<path d="M824.8 3.3H1279V276" fill="none" stroke="#1c1c1c" stroke-width="2.2"/>
<path d="M837.2 26.4H901.6" stroke="#0000ff" stroke-width="3.4"/>
<text x="906" y="40.5" font-family="Liberation Sans, sans-serif" font-size="25" fill="#555">0.1M VO<tspan dy="-12" font-size="19">2+</tspan></text>
<path d="M843.1 66.5H902" stroke="#0000ff" stroke-width="3.4" stroke-dasharray="15.5 6.2"/>
<text x="906" y="81" font-family="Liberation Sans, sans-serif" font-size="25" fill="#555">0.01M VO<tspan dy="-12" font-size="19">2+</tspan><tspan dy="12">, fit</tspan></text>
<path d="M837.2 106.7H901.6" stroke="#ff0000" stroke-width="3.4"/>
<text x="906" y="121.5" font-family="Liberation Sans, sans-serif" font-size="25" fill="#555">0.75M VO<tspan dy="-12" font-size="19">2+</tspan></text>
<path d="M843.1 146.3H902" stroke="#ff0000" stroke-width="3.4" stroke-dasharray="15.5 6.2"/>
<text x="906" y="161" font-family="Liberation Sans, sans-serif" font-size="25" fill="#555">0.75M VO<tspan dy="-12" font-size="19">2+</tspan><tspan dy="12">,fit</tspan></text>
<path d="M837.2 193H901.6" stroke="#000" stroke-width="3.4"/>
<text x="906" y="202.3" textLength="333" lengthAdjust="spacingAndGlyphs" font-family="Liberation Sans, sans-serif" font-size="25" fill="#555">0M H<tspan dy="12.5" font-size="19">2</tspan><tspan dy="-12.5">SO</tspan><tspan dy="12.5" font-size="19">4</tspan><tspan dy="-12.5">, 0.1M VO</tspan><tspan dy="-12" font-size="19">2+</tspan><tspan dy="12">, Nafion</tspan></text>
<path d="M843.1 245.5H902" stroke="#000" stroke-width="3.4" stroke-dasharray="15.5 6.2"/>
<text x="906" y="254.8" textLength="365.4" lengthAdjust="spacingAndGlyphs" font-family="Liberation Sans, sans-serif" font-size="25" fill="#555">0M H<tspan dy="12.5" font-size="19">2</tspan><tspan dy="-12.5">SO</tspan><tspan dy="12.5" font-size="19">4</tspan><tspan dy="-12.5">, 0.1M VO</tspan><tspan dy="-12" font-size="19">2+</tspan><tspan dy="12">, Nafion, fit</tspan></text>
</svg>
</body></html>
